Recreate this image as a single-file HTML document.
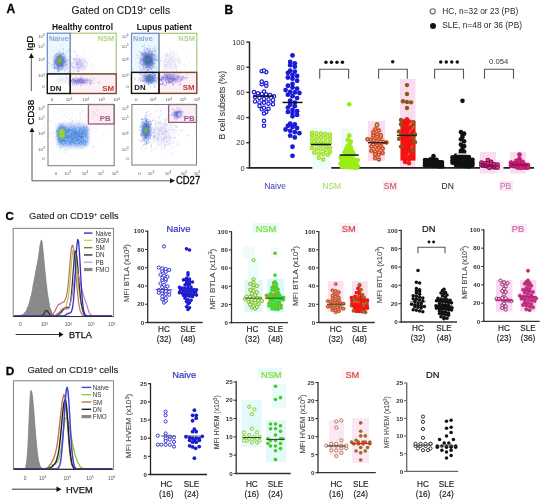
<!DOCTYPE html>
<html><head><meta charset="utf-8"><style>
html,body{margin:0;padding:0;background:#fff;width:550px;height:500px;overflow:hidden}
svg{display:block;font-family:"Liberation Sans",sans-serif;will-change:transform;filter:blur(0.35px)}
</style></head><body><svg width="550" height="500" viewBox="0 0 550 500" font-family='"Liberation Sans", sans-serif'><defs><radialGradient id="g0"><stop offset="0" stop-color="#a8a0e8" stop-opacity="1"/><stop offset="0.5" stop-color="#a8a0e8" stop-opacity="0.55"/><stop offset="1" stop-color="#a8a0e8" stop-opacity="0"/></radialGradient><radialGradient id="g1"><stop offset="0" stop-color="#a8b8ec" stop-opacity="1"/><stop offset="0.5" stop-color="#a8b8ec" stop-opacity="0.55"/><stop offset="1" stop-color="#a8b8ec" stop-opacity="0"/></radialGradient><radialGradient id="g2"><stop offset="0" stop-color="#8880dc" stop-opacity="1"/><stop offset="0.5" stop-color="#8880dc" stop-opacity="0.55"/><stop offset="1" stop-color="#8880dc" stop-opacity="0"/></radialGradient><radialGradient id="g3"><stop offset="0" stop-color="#6a78d8" stop-opacity="1"/><stop offset="0.5" stop-color="#6a78d8" stop-opacity="0.55"/><stop offset="1" stop-color="#6a78d8" stop-opacity="0"/></radialGradient><radialGradient id="g4"><stop offset="0" stop-color="#3a58b8" stop-opacity="1"/><stop offset="0.5" stop-color="#3a58b8" stop-opacity="0.55"/><stop offset="1" stop-color="#3a58b8" stop-opacity="0"/></radialGradient><radialGradient id="g5"><stop offset="0" stop-color="#b8b0f0" stop-opacity="1"/><stop offset="0.5" stop-color="#b8b0f0" stop-opacity="0.55"/><stop offset="1" stop-color="#b8b0f0" stop-opacity="0"/></radialGradient><radialGradient id="g6"><stop offset="0" stop-color="#8a80e0" stop-opacity="1"/><stop offset="0.5" stop-color="#8a80e0" stop-opacity="0.55"/><stop offset="1" stop-color="#8a80e0" stop-opacity="0"/></radialGradient><radialGradient id="g7"><stop offset="0" stop-color="#6878d8" stop-opacity="1"/><stop offset="0.5" stop-color="#6878d8" stop-opacity="0.55"/><stop offset="1" stop-color="#6878d8" stop-opacity="0"/></radialGradient><radialGradient id="g8"><stop offset="0" stop-color="#2a48b0" stop-opacity="1"/><stop offset="0.5" stop-color="#2a48b0" stop-opacity="0.55"/><stop offset="1" stop-color="#2a48b0" stop-opacity="0"/></radialGradient><radialGradient id="g9"><stop offset="0" stop-color="#2a50b0" stop-opacity="1"/><stop offset="0.5" stop-color="#2a50b0" stop-opacity="0.55"/><stop offset="1" stop-color="#2a50b0" stop-opacity="0"/></radialGradient><radialGradient id="g10"><stop offset="0" stop-color="#2a5ac8" stop-opacity="1"/><stop offset="0.5" stop-color="#2a5ac8" stop-opacity="0.55"/><stop offset="1" stop-color="#2a5ac8" stop-opacity="0"/></radialGradient><radialGradient id="g11"><stop offset="0" stop-color="#4a70d0" stop-opacity="1"/><stop offset="0.5" stop-color="#4a70d0" stop-opacity="0.55"/><stop offset="1" stop-color="#4a70d0" stop-opacity="0"/></radialGradient><radialGradient id="g12"><stop offset="0" stop-color="#2a50b8" stop-opacity="1"/><stop offset="0.5" stop-color="#2a50b8" stop-opacity="0.55"/><stop offset="1" stop-color="#2a50b8" stop-opacity="0"/></radialGradient><radialGradient id="g13"><stop offset="0" stop-color="#7080e0" stop-opacity="1"/><stop offset="0.5" stop-color="#7080e0" stop-opacity="0.55"/><stop offset="1" stop-color="#7080e0" stop-opacity="0"/></radialGradient><radialGradient id="g14"><stop offset="0" stop-color="#5068d0" stop-opacity="1"/><stop offset="0.5" stop-color="#5068d0" stop-opacity="0.55"/><stop offset="1" stop-color="#5068d0" stop-opacity="0"/></radialGradient><filter id="soft" x="-20%" y="-20%" width="140%" height="140%"><feGaussianBlur stdDeviation="0.45"/></filter><filter id="soft2" x="-50%" y="-50%" width="200%" height="200%"><feGaussianBlur stdDeviation="0.9"/></filter><filter id="soft3" x="-30%" y="-30%" width="160%" height="160%"><feGaussianBlur stdDeviation="1.8"/></filter></defs><text x="6.40" y="12.80" font-size="12" fill="#000" font-weight="bold" text-anchor="start" stroke="#000" stroke-width="0.3">A</text>
<text x="71.50" y="14.00" font-size="10.3" fill="#1a1a1a" font-weight="normal" text-anchor="start" stroke="#1a1a1a" stroke-width="0.1">Gated on CD19<tspan font-size="6" dy="-4">+</tspan><tspan dy="4"> cells</tspan></text>
<text x="82.50" y="29.80" font-size="8.4" fill="#111" font-weight="bold" text-anchor="middle" >Healthy control</text>
<text x="164.30" y="29.80" font-size="8.4" fill="#111" font-weight="bold" text-anchor="middle" >Lupus patient</text>
<rect x="47.30" y="33.20" width="22.90" height="40.70" fill="#ecf6fd" stroke="none" stroke-width="1" />
<rect x="70.20" y="73.90" width="46.00" height="19.60" fill="#fcf0f6" stroke="none" stroke-width="1" />
<ellipse cx="79.0" cy="64.0" rx="10.0" ry="9.0" fill="url(#g0)" opacity="0.45"/>
<g filter="url(#soft)"><path d="M67.2 66.4h1.0v1.0h-1.0zM80.0 64.0h1.0v1.0h-1.0zM79.0 67.7h1.0v1.0h-1.0zM72.2 67.0h1.0v1.0h-1.0zM77.1 59.3h1.0v1.0h-1.0zM82.6 63.5h1.0v1.0h-1.0zM71.7 66.6h1.0v1.0h-1.0zM79.3 59.6h1.0v1.0h-1.0zM78.7 61.0h1.0v1.0h-1.0zM83.2 67.0h1.0v1.0h-1.0zM74.3 73.3h1.0v1.0h-1.0zM76.8 61.7h1.0v1.0h-1.0zM76.1 67.2h1.0v1.0h-1.0zM79.9 66.1h1.0v1.0h-1.0zM80.4 60.1h1.0v1.0h-1.0zM73.5 60.3h1.0v1.0h-1.0zM82.2 65.1h1.0v1.0h-1.0zM76.5 64.1h1.0v1.0h-1.0zM77.0 69.5h1.0v1.0h-1.0zM73.8 51.3h1.0v1.0h-1.0zM76.6 62.4h1.0v1.0h-1.0zM77.9 59.2h1.0v1.0h-1.0zM73.1 69.6h1.0v1.0h-1.0zM82.8 59.7h1.0v1.0h-1.0zM75.4 59.3h1.0v1.0h-1.0z" fill="#8080e0" opacity="0.3"/><path d="M93.4 65.3h1.0v1.0h-1.0zM84.9 61.0h1.0v1.0h-1.0zM74.4 70.1h1.0v1.0h-1.0zM71.3 56.8h1.0v1.0h-1.0zM82.1 61.9h1.0v1.0h-1.0zM67.1 63.7h1.0v1.0h-1.0zM76.2 64.1h1.0v1.0h-1.0zM82.8 67.7h1.0v1.0h-1.0zM79.1 59.6h1.0v1.0h-1.0zM83.5 49.7h1.0v1.0h-1.0zM74.8 59.8h1.0v1.0h-1.0zM76.9 63.2h1.0v1.0h-1.0zM85.2 61.6h1.0v1.0h-1.0zM70.2 69.0h1.0v1.0h-1.0zM73.5 67.0h1.0v1.0h-1.0zM70.6 76.1h1.0v1.0h-1.0zM81.2 62.3h1.0v1.0h-1.0zM77.8 71.4h1.0v1.0h-1.0zM77.1 63.6h1.0v1.0h-1.0zM73.1 71.1h1.0v1.0h-1.0zM70.8 62.5h1.0v1.0h-1.0zM76.0 64.8h1.0v1.0h-1.0zM77.4 62.8h1.0v1.0h-1.0zM80.4 65.0h1.0v1.0h-1.0zM77.7 69.1h1.0v1.0h-1.0z" fill="#8080e0" opacity="0.3"/><path d="M68.4 55.8h1.0v1.0h-1.0zM73.6 50.4h1.0v1.0h-1.0zM76.5 71.3h1.0v1.0h-1.0zM72.2 66.7h1.0v1.0h-1.0z" fill="#8080e0" opacity="0.3"/><path d="M71.2 65.4h1.0v1.0h-1.0zM75.6 61.4h1.0v1.0h-1.0zM73.1 58.5h1.0v1.0h-1.0zM70.1 58.4h1.0v1.0h-1.0zM75.0 58.8h1.0v1.0h-1.0zM79.1 58.5h1.0v1.0h-1.0zM62.0 66.1h1.0v1.0h-1.0zM78.1 64.3h1.0v1.0h-1.0zM78.3 62.8h1.0v1.0h-1.0zM79.3 58.3h1.0v1.0h-1.0zM78.9 70.3h1.0v1.0h-1.0zM70.7 64.2h1.0v1.0h-1.0zM83.3 75.1h1.0v1.0h-1.0zM84.1 67.3h1.0v1.0h-1.0zM79.2 71.3h1.0v1.0h-1.0zM67.1 68.7h1.0v1.0h-1.0zM81.6 63.1h1.0v1.0h-1.0zM78.5 61.6h1.0v1.0h-1.0zM81.2 65.0h1.0v1.0h-1.0zM79.6 63.7h1.0v1.0h-1.0zM75.4 55.0h1.0v1.0h-1.0zM82.0 66.1h1.0v1.0h-1.0zM76.2 58.3h1.0v1.0h-1.0zM86.5 64.8h1.0v1.0h-1.0zM70.2 63.6h1.0v1.0h-1.0z" fill="#9a80e0" opacity="0.3"/><path d="M78.5 64.3h1.0v1.0h-1.0zM75.0 51.6h1.0v1.0h-1.0zM79.8 61.3h1.0v1.0h-1.0zM77.8 66.9h1.0v1.0h-1.0zM76.5 57.2h1.0v1.0h-1.0zM76.9 60.4h1.0v1.0h-1.0zM78.1 71.4h1.0v1.0h-1.0zM69.2 55.7h1.0v1.0h-1.0zM82.7 52.0h1.0v1.0h-1.0zM92.1 55.3h1.0v1.0h-1.0zM68.2 61.5h1.0v1.0h-1.0zM77.1 65.2h1.0v1.0h-1.0zM75.1 67.9h1.0v1.0h-1.0zM69.5 62.6h1.0v1.0h-1.0zM85.3 66.0h1.0v1.0h-1.0zM88.0 59.2h1.0v1.0h-1.0zM71.6 72.6h1.0v1.0h-1.0zM75.7 63.1h1.0v1.0h-1.0z" fill="#9a80e0" opacity="0.3"/><path d="M81.4 69.0h1.0v1.0h-1.0zM77.6 65.6h1.0v1.0h-1.0zM87.0 61.9h1.0v1.0h-1.0zM73.6 57.8h1.0v1.0h-1.0zM67.8 67.0h1.0v1.0h-1.0zM77.0 63.4h1.0v1.0h-1.0zM67.1 71.7h1.0v1.0h-1.0zM79.6 60.5h1.0v1.0h-1.0zM81.2 69.0h1.0v1.0h-1.0zM90.5 63.5h1.0v1.0h-1.0zM86.1 78.8h1.0v1.0h-1.0zM79.6 67.3h1.0v1.0h-1.0zM82.2 65.0h1.0v1.0h-1.0zM76.2 61.7h1.0v1.0h-1.0zM83.1 69.4h1.0v1.0h-1.0zM77.5 66.5h1.0v1.0h-1.0zM67.6 59.9h1.0v1.0h-1.0zM87.2 62.6h1.0v1.0h-1.0zM64.1 61.8h1.0v1.0h-1.0zM85.2 66.4h1.0v1.0h-1.0zM92.0 66.7h1.0v1.0h-1.0zM83.6 58.6h1.0v1.0h-1.0zM76.6 62.2h1.0v1.0h-1.0zM77.7 58.6h1.0v1.0h-1.0zM79.8 61.7h1.0v1.0h-1.0z" fill="#7070d8" opacity="0.3"/><path d="M83.6 68.9h1.0v1.0h-1.0zM84.8 73.0h1.0v1.0h-1.0zM82.8 60.1h1.0v1.0h-1.0zM73.1 67.6h1.0v1.0h-1.0zM73.9 72.3h1.0v1.0h-1.0zM77.1 70.2h1.0v1.0h-1.0zM73.9 58.3h1.0v1.0h-1.0zM70.5 65.8h1.0v1.0h-1.0zM77.7 68.1h1.0v1.0h-1.0zM90.4 69.5h1.0v1.0h-1.0zM70.2 61.3h1.0v1.0h-1.0zM76.6 54.4h1.0v1.0h-1.0zM77.1 64.1h1.0v1.0h-1.0zM54.0 67.3h1.0v1.0h-1.0zM85.1 61.6h1.0v1.0h-1.0zM82.1 65.3h1.0v1.0h-1.0zM67.9 60.1h1.0v1.0h-1.0zM73.8 58.8h1.0v1.0h-1.0zM78.1 71.0h1.0v1.0h-1.0zM81.5 72.9h1.0v1.0h-1.0zM72.5 63.0h1.0v1.0h-1.0zM80.0 66.9h1.0v1.0h-1.0zM76.4 61.9h1.0v1.0h-1.0zM68.3 58.7h1.0v1.0h-1.0zM78.5 66.8h1.0v1.0h-1.0z" fill="#7070d8" opacity="0.3"/><path d="M79.4 62.8h1.0v1.0h-1.0zM66.9 61.1h1.0v1.0h-1.0zM73.7 58.8h1.0v1.0h-1.0z" fill="#7070d8" opacity="0.3"/></g>
<ellipse cx="62.0" cy="80.0" rx="8.0" ry="5.0" fill="url(#g1)" opacity="0.3"/>
<ellipse cx="80.0" cy="81.2" rx="11.0" ry="4.2" fill="url(#g2)" opacity="0.6"/>
<g filter="url(#soft)"><path d="M71.4 82.2h1.1v1.1h-1.1zM94.0 78.1h1.1v1.1h-1.1zM81.9 78.7h1.1v1.1h-1.1zM82.1 80.3h1.1v1.1h-1.1zM86.0 82.7h1.1v1.1h-1.1zM78.6 80.5h1.1v1.1h-1.1zM77.2 80.2h1.1v1.1h-1.1zM81.1 79.3h1.1v1.1h-1.1zM93.5 80.4h1.1v1.1h-1.1zM80.8 80.6h1.1v1.1h-1.1zM87.7 80.2h1.1v1.1h-1.1zM71.8 78.2h1.1v1.1h-1.1zM70.3 79.8h1.1v1.1h-1.1zM73.9 78.1h1.1v1.1h-1.1zM84.3 80.8h1.1v1.1h-1.1zM75.2 81.0h1.1v1.1h-1.1zM80.8 80.3h1.1v1.1h-1.1zM84.5 80.7h1.1v1.1h-1.1zM73.5 83.1h1.1v1.1h-1.1zM73.8 81.4h1.1v1.1h-1.1zM73.9 81.0h1.1v1.1h-1.1zM76.1 83.6h1.1v1.1h-1.1zM74.2 84.3h1.1v1.1h-1.1zM76.3 79.3h1.1v1.1h-1.1zM90.0 82.4h1.1v1.1h-1.1z" fill="#8080e0" opacity="0.4"/><path d="M81.2 79.5h1.1v1.1h-1.1zM71.4 80.0h1.1v1.1h-1.1zM72.6 78.0h1.1v1.1h-1.1zM74.6 79.9h1.1v1.1h-1.1zM76.8 81.9h1.1v1.1h-1.1zM71.4 80.7h1.1v1.1h-1.1zM86.6 78.1h1.1v1.1h-1.1zM92.0 77.7h1.1v1.1h-1.1zM69.3 80.2h1.1v1.1h-1.1zM74.6 81.3h1.1v1.1h-1.1zM88.7 79.1h1.1v1.1h-1.1zM67.1 78.7h1.1v1.1h-1.1zM84.6 79.8h1.1v1.1h-1.1zM74.9 80.8h1.1v1.1h-1.1zM89.1 80.6h1.1v1.1h-1.1zM73.1 82.8h1.1v1.1h-1.1zM74.6 78.3h1.1v1.1h-1.1zM72.8 79.9h1.1v1.1h-1.1zM79.7 78.4h1.1v1.1h-1.1zM79.3 81.9h1.1v1.1h-1.1zM82.4 81.2h1.1v1.1h-1.1zM64.9 81.1h1.1v1.1h-1.1zM90.9 80.3h1.1v1.1h-1.1zM80.1 83.0h1.1v1.1h-1.1zM76.8 80.1h1.1v1.1h-1.1z" fill="#8080e0" opacity="0.4"/><path d="M82.7 82.7h1.1v1.1h-1.1zM72.5 78.9h1.1v1.1h-1.1zM83.1 82.2h1.1v1.1h-1.1zM80.0 84.8h1.1v1.1h-1.1z" fill="#8080e0" opacity="0.4"/><path d="M69.7 78.4h1.1v1.1h-1.1zM82.8 79.9h1.1v1.1h-1.1zM82.1 80.0h1.1v1.1h-1.1zM69.7 79.9h1.1v1.1h-1.1zM69.6 80.6h1.1v1.1h-1.1zM82.0 81.6h1.1v1.1h-1.1zM74.0 81.4h1.1v1.1h-1.1zM75.5 82.0h1.1v1.1h-1.1zM74.4 82.9h1.1v1.1h-1.1zM78.5 79.3h1.1v1.1h-1.1zM89.6 84.2h1.1v1.1h-1.1zM72.4 82.9h1.1v1.1h-1.1zM89.6 79.8h1.1v1.1h-1.1zM78.1 83.1h1.1v1.1h-1.1zM72.2 78.4h1.1v1.1h-1.1zM86.8 80.0h1.1v1.1h-1.1zM81.9 81.0h1.1v1.1h-1.1zM81.7 78.8h1.1v1.1h-1.1zM76.7 83.6h1.1v1.1h-1.1zM75.0 81.0h1.1v1.1h-1.1zM81.8 78.5h1.1v1.1h-1.1zM81.7 80.2h1.1v1.1h-1.1zM81.5 79.1h1.1v1.1h-1.1zM73.5 81.5h1.1v1.1h-1.1zM72.7 78.2h1.1v1.1h-1.1z" fill="#9a80e0" opacity="0.4"/><path d="M75.6 79.9h1.1v1.1h-1.1zM80.0 80.0h1.1v1.1h-1.1zM76.5 80.0h1.1v1.1h-1.1zM79.9 79.7h1.1v1.1h-1.1zM77.3 80.6h1.1v1.1h-1.1zM91.5 80.7h1.1v1.1h-1.1zM83.6 80.8h1.1v1.1h-1.1zM87.2 77.9h1.1v1.1h-1.1zM85.7 82.5h1.1v1.1h-1.1zM77.1 80.2h1.1v1.1h-1.1zM82.6 80.2h1.1v1.1h-1.1zM83.5 78.4h1.1v1.1h-1.1zM73.7 80.1h1.1v1.1h-1.1zM75.6 80.1h1.1v1.1h-1.1zM78.1 80.5h1.1v1.1h-1.1zM76.2 80.9h1.1v1.1h-1.1zM76.1 84.4h1.1v1.1h-1.1zM79.8 78.9h1.1v1.1h-1.1zM73.1 81.2h1.1v1.1h-1.1zM78.3 80.3h1.1v1.1h-1.1z" fill="#9a80e0" opacity="0.4"/><path d="M87.3 79.4h1.1v1.1h-1.1zM84.1 79.7h1.1v1.1h-1.1zM86.4 82.0h1.1v1.1h-1.1zM76.9 78.2h1.1v1.1h-1.1zM81.2 81.6h1.1v1.1h-1.1zM75.6 80.2h1.1v1.1h-1.1zM83.3 81.8h1.1v1.1h-1.1zM80.6 81.8h1.1v1.1h-1.1zM78.5 81.4h1.1v1.1h-1.1zM81.2 85.0h1.1v1.1h-1.1zM84.5 80.7h1.1v1.1h-1.1zM74.4 79.7h1.1v1.1h-1.1zM74.3 80.8h1.1v1.1h-1.1zM98.0 82.3h1.1v1.1h-1.1zM77.1 81.5h1.1v1.1h-1.1zM71.8 80.9h1.1v1.1h-1.1zM81.4 78.2h1.1v1.1h-1.1zM77.3 80.1h1.1v1.1h-1.1zM70.7 79.9h1.1v1.1h-1.1zM73.4 80.8h1.1v1.1h-1.1zM81.7 79.0h1.1v1.1h-1.1zM76.9 78.7h1.1v1.1h-1.1zM78.7 81.6h1.1v1.1h-1.1zM76.4 82.4h1.1v1.1h-1.1zM68.6 81.9h1.1v1.1h-1.1z" fill="#7070d8" opacity="0.4"/><path d="M82.5 77.8h1.1v1.1h-1.1zM84.3 83.4h1.1v1.1h-1.1zM79.6 81.9h1.1v1.1h-1.1zM80.1 78.9h1.1v1.1h-1.1zM80.3 75.4h1.1v1.1h-1.1zM69.1 81.2h1.1v1.1h-1.1zM77.8 81.8h1.1v1.1h-1.1zM84.7 79.5h1.1v1.1h-1.1zM90.9 80.2h1.1v1.1h-1.1zM89.8 78.4h1.1v1.1h-1.1zM66.1 76.3h1.1v1.1h-1.1zM80.6 80.0h1.1v1.1h-1.1zM78.5 79.9h1.1v1.1h-1.1zM86.2 83.5h1.1v1.1h-1.1zM76.8 82.3h1.1v1.1h-1.1zM77.7 78.7h1.1v1.1h-1.1zM89.4 79.5h1.1v1.1h-1.1zM78.2 78.2h1.1v1.1h-1.1zM79.2 81.8h1.1v1.1h-1.1zM81.1 82.2h1.1v1.1h-1.1zM79.3 82.9h1.1v1.1h-1.1zM70.5 79.4h1.1v1.1h-1.1zM90.5 82.6h1.1v1.1h-1.1zM74.7 80.1h1.1v1.1h-1.1zM83.1 82.6h1.1v1.1h-1.1z" fill="#7070d8" opacity="0.4"/><path d="M81.3 81.2h1.1v1.1h-1.1zM89.5 82.6h1.1v1.1h-1.1zM87.5 81.2h1.1v1.1h-1.1zM80.0 79.1h1.1v1.1h-1.1zM81.7 79.7h1.1v1.1h-1.1zM78.2 81.3h1.1v1.1h-1.1zM79.1 77.5h1.1v1.1h-1.1zM80.6 77.6h1.1v1.1h-1.1zM73.1 80.3h1.1v1.1h-1.1zM73.1 78.5h1.1v1.1h-1.1zM79.1 79.3h1.1v1.1h-1.1zM68.5 80.6h1.1v1.1h-1.1zM86.3 79.4h1.1v1.1h-1.1zM67.8 83.4h1.1v1.1h-1.1zM75.6 80.8h1.1v1.1h-1.1zM71.0 80.0h1.1v1.1h-1.1zM85.8 80.0h1.1v1.1h-1.1zM75.0 79.3h1.1v1.1h-1.1zM84.8 81.2h1.1v1.1h-1.1zM92.1 82.4h1.1v1.1h-1.1zM82.3 80.9h1.1v1.1h-1.1zM76.9 80.1h1.1v1.1h-1.1zM70.4 81.6h1.1v1.1h-1.1zM72.0 79.1h1.1v1.1h-1.1zM69.3 81.7h1.1v1.1h-1.1z" fill="#5858c0" opacity="0.4"/><path d="M71.8 81.6h1.1v1.1h-1.1zM75.2 82.0h1.1v1.1h-1.1zM89.2 82.6h1.1v1.1h-1.1zM75.7 76.8h1.1v1.1h-1.1zM79.6 81.7h1.1v1.1h-1.1zM77.1 79.2h1.1v1.1h-1.1zM80.4 81.9h1.1v1.1h-1.1zM68.6 77.6h1.1v1.1h-1.1zM84.0 79.0h1.1v1.1h-1.1zM80.2 81.6h1.1v1.1h-1.1zM74.8 81.1h1.1v1.1h-1.1zM73.5 79.2h1.1v1.1h-1.1zM81.9 80.3h1.1v1.1h-1.1zM81.6 82.8h1.1v1.1h-1.1zM78.9 80.4h1.1v1.1h-1.1zM82.5 80.1h1.1v1.1h-1.1zM72.0 84.5h1.1v1.1h-1.1zM78.5 79.1h1.1v1.1h-1.1zM82.3 82.3h1.1v1.1h-1.1zM98.3 81.7h1.1v1.1h-1.1zM77.3 81.0h1.1v1.1h-1.1zM80.7 77.3h1.1v1.1h-1.1zM77.7 80.0h1.1v1.1h-1.1zM80.0 79.7h1.1v1.1h-1.1zM76.0 83.2h1.1v1.1h-1.1z" fill="#5858c0" opacity="0.4"/><path d="M83.5 82.0h1.1v1.1h-1.1z" fill="#5858c0" opacity="0.4"/></g>
<ellipse cx="60.0" cy="61.5" rx="8.0" ry="10.5" fill="url(#g3)" opacity="0.9"/>
<ellipse cx="60.0" cy="61.2" rx="5.0" ry="7.5" fill="url(#g4)" opacity="0.9"/>
<g filter="url(#soft)"><path d="M56.2 64.2h1.1v1.1h-1.1zM60.2 58.8h1.1v1.1h-1.1zM55.9 60.3h1.1v1.1h-1.1zM57.3 56.9h1.1v1.1h-1.1zM57.0 60.2h1.1v1.1h-1.1zM57.6 56.3h1.1v1.1h-1.1zM63.4 57.8h1.1v1.1h-1.1zM57.8 65.9h1.1v1.1h-1.1zM54.0 60.8h1.1v1.1h-1.1zM55.8 59.1h1.1v1.1h-1.1zM57.7 63.9h1.1v1.1h-1.1zM59.8 63.1h1.1v1.1h-1.1zM61.1 63.7h1.1v1.1h-1.1zM59.7 62.3h1.1v1.1h-1.1zM59.4 55.4h1.1v1.1h-1.1zM56.5 59.3h1.1v1.1h-1.1zM58.2 57.9h1.1v1.1h-1.1zM54.9 59.2h1.1v1.1h-1.1zM54.0 68.1h1.1v1.1h-1.1zM58.3 65.2h1.1v1.1h-1.1zM59.3 63.2h1.1v1.1h-1.1zM64.3 57.1h1.1v1.1h-1.1zM58.2 67.7h1.1v1.1h-1.1zM58.2 68.5h1.1v1.1h-1.1zM60.7 58.6h1.1v1.1h-1.1z" fill="#3060d0" opacity="0.4"/><path d="M62.9 60.7h1.1v1.1h-1.1zM62.2 53.7h1.1v1.1h-1.1zM57.9 63.1h1.1v1.1h-1.1zM61.5 61.3h1.1v1.1h-1.1zM60.2 55.2h1.1v1.1h-1.1zM55.2 62.1h1.1v1.1h-1.1zM59.9 58.4h1.1v1.1h-1.1zM63.0 63.4h1.1v1.1h-1.1zM60.0 54.9h1.1v1.1h-1.1zM57.4 58.1h1.1v1.1h-1.1zM59.1 63.5h1.1v1.1h-1.1zM56.0 63.7h1.1v1.1h-1.1zM64.1 61.5h1.1v1.1h-1.1zM57.4 63.5h1.1v1.1h-1.1zM57.9 57.1h1.1v1.1h-1.1zM58.5 58.5h1.1v1.1h-1.1zM54.6 61.8h1.1v1.1h-1.1z" fill="#3060d0" opacity="0.4"/><path d="M64.6 54.3h1.1v1.1h-1.1zM58.0 55.4h1.1v1.1h-1.1zM54.7 59.0h1.1v1.1h-1.1zM54.0 65.1h1.1v1.1h-1.1zM60.7 59.7h1.1v1.1h-1.1zM62.7 66.7h1.1v1.1h-1.1zM67.6 50.1h1.1v1.1h-1.1zM59.8 65.0h1.1v1.1h-1.1zM61.8 63.0h1.1v1.1h-1.1zM65.4 62.5h1.1v1.1h-1.1zM63.1 58.5h1.1v1.1h-1.1zM62.2 68.4h1.1v1.1h-1.1zM60.9 58.8h1.1v1.1h-1.1zM60.7 64.2h1.1v1.1h-1.1zM59.6 54.4h1.1v1.1h-1.1zM59.9 53.2h1.1v1.1h-1.1zM59.0 63.3h1.1v1.1h-1.1zM58.2 61.9h1.1v1.1h-1.1zM59.6 69.5h1.1v1.1h-1.1zM54.7 61.4h1.1v1.1h-1.1zM59.5 62.3h1.1v1.1h-1.1zM57.7 60.7h1.1v1.1h-1.1zM55.8 59.8h1.1v1.1h-1.1zM54.3 67.2h1.1v1.1h-1.1zM58.8 59.4h1.1v1.1h-1.1z" fill="#4a88e8" opacity="0.4"/><path d="M66.0 58.3h1.1v1.1h-1.1zM59.1 50.5h1.1v1.1h-1.1zM64.7 62.4h1.1v1.1h-1.1zM60.8 63.5h1.1v1.1h-1.1zM57.9 62.6h1.1v1.1h-1.1zM59.5 65.2h1.1v1.1h-1.1zM60.0 55.5h1.1v1.1h-1.1zM58.6 58.2h1.1v1.1h-1.1zM64.3 60.2h1.1v1.1h-1.1zM54.9 54.6h1.1v1.1h-1.1zM54.3 62.3h1.1v1.1h-1.1zM66.3 60.8h1.1v1.1h-1.1zM62.1 57.5h1.1v1.1h-1.1zM47.9 62.7h1.1v1.1h-1.1zM60.5 64.6h1.1v1.1h-1.1zM65.9 63.7h1.1v1.1h-1.1zM63.0 63.0h1.1v1.1h-1.1zM63.9 61.9h1.1v1.1h-1.1zM57.2 58.9h1.1v1.1h-1.1zM61.4 63.9h1.1v1.1h-1.1zM60.2 63.0h1.1v1.1h-1.1zM66.4 67.6h1.1v1.1h-1.1zM51.6 66.2h1.1v1.1h-1.1zM53.5 61.0h1.1v1.1h-1.1zM62.3 59.6h1.1v1.1h-1.1z" fill="#4a88e8" opacity="0.4"/><path d="M60.4 55.5h1.1v1.1h-1.1zM58.2 58.2h1.1v1.1h-1.1zM60.6 65.7h1.1v1.1h-1.1z" fill="#4a88e8" opacity="0.4"/><path d="M54.8 56.3h1.1v1.1h-1.1zM62.0 61.0h1.1v1.1h-1.1zM60.3 61.3h1.1v1.1h-1.1zM61.2 59.0h1.1v1.1h-1.1zM57.7 57.6h1.1v1.1h-1.1zM61.6 62.6h1.1v1.1h-1.1zM63.2 66.0h1.1v1.1h-1.1zM64.9 64.2h1.1v1.1h-1.1zM59.6 63.6h1.1v1.1h-1.1zM58.8 59.6h1.1v1.1h-1.1zM59.9 57.7h1.1v1.1h-1.1zM58.5 61.7h1.1v1.1h-1.1zM64.0 70.2h1.1v1.1h-1.1zM54.4 67.9h1.1v1.1h-1.1zM62.8 48.8h1.1v1.1h-1.1zM61.2 68.8h1.1v1.1h-1.1zM57.8 68.2h1.1v1.1h-1.1zM60.3 61.5h1.1v1.1h-1.1zM62.9 57.1h1.1v1.1h-1.1zM54.8 62.2h1.1v1.1h-1.1zM61.2 54.1h1.1v1.1h-1.1zM63.3 56.1h1.1v1.1h-1.1zM57.2 52.9h1.1v1.1h-1.1zM59.1 53.6h1.1v1.1h-1.1zM59.1 64.7h1.1v1.1h-1.1z" fill="#2a50c0" opacity="0.4"/><path d="M60.2 63.0h1.1v1.1h-1.1zM60.6 61.5h1.1v1.1h-1.1zM59.3 60.6h1.1v1.1h-1.1zM56.8 55.4h1.1v1.1h-1.1zM54.5 59.2h1.1v1.1h-1.1zM55.9 67.2h1.1v1.1h-1.1zM56.0 53.6h1.1v1.1h-1.1zM56.9 57.2h1.1v1.1h-1.1zM58.1 71.2h1.1v1.1h-1.1zM59.5 58.7h1.1v1.1h-1.1zM60.5 61.4h1.1v1.1h-1.1zM61.7 65.4h1.1v1.1h-1.1zM60.7 55.5h1.1v1.1h-1.1zM57.2 65.8h1.1v1.1h-1.1zM60.0 58.3h1.1v1.1h-1.1zM60.8 64.8h1.1v1.1h-1.1zM61.8 60.0h1.1v1.1h-1.1zM57.5 67.2h1.1v1.1h-1.1zM58.6 60.3h1.1v1.1h-1.1zM59.9 62.7h1.1v1.1h-1.1zM57.9 70.5h1.1v1.1h-1.1zM57.9 62.3h1.1v1.1h-1.1zM60.6 59.7h1.1v1.1h-1.1zM57.0 65.0h1.1v1.1h-1.1z" fill="#2a50c0" opacity="0.4"/><path d="M63.2 57.7h1.1v1.1h-1.1zM59.5 55.4h1.1v1.1h-1.1zM63.0 52.9h1.1v1.1h-1.1zM56.8 57.5h1.1v1.1h-1.1zM65.8 51.7h1.1v1.1h-1.1zM62.5 65.1h1.1v1.1h-1.1zM61.5 61.4h1.1v1.1h-1.1zM64.4 55.5h1.1v1.1h-1.1zM58.0 66.2h1.1v1.1h-1.1zM62.1 60.0h1.1v1.1h-1.1zM65.1 58.7h1.1v1.1h-1.1zM60.3 60.9h1.1v1.1h-1.1zM60.1 57.5h1.1v1.1h-1.1zM60.5 60.7h1.1v1.1h-1.1zM55.8 56.8h1.1v1.1h-1.1zM59.7 59.3h1.1v1.1h-1.1zM60.4 60.7h1.1v1.1h-1.1zM59.7 60.9h1.1v1.1h-1.1zM60.9 59.3h1.1v1.1h-1.1zM61.3 59.6h1.1v1.1h-1.1zM61.6 59.6h1.1v1.1h-1.1zM56.6 61.8h1.1v1.1h-1.1zM60.9 58.5h1.1v1.1h-1.1zM62.4 61.5h1.1v1.1h-1.1zM53.1 63.9h1.1v1.1h-1.1z" fill="#8080e0" opacity="0.4"/><path d="M60.0 57.3h1.1v1.1h-1.1zM62.3 64.8h1.1v1.1h-1.1zM57.2 63.8h1.1v1.1h-1.1zM58.8 57.7h1.1v1.1h-1.1zM56.7 70.9h1.1v1.1h-1.1zM64.9 68.2h1.1v1.1h-1.1zM58.4 69.9h1.1v1.1h-1.1zM63.7 61.0h1.1v1.1h-1.1zM56.9 57.5h1.1v1.1h-1.1zM58.1 70.4h1.1v1.1h-1.1zM57.0 59.3h1.1v1.1h-1.1zM59.1 64.4h1.1v1.1h-1.1zM54.2 65.4h1.1v1.1h-1.1zM63.5 61.3h1.1v1.1h-1.1zM59.9 59.3h1.1v1.1h-1.1zM62.3 66.4h1.1v1.1h-1.1zM60.6 59.1h1.1v1.1h-1.1zM55.4 62.6h1.1v1.1h-1.1zM59.6 63.2h1.1v1.1h-1.1zM61.0 63.0h1.1v1.1h-1.1zM64.5 62.4h1.1v1.1h-1.1zM63.7 59.8h1.1v1.1h-1.1zM58.1 51.4h1.1v1.1h-1.1zM53.8 65.0h1.1v1.1h-1.1zM51.8 64.1h1.1v1.1h-1.1z" fill="#8080e0" opacity="0.4"/><path d="M58.3 61.5h1.1v1.1h-1.1zM63.4 65.2h1.1v1.1h-1.1z" fill="#8080e0" opacity="0.4"/><path d="M56.0 61.9h1.1v1.1h-1.1zM62.9 57.7h1.1v1.1h-1.1zM62.1 64.6h1.1v1.1h-1.1zM64.4 59.5h1.1v1.1h-1.1zM57.8 60.6h1.1v1.1h-1.1zM55.6 63.1h1.1v1.1h-1.1zM59.8 60.6h1.1v1.1h-1.1zM58.9 64.5h1.1v1.1h-1.1zM59.5 64.8h1.1v1.1h-1.1zM57.8 55.6h1.1v1.1h-1.1zM53.1 58.4h1.1v1.1h-1.1zM58.5 61.0h1.1v1.1h-1.1zM66.1 65.6h1.1v1.1h-1.1zM54.8 64.3h1.1v1.1h-1.1zM59.0 52.6h1.1v1.1h-1.1zM54.5 61.0h1.1v1.1h-1.1zM54.5 61.1h1.1v1.1h-1.1zM57.4 64.2h1.1v1.1h-1.1zM59.8 63.7h1.1v1.1h-1.1zM52.6 56.6h1.1v1.1h-1.1zM56.0 61.6h1.1v1.1h-1.1zM53.9 60.0h1.1v1.1h-1.1zM56.8 68.3h1.1v1.1h-1.1zM58.0 57.4h1.1v1.1h-1.1zM58.1 65.6h1.1v1.1h-1.1z" fill="#9a80e0" opacity="0.4"/><path d="M58.0 55.5h1.1v1.1h-1.1zM62.1 63.7h1.1v1.1h-1.1zM56.9 61.5h1.1v1.1h-1.1zM59.0 65.6h1.1v1.1h-1.1zM60.1 54.3h1.1v1.1h-1.1zM59.3 64.3h1.1v1.1h-1.1zM59.6 59.0h1.1v1.1h-1.1zM60.4 58.4h1.1v1.1h-1.1zM57.0 69.6h1.1v1.1h-1.1zM61.9 62.2h1.1v1.1h-1.1zM63.0 53.4h1.1v1.1h-1.1zM53.4 66.8h1.1v1.1h-1.1zM58.7 65.6h1.1v1.1h-1.1zM57.9 62.4h1.1v1.1h-1.1zM55.4 65.7h1.1v1.1h-1.1zM59.2 61.8h1.1v1.1h-1.1zM60.8 66.7h1.1v1.1h-1.1zM57.2 59.8h1.1v1.1h-1.1zM62.4 62.7h1.1v1.1h-1.1zM56.5 61.1h1.1v1.1h-1.1zM53.3 66.5h1.1v1.1h-1.1zM57.0 67.8h1.1v1.1h-1.1zM60.4 60.1h1.1v1.1h-1.1zM56.7 56.8h1.1v1.1h-1.1zM53.1 62.8h1.1v1.1h-1.1z" fill="#9a80e0" opacity="0.4"/><path d="M60.0 67.4h1.1v1.1h-1.1zM66.8 63.8h1.1v1.1h-1.1zM56.9 57.2h1.1v1.1h-1.1zM65.5 68.6h1.1v1.1h-1.1zM62.3 52.5h1.1v1.1h-1.1zM60.3 61.1h1.1v1.1h-1.1z" fill="#9a80e0" opacity="0.4"/><path d="M59.0 62.4h1.1v1.1h-1.1zM68.9 48.4h1.1v1.1h-1.1zM61.1 58.7h1.1v1.1h-1.1zM59.9 60.4h1.1v1.1h-1.1zM59.0 58.4h1.1v1.1h-1.1zM60.5 64.1h1.1v1.1h-1.1zM58.7 64.6h1.1v1.1h-1.1zM58.1 57.6h1.1v1.1h-1.1zM55.4 60.4h1.1v1.1h-1.1zM62.2 64.3h1.1v1.1h-1.1zM54.0 64.0h1.1v1.1h-1.1zM56.6 56.1h1.1v1.1h-1.1zM54.3 62.5h1.1v1.1h-1.1zM61.8 65.1h1.1v1.1h-1.1zM64.5 59.7h1.1v1.1h-1.1zM53.4 67.7h1.1v1.1h-1.1zM59.1 68.7h1.1v1.1h-1.1zM62.3 51.8h1.1v1.1h-1.1zM63.7 61.1h1.1v1.1h-1.1zM57.4 68.0h1.1v1.1h-1.1zM57.5 63.8h1.1v1.1h-1.1zM57.5 56.0h1.1v1.1h-1.1zM65.7 60.3h1.1v1.1h-1.1zM58.9 57.4h1.1v1.1h-1.1zM61.8 64.3h1.1v1.1h-1.1z" fill="#7070d8" opacity="0.4"/><path d="M57.1 57.4h1.1v1.1h-1.1zM60.5 60.8h1.1v1.1h-1.1zM57.2 69.0h1.1v1.1h-1.1zM63.1 60.8h1.1v1.1h-1.1zM59.2 64.5h1.1v1.1h-1.1zM63.0 58.8h1.1v1.1h-1.1zM59.3 57.6h1.1v1.1h-1.1zM54.2 54.3h1.1v1.1h-1.1zM61.0 59.8h1.1v1.1h-1.1zM58.1 56.0h1.1v1.1h-1.1zM59.2 56.8h1.1v1.1h-1.1zM61.1 62.9h1.1v1.1h-1.1zM65.8 64.8h1.1v1.1h-1.1zM60.4 64.6h1.1v1.1h-1.1zM60.5 59.9h1.1v1.1h-1.1zM60.7 67.5h1.1v1.1h-1.1zM54.9 67.1h1.1v1.1h-1.1zM60.2 63.2h1.1v1.1h-1.1zM64.7 60.7h1.1v1.1h-1.1zM62.4 59.4h1.1v1.1h-1.1zM60.8 60.4h1.1v1.1h-1.1zM57.2 66.5h1.1v1.1h-1.1zM62.2 59.8h1.1v1.1h-1.1z" fill="#7070d8" opacity="0.4"/></g>
<g filter="url(#soft2)"><ellipse cx="59.60" cy="60.60" rx="2.60" ry="4.40" fill="#4a8a90" opacity="0.8"/><ellipse cx="59.60" cy="60.60" rx="2.08" ry="3.52" fill="#68b030" opacity="0.95"/><ellipse cx="59.60" cy="60.60" rx="1.30" ry="2.20" fill="#90c828" opacity="0.9"/></g>
<rect x="131.50" y="33.30" width="27.50" height="39.10" fill="#ecf6fd" stroke="none" stroke-width="1" />
<rect x="159.00" y="72.40" width="37.80" height="21.00" fill="#fcf0f6" stroke="none" stroke-width="1" />
<ellipse cx="170.0" cy="62.0" rx="12.0" ry="11.0" fill="url(#g5)" opacity="0.3"/>
<g filter="url(#soft)"><path d="M161.1 35.0h1.0v1.0h-1.0zM171.4 68.9h1.0v1.0h-1.0zM165.9 61.1h1.0v1.0h-1.0zM185.5 55.7h1.0v1.0h-1.0zM165.7 60.7h1.0v1.0h-1.0zM166.5 70.5h1.0v1.0h-1.0zM167.2 62.9h1.0v1.0h-1.0zM165.4 58.9h1.0v1.0h-1.0zM154.4 65.4h1.0v1.0h-1.0zM173.0 52.7h1.0v1.0h-1.0zM177.5 59.6h1.0v1.0h-1.0zM171.4 75.7h1.0v1.0h-1.0zM168.3 48.9h1.0v1.0h-1.0zM159.8 49.4h1.0v1.0h-1.0zM164.3 65.8h1.0v1.0h-1.0zM179.7 61.1h1.0v1.0h-1.0zM160.9 57.6h1.0v1.0h-1.0zM164.9 58.2h1.0v1.0h-1.0zM165.2 55.7h1.0v1.0h-1.0zM184.0 66.2h1.0v1.0h-1.0zM164.9 64.8h1.0v1.0h-1.0zM152.2 73.0h1.0v1.0h-1.0zM166.6 54.5h1.0v1.0h-1.0zM174.3 63.3h1.0v1.0h-1.0zM156.2 60.1h1.0v1.0h-1.0z" fill="#8080e0" opacity="0.22"/><path d="M164.8 55.3h1.0v1.0h-1.0zM166.8 73.3h1.0v1.0h-1.0zM166.2 67.7h1.0v1.0h-1.0zM172.2 50.4h1.0v1.0h-1.0zM169.7 51.0h1.0v1.0h-1.0zM159.7 40.8h1.0v1.0h-1.0zM164.0 73.3h1.0v1.0h-1.0zM164.4 52.8h1.0v1.0h-1.0zM179.3 58.6h1.0v1.0h-1.0zM175.3 65.6h1.0v1.0h-1.0zM179.9 69.6h1.0v1.0h-1.0zM170.5 54.5h1.0v1.0h-1.0zM167.2 53.8h1.0v1.0h-1.0zM164.6 68.1h1.0v1.0h-1.0zM172.0 59.9h1.0v1.0h-1.0zM166.5 64.1h1.0v1.0h-1.0zM170.7 58.1h1.0v1.0h-1.0zM168.9 54.2h1.0v1.0h-1.0z" fill="#8080e0" opacity="0.22"/><path d="M191.0 57.5h1.0v1.0h-1.0zM160.1 52.3h1.0v1.0h-1.0zM158.5 43.4h1.0v1.0h-1.0zM170.2 57.5h1.0v1.0h-1.0zM173.8 67.9h1.0v1.0h-1.0zM177.6 66.6h1.0v1.0h-1.0zM179.1 59.7h1.0v1.0h-1.0zM166.5 72.2h1.0v1.0h-1.0zM169.2 65.4h1.0v1.0h-1.0zM161.3 65.4h1.0v1.0h-1.0zM173.6 68.2h1.0v1.0h-1.0zM169.0 59.5h1.0v1.0h-1.0zM156.7 59.3h1.0v1.0h-1.0zM162.3 69.6h1.0v1.0h-1.0zM167.7 75.6h1.0v1.0h-1.0zM164.9 65.0h1.0v1.0h-1.0zM178.8 61.5h1.0v1.0h-1.0zM162.3 54.3h1.0v1.0h-1.0zM173.6 53.3h1.0v1.0h-1.0zM169.6 53.7h1.0v1.0h-1.0zM163.1 48.6h1.0v1.0h-1.0zM179.7 44.3h1.0v1.0h-1.0zM171.7 58.0h1.0v1.0h-1.0zM167.5 61.8h1.0v1.0h-1.0zM172.4 52.4h1.0v1.0h-1.0z" fill="#9a80e0" opacity="0.22"/><path d="M166.8 65.4h1.0v1.0h-1.0zM161.5 68.2h1.0v1.0h-1.0zM162.8 69.7h1.0v1.0h-1.0zM167.6 56.0h1.0v1.0h-1.0zM169.4 64.4h1.0v1.0h-1.0zM160.4 70.3h1.0v1.0h-1.0zM186.8 58.8h1.0v1.0h-1.0zM169.6 57.8h1.0v1.0h-1.0zM166.7 65.3h1.0v1.0h-1.0zM167.2 65.5h1.0v1.0h-1.0zM170.5 51.0h1.0v1.0h-1.0zM173.3 61.1h1.0v1.0h-1.0zM179.3 62.8h1.0v1.0h-1.0zM175.7 68.3h1.0v1.0h-1.0z" fill="#9a80e0" opacity="0.22"/><path d="M164.2 63.9h1.0v1.0h-1.0zM181.2 61.5h1.0v1.0h-1.0zM178.3 57.5h1.0v1.0h-1.0zM189.7 62.0h1.0v1.0h-1.0zM175.9 66.7h1.0v1.0h-1.0zM174.9 63.9h1.0v1.0h-1.0zM165.9 66.3h1.0v1.0h-1.0zM154.3 47.6h1.0v1.0h-1.0zM174.7 65.8h1.0v1.0h-1.0zM165.1 69.7h1.0v1.0h-1.0zM164.2 65.7h1.0v1.0h-1.0zM163.7 62.1h1.0v1.0h-1.0zM172.4 56.9h1.0v1.0h-1.0zM172.9 57.1h1.0v1.0h-1.0zM168.4 60.2h1.0v1.0h-1.0zM171.1 64.5h1.0v1.0h-1.0zM167.2 53.8h1.0v1.0h-1.0zM174.3 59.2h1.0v1.0h-1.0zM177.9 57.4h1.0v1.0h-1.0zM159.2 71.6h1.0v1.0h-1.0zM164.9 61.5h1.0v1.0h-1.0zM170.5 66.7h1.0v1.0h-1.0zM166.7 54.4h1.0v1.0h-1.0zM173.3 51.2h1.0v1.0h-1.0zM166.3 55.8h1.0v1.0h-1.0z" fill="#7070d8" opacity="0.22"/><path d="M183.5 64.1h1.0v1.0h-1.0zM174.1 68.0h1.0v1.0h-1.0zM176.2 52.8h1.0v1.0h-1.0z" fill="#7070d8" opacity="0.22"/></g>
<ellipse cx="172.0" cy="78.5" rx="13.0" ry="5.5" fill="url(#g6)" opacity="0.8"/>
<g filter="url(#soft)"><path d="M171.5 77.2h1.1v1.1h-1.1zM155.2 75.1h1.1v1.1h-1.1zM169.3 78.1h1.1v1.1h-1.1zM171.2 77.2h1.1v1.1h-1.1zM180.0 77.5h1.1v1.1h-1.1zM159.7 79.6h1.1v1.1h-1.1zM182.3 75.3h1.1v1.1h-1.1zM162.4 79.6h1.1v1.1h-1.1zM168.9 77.3h1.1v1.1h-1.1zM179.8 72.9h1.1v1.1h-1.1zM171.2 77.8h1.1v1.1h-1.1zM167.7 80.2h1.1v1.1h-1.1zM166.3 74.8h1.1v1.1h-1.1zM161.9 75.9h1.1v1.1h-1.1zM163.8 73.6h1.1v1.1h-1.1zM164.9 79.9h1.1v1.1h-1.1zM176.9 76.0h1.1v1.1h-1.1zM156.7 78.7h1.1v1.1h-1.1zM171.2 78.2h1.1v1.1h-1.1zM165.8 78.7h1.1v1.1h-1.1zM176.4 81.4h1.1v1.1h-1.1zM167.8 73.8h1.1v1.1h-1.1zM167.9 79.6h1.1v1.1h-1.1zM170.1 74.5h1.1v1.1h-1.1zM173.8 78.9h1.1v1.1h-1.1z" fill="#8080e0" opacity="0.45"/><path d="M172.8 80.1h1.1v1.1h-1.1zM164.0 77.3h1.1v1.1h-1.1zM172.0 74.8h1.1v1.1h-1.1zM165.1 78.3h1.1v1.1h-1.1zM167.6 75.5h1.1v1.1h-1.1zM173.1 78.5h1.1v1.1h-1.1zM168.0 80.9h1.1v1.1h-1.1zM171.0 75.9h1.1v1.1h-1.1zM161.5 79.5h1.1v1.1h-1.1zM178.6 76.3h1.1v1.1h-1.1zM177.5 74.4h1.1v1.1h-1.1zM171.2 82.3h1.1v1.1h-1.1zM170.6 81.8h1.1v1.1h-1.1zM159.0 78.8h1.1v1.1h-1.1zM163.1 74.5h1.1v1.1h-1.1zM161.7 83.6h1.1v1.1h-1.1zM172.3 78.5h1.1v1.1h-1.1zM169.8 80.4h1.1v1.1h-1.1zM163.2 76.4h1.1v1.1h-1.1zM165.0 77.6h1.1v1.1h-1.1zM168.0 82.9h1.1v1.1h-1.1zM183.5 76.3h1.1v1.1h-1.1zM183.6 77.5h1.1v1.1h-1.1zM165.3 80.4h1.1v1.1h-1.1zM169.6 74.2h1.1v1.1h-1.1z" fill="#8080e0" opacity="0.45"/><path d="M168.0 76.8h1.1v1.1h-1.1zM167.4 78.3h1.1v1.1h-1.1zM175.0 80.9h1.1v1.1h-1.1zM169.9 78.6h1.1v1.1h-1.1zM168.7 81.2h1.1v1.1h-1.1zM175.6 74.4h1.1v1.1h-1.1zM169.0 77.1h1.1v1.1h-1.1zM170.6 73.7h1.1v1.1h-1.1zM172.4 78.4h1.1v1.1h-1.1zM172.2 77.9h1.1v1.1h-1.1zM162.1 76.0h1.1v1.1h-1.1zM185.2 77.5h1.1v1.1h-1.1zM160.6 84.0h1.1v1.1h-1.1z" fill="#8080e0" opacity="0.45"/><path d="M163.0 78.7h1.1v1.1h-1.1zM174.0 80.2h1.1v1.1h-1.1zM170.5 80.1h1.1v1.1h-1.1zM186.4 76.9h1.1v1.1h-1.1zM172.2 77.5h1.1v1.1h-1.1zM166.0 78.8h1.1v1.1h-1.1zM172.1 78.0h1.1v1.1h-1.1zM163.0 77.6h1.1v1.1h-1.1zM176.0 76.7h1.1v1.1h-1.1zM172.3 84.1h1.1v1.1h-1.1zM158.0 77.7h1.1v1.1h-1.1zM179.9 80.2h1.1v1.1h-1.1zM167.5 78.3h1.1v1.1h-1.1zM176.4 77.8h1.1v1.1h-1.1zM160.3 80.0h1.1v1.1h-1.1zM173.4 83.5h1.1v1.1h-1.1zM175.3 76.9h1.1v1.1h-1.1zM170.8 79.4h1.1v1.1h-1.1zM178.0 82.5h1.1v1.1h-1.1zM186.3 74.3h1.1v1.1h-1.1zM174.8 82.0h1.1v1.1h-1.1zM161.8 83.3h1.1v1.1h-1.1zM165.2 74.4h1.1v1.1h-1.1zM170.3 81.6h1.1v1.1h-1.1zM175.9 70.6h1.1v1.1h-1.1z" fill="#9a80e0" opacity="0.45"/><path d="M174.1 73.3h1.1v1.1h-1.1zM175.3 80.1h1.1v1.1h-1.1zM179.2 77.6h1.1v1.1h-1.1zM173.6 78.2h1.1v1.1h-1.1zM158.1 78.7h1.1v1.1h-1.1zM186.5 76.9h1.1v1.1h-1.1zM166.9 75.1h1.1v1.1h-1.1zM177.7 77.9h1.1v1.1h-1.1zM180.0 79.2h1.1v1.1h-1.1zM168.3 74.1h1.1v1.1h-1.1zM168.5 72.3h1.1v1.1h-1.1zM171.6 80.8h1.1v1.1h-1.1zM171.5 77.2h1.1v1.1h-1.1zM160.1 79.6h1.1v1.1h-1.1zM178.1 79.3h1.1v1.1h-1.1zM149.6 75.7h1.1v1.1h-1.1zM173.0 79.9h1.1v1.1h-1.1zM168.4 77.5h1.1v1.1h-1.1zM162.0 82.9h1.1v1.1h-1.1zM153.5 72.7h1.1v1.1h-1.1zM172.9 72.3h1.1v1.1h-1.1zM176.7 72.5h1.1v1.1h-1.1zM172.5 83.6h1.1v1.1h-1.1zM180.9 79.6h1.1v1.1h-1.1zM165.7 78.8h1.1v1.1h-1.1z" fill="#9a80e0" opacity="0.45"/><path d="M161.0 78.6h1.1v1.1h-1.1zM176.4 79.7h1.1v1.1h-1.1zM185.2 72.1h1.1v1.1h-1.1zM180.6 78.3h1.1v1.1h-1.1zM173.9 77.7h1.1v1.1h-1.1zM173.9 73.8h1.1v1.1h-1.1z" fill="#9a80e0" opacity="0.45"/><path d="M170.7 76.4h1.1v1.1h-1.1zM166.9 80.7h1.1v1.1h-1.1zM177.2 76.8h1.1v1.1h-1.1zM171.7 80.5h1.1v1.1h-1.1zM173.4 79.7h1.1v1.1h-1.1zM159.8 74.8h1.1v1.1h-1.1zM181.4 78.4h1.1v1.1h-1.1zM175.9 78.7h1.1v1.1h-1.1zM170.2 82.0h1.1v1.1h-1.1zM171.5 79.8h1.1v1.1h-1.1zM161.9 81.3h1.1v1.1h-1.1zM178.8 84.4h1.1v1.1h-1.1zM168.8 81.8h1.1v1.1h-1.1zM167.4 76.0h1.1v1.1h-1.1zM161.0 79.5h1.1v1.1h-1.1zM160.6 78.7h1.1v1.1h-1.1zM171.0 71.5h1.1v1.1h-1.1zM161.4 78.2h1.1v1.1h-1.1zM165.3 81.7h1.1v1.1h-1.1zM164.5 73.4h1.1v1.1h-1.1zM181.7 79.3h1.1v1.1h-1.1zM173.5 77.7h1.1v1.1h-1.1zM183.5 77.3h1.1v1.1h-1.1zM169.2 81.8h1.1v1.1h-1.1zM166.6 74.8h1.1v1.1h-1.1z" fill="#7070d8" opacity="0.45"/><path d="M165.1 84.6h1.1v1.1h-1.1zM181.2 76.8h1.1v1.1h-1.1zM165.6 84.3h1.1v1.1h-1.1zM160.0 83.9h1.1v1.1h-1.1zM159.7 79.7h1.1v1.1h-1.1zM166.1 76.8h1.1v1.1h-1.1zM171.6 74.3h1.1v1.1h-1.1zM168.9 82.9h1.1v1.1h-1.1zM164.3 75.9h1.1v1.1h-1.1zM167.1 77.3h1.1v1.1h-1.1zM173.1 75.6h1.1v1.1h-1.1zM169.3 74.3h1.1v1.1h-1.1zM153.7 75.0h1.1v1.1h-1.1zM166.1 82.0h1.1v1.1h-1.1zM172.7 75.5h1.1v1.1h-1.1zM166.5 75.9h1.1v1.1h-1.1zM172.1 82.2h1.1v1.1h-1.1zM157.5 79.8h1.1v1.1h-1.1zM160.4 76.8h1.1v1.1h-1.1zM180.0 83.8h1.1v1.1h-1.1zM160.0 78.6h1.1v1.1h-1.1zM171.2 78.4h1.1v1.1h-1.1zM177.6 75.9h1.1v1.1h-1.1zM173.3 78.4h1.1v1.1h-1.1zM163.4 77.0h1.1v1.1h-1.1z" fill="#7070d8" opacity="0.45"/><path d="M185.3 78.1h1.1v1.1h-1.1zM169.4 78.5h1.1v1.1h-1.1zM172.2 75.5h1.1v1.1h-1.1zM174.2 78.9h1.1v1.1h-1.1zM161.3 77.0h1.1v1.1h-1.1zM175.1 78.5h1.1v1.1h-1.1zM171.0 80.9h1.1v1.1h-1.1zM165.3 76.7h1.1v1.1h-1.1z" fill="#7070d8" opacity="0.45"/><path d="M164.4 75.1h1.1v1.1h-1.1zM163.0 77.5h1.1v1.1h-1.1zM182.5 77.1h1.1v1.1h-1.1zM166.5 79.5h1.1v1.1h-1.1zM172.6 79.7h1.1v1.1h-1.1zM162.9 82.2h1.1v1.1h-1.1zM177.8 74.9h1.1v1.1h-1.1zM168.2 81.3h1.1v1.1h-1.1zM166.0 82.7h1.1v1.1h-1.1zM155.2 85.7h1.1v1.1h-1.1zM165.0 78.3h1.1v1.1h-1.1zM171.0 77.9h1.1v1.1h-1.1zM171.0 77.8h1.1v1.1h-1.1zM171.4 79.3h1.1v1.1h-1.1zM169.1 77.8h1.1v1.1h-1.1zM161.8 76.8h1.1v1.1h-1.1zM165.4 74.2h1.1v1.1h-1.1zM168.4 81.6h1.1v1.1h-1.1zM175.2 78.8h1.1v1.1h-1.1zM169.0 78.8h1.1v1.1h-1.1zM178.5 76.1h1.1v1.1h-1.1zM159.6 78.7h1.1v1.1h-1.1zM169.4 73.8h1.1v1.1h-1.1zM154.2 75.1h1.1v1.1h-1.1zM173.2 79.2h1.1v1.1h-1.1z" fill="#6a58c8" opacity="0.45"/><path d="M152.6 76.8h1.1v1.1h-1.1zM172.8 84.1h1.1v1.1h-1.1zM171.9 77.4h1.1v1.1h-1.1zM167.3 75.0h1.1v1.1h-1.1zM169.0 77.9h1.1v1.1h-1.1zM161.1 80.3h1.1v1.1h-1.1zM169.7 81.6h1.1v1.1h-1.1zM172.2 78.1h1.1v1.1h-1.1zM182.6 76.4h1.1v1.1h-1.1zM168.7 78.5h1.1v1.1h-1.1zM163.1 78.8h1.1v1.1h-1.1zM167.3 77.1h1.1v1.1h-1.1zM163.2 75.4h1.1v1.1h-1.1zM165.8 75.0h1.1v1.1h-1.1zM166.2 82.3h1.1v1.1h-1.1zM163.0 76.9h1.1v1.1h-1.1zM165.7 76.7h1.1v1.1h-1.1zM164.1 84.6h1.1v1.1h-1.1zM169.0 82.2h1.1v1.1h-1.1zM168.1 81.5h1.1v1.1h-1.1zM162.1 83.6h1.1v1.1h-1.1zM166.5 76.0h1.1v1.1h-1.1zM161.1 78.8h1.1v1.1h-1.1zM162.6 77.3h1.1v1.1h-1.1zM167.0 78.1h1.1v1.1h-1.1z" fill="#6a58c8" opacity="0.45"/><path d="M170.0 74.7h1.1v1.1h-1.1zM179.7 81.5h1.1v1.1h-1.1zM167.4 76.3h1.1v1.1h-1.1zM166.5 74.9h1.1v1.1h-1.1zM168.2 80.2h1.1v1.1h-1.1zM181.7 78.9h1.1v1.1h-1.1zM168.4 79.7h1.1v1.1h-1.1zM165.3 73.6h1.1v1.1h-1.1zM173.4 78.1h1.1v1.1h-1.1zM166.9 73.4h1.1v1.1h-1.1zM154.1 75.4h1.1v1.1h-1.1zM165.7 77.1h1.1v1.1h-1.1zM169.3 75.9h1.1v1.1h-1.1z" fill="#6a58c8" opacity="0.45"/></g>
<ellipse cx="148.0" cy="60.0" rx="9.5" ry="12.5" fill="url(#g7)" opacity="0.9"/>
<ellipse cx="148.0" cy="60.0" rx="6.0" ry="8.5" fill="url(#g8)" opacity="0.85"/>
<g filter="url(#soft)"><path d="M149.2 62.4h1.1v1.1h-1.1zM147.2 57.7h1.1v1.1h-1.1zM148.9 62.1h1.1v1.1h-1.1zM146.1 61.1h1.1v1.1h-1.1zM149.9 63.4h1.1v1.1h-1.1zM152.0 62.5h1.1v1.1h-1.1zM143.1 75.0h1.1v1.1h-1.1zM148.8 64.2h1.1v1.1h-1.1zM154.5 50.8h1.1v1.1h-1.1zM146.5 63.5h1.1v1.1h-1.1zM147.7 56.7h1.1v1.1h-1.1zM139.6 63.0h1.1v1.1h-1.1zM142.5 60.7h1.1v1.1h-1.1zM148.9 59.1h1.1v1.1h-1.1zM139.8 62.4h1.1v1.1h-1.1zM145.4 56.3h1.1v1.1h-1.1zM148.5 57.6h1.1v1.1h-1.1zM151.5 61.1h1.1v1.1h-1.1zM146.1 62.5h1.1v1.1h-1.1zM152.0 67.1h1.1v1.1h-1.1zM149.0 67.2h1.1v1.1h-1.1zM139.0 65.9h1.1v1.1h-1.1zM145.4 60.1h1.1v1.1h-1.1zM153.7 54.3h1.1v1.1h-1.1zM148.2 62.1h1.1v1.1h-1.1z" fill="#3060d0" opacity="0.4"/><path d="M152.0 63.3h1.1v1.1h-1.1zM146.5 63.9h1.1v1.1h-1.1zM149.9 63.0h1.1v1.1h-1.1zM149.4 61.2h1.1v1.1h-1.1zM152.7 59.5h1.1v1.1h-1.1zM150.1 58.0h1.1v1.1h-1.1zM144.5 63.9h1.1v1.1h-1.1zM153.0 65.9h1.1v1.1h-1.1zM150.5 69.0h1.1v1.1h-1.1zM152.1 61.2h1.1v1.1h-1.1zM138.9 51.1h1.1v1.1h-1.1zM150.8 54.4h1.1v1.1h-1.1zM141.8 54.3h1.1v1.1h-1.1zM150.1 53.7h1.1v1.1h-1.1zM140.0 52.4h1.1v1.1h-1.1zM145.6 57.7h1.1v1.1h-1.1zM154.8 50.8h1.1v1.1h-1.1zM142.3 62.4h1.1v1.1h-1.1zM157.8 58.6h1.1v1.1h-1.1zM146.4 57.3h1.1v1.1h-1.1zM150.6 67.7h1.1v1.1h-1.1zM148.1 58.0h1.1v1.1h-1.1zM140.5 58.8h1.1v1.1h-1.1zM145.2 53.1h1.1v1.1h-1.1zM153.0 63.0h1.1v1.1h-1.1z" fill="#3060d0" opacity="0.4"/><path d="M150.6 53.7h1.1v1.1h-1.1zM144.6 52.8h1.1v1.1h-1.1zM143.5 59.1h1.1v1.1h-1.1zM147.3 69.9h1.1v1.1h-1.1zM154.9 59.5h1.1v1.1h-1.1zM142.9 59.6h1.1v1.1h-1.1zM150.1 71.5h1.1v1.1h-1.1zM142.7 59.9h1.1v1.1h-1.1zM148.1 60.0h1.1v1.1h-1.1zM150.7 61.4h1.1v1.1h-1.1zM156.8 59.6h1.1v1.1h-1.1zM151.7 63.4h1.1v1.1h-1.1z" fill="#3060d0" opacity="0.4"/><path d="M144.6 57.8h1.1v1.1h-1.1zM148.2 58.4h1.1v1.1h-1.1zM144.9 57.2h1.1v1.1h-1.1zM148.2 62.0h1.1v1.1h-1.1zM144.5 47.3h1.1v1.1h-1.1zM143.0 63.6h1.1v1.1h-1.1zM153.6 63.0h1.1v1.1h-1.1zM146.8 66.6h1.1v1.1h-1.1zM147.6 60.8h1.1v1.1h-1.1zM146.3 64.6h1.1v1.1h-1.1zM147.4 59.0h1.1v1.1h-1.1zM145.2 59.8h1.1v1.1h-1.1zM153.2 62.8h1.1v1.1h-1.1zM138.6 61.7h1.1v1.1h-1.1zM151.8 48.6h1.1v1.1h-1.1zM154.2 49.8h1.1v1.1h-1.1zM148.0 61.6h1.1v1.1h-1.1zM153.1 58.2h1.1v1.1h-1.1zM146.7 61.8h1.1v1.1h-1.1zM147.2 68.9h1.1v1.1h-1.1zM144.0 61.9h1.1v1.1h-1.1zM149.2 61.5h1.1v1.1h-1.1zM149.2 61.3h1.1v1.1h-1.1zM151.5 56.0h1.1v1.1h-1.1zM153.8 57.9h1.1v1.1h-1.1z" fill="#4a88e8" opacity="0.4"/><path d="M154.6 60.4h1.1v1.1h-1.1zM153.6 74.7h1.1v1.1h-1.1zM146.2 57.0h1.1v1.1h-1.1zM149.6 62.7h1.1v1.1h-1.1zM154.3 73.2h1.1v1.1h-1.1zM149.8 52.7h1.1v1.1h-1.1zM141.3 72.5h1.1v1.1h-1.1zM147.4 57.6h1.1v1.1h-1.1zM149.3 59.8h1.1v1.1h-1.1zM155.8 67.4h1.1v1.1h-1.1zM151.2 59.4h1.1v1.1h-1.1zM150.8 58.2h1.1v1.1h-1.1zM143.8 54.9h1.1v1.1h-1.1zM152.0 51.3h1.1v1.1h-1.1zM139.7 59.9h1.1v1.1h-1.1zM148.0 70.4h1.1v1.1h-1.1zM146.8 69.8h1.1v1.1h-1.1z" fill="#4a88e8" opacity="0.4"/><path d="M151.0 58.2h1.1v1.1h-1.1zM153.1 54.1h1.1v1.1h-1.1zM147.4 62.2h1.1v1.1h-1.1zM151.5 58.9h1.1v1.1h-1.1zM142.4 53.1h1.1v1.1h-1.1zM148.5 58.6h1.1v1.1h-1.1zM141.6 51.4h1.1v1.1h-1.1zM146.9 48.2h1.1v1.1h-1.1zM151.9 55.1h1.1v1.1h-1.1zM146.8 66.7h1.1v1.1h-1.1zM145.1 56.2h1.1v1.1h-1.1zM151.5 57.9h1.1v1.1h-1.1zM143.3 55.1h1.1v1.1h-1.1zM149.1 66.2h1.1v1.1h-1.1zM151.2 59.5h1.1v1.1h-1.1zM149.6 67.3h1.1v1.1h-1.1zM148.9 56.8h1.1v1.1h-1.1zM151.4 64.9h1.1v1.1h-1.1zM142.4 45.8h1.1v1.1h-1.1zM136.6 54.5h1.1v1.1h-1.1zM142.2 58.8h1.1v1.1h-1.1zM147.5 66.5h1.1v1.1h-1.1zM151.4 54.1h1.1v1.1h-1.1zM141.4 59.6h1.1v1.1h-1.1zM142.4 63.9h1.1v1.1h-1.1z" fill="#2a50c0" opacity="0.4"/><path d="M145.1 55.3h1.1v1.1h-1.1zM144.7 60.1h1.1v1.1h-1.1zM154.4 55.3h1.1v1.1h-1.1zM154.4 48.5h1.1v1.1h-1.1zM149.8 57.3h1.1v1.1h-1.1zM147.6 55.9h1.1v1.1h-1.1zM149.0 58.1h1.1v1.1h-1.1zM143.5 52.3h1.1v1.1h-1.1zM144.8 51.3h1.1v1.1h-1.1zM151.4 61.0h1.1v1.1h-1.1zM146.0 56.0h1.1v1.1h-1.1zM151.0 60.4h1.1v1.1h-1.1zM146.1 62.5h1.1v1.1h-1.1zM148.3 50.4h1.1v1.1h-1.1zM140.1 61.2h1.1v1.1h-1.1zM148.8 58.6h1.1v1.1h-1.1zM150.8 61.0h1.1v1.1h-1.1zM150.9 62.6h1.1v1.1h-1.1zM142.8 65.4h1.1v1.1h-1.1zM146.5 57.1h1.1v1.1h-1.1zM139.8 73.5h1.1v1.1h-1.1zM149.5 47.8h1.1v1.1h-1.1zM143.1 57.6h1.1v1.1h-1.1zM149.2 56.5h1.1v1.1h-1.1zM146.9 60.0h1.1v1.1h-1.1z" fill="#2a50c0" opacity="0.4"/><path d="M144.3 57.3h1.1v1.1h-1.1zM142.5 53.9h1.1v1.1h-1.1zM151.0 61.5h1.1v1.1h-1.1zM149.7 59.4h1.1v1.1h-1.1zM145.6 66.7h1.1v1.1h-1.1zM151.0 64.2h1.1v1.1h-1.1zM151.6 53.0h1.1v1.1h-1.1zM143.2 67.2h1.1v1.1h-1.1zM140.5 69.6h1.1v1.1h-1.1z" fill="#2a50c0" opacity="0.4"/><path d="M152.7 61.4h1.1v1.1h-1.1zM151.9 53.8h1.1v1.1h-1.1zM146.9 56.0h1.1v1.1h-1.1zM147.2 60.1h1.1v1.1h-1.1zM145.2 62.1h1.1v1.1h-1.1zM150.0 65.5h1.1v1.1h-1.1zM143.3 59.2h1.1v1.1h-1.1zM140.9 64.1h1.1v1.1h-1.1zM148.5 51.4h1.1v1.1h-1.1zM148.3 56.1h1.1v1.1h-1.1zM153.6 49.2h1.1v1.1h-1.1zM144.8 68.0h1.1v1.1h-1.1zM142.3 54.5h1.1v1.1h-1.1zM153.1 62.3h1.1v1.1h-1.1zM144.2 61.0h1.1v1.1h-1.1zM146.8 59.6h1.1v1.1h-1.1zM143.2 60.0h1.1v1.1h-1.1zM157.5 56.2h1.1v1.1h-1.1zM144.0 60.3h1.1v1.1h-1.1zM145.3 61.0h1.1v1.1h-1.1zM147.7 54.4h1.1v1.1h-1.1zM147.8 63.6h1.1v1.1h-1.1zM149.4 50.0h1.1v1.1h-1.1zM143.8 49.8h1.1v1.1h-1.1zM146.9 57.9h1.1v1.1h-1.1z" fill="#8080e0" opacity="0.4"/><path d="M150.6 57.2h1.1v1.1h-1.1zM140.8 55.3h1.1v1.1h-1.1zM147.8 51.4h1.1v1.1h-1.1zM150.3 65.2h1.1v1.1h-1.1zM141.4 52.9h1.1v1.1h-1.1zM143.5 68.9h1.1v1.1h-1.1zM144.6 59.0h1.1v1.1h-1.1zM148.9 60.0h1.1v1.1h-1.1zM142.7 56.6h1.1v1.1h-1.1zM150.1 58.9h1.1v1.1h-1.1zM143.2 61.8h1.1v1.1h-1.1zM152.2 56.4h1.1v1.1h-1.1zM140.7 53.7h1.1v1.1h-1.1zM148.7 64.6h1.1v1.1h-1.1zM150.2 57.8h1.1v1.1h-1.1zM146.3 56.0h1.1v1.1h-1.1zM144.8 71.3h1.1v1.1h-1.1zM146.1 60.8h1.1v1.1h-1.1zM143.8 56.0h1.1v1.1h-1.1zM148.7 60.1h1.1v1.1h-1.1zM143.5 58.2h1.1v1.1h-1.1zM145.7 54.9h1.1v1.1h-1.1zM149.2 62.9h1.1v1.1h-1.1zM149.7 64.4h1.1v1.1h-1.1zM148.6 52.5h1.1v1.1h-1.1z" fill="#8080e0" opacity="0.4"/><path d="M146.3 71.3h1.1v1.1h-1.1zM152.0 64.6h1.1v1.1h-1.1zM151.6 58.0h1.1v1.1h-1.1zM146.4 59.2h1.1v1.1h-1.1zM147.9 63.6h1.1v1.1h-1.1zM154.0 57.9h1.1v1.1h-1.1zM156.5 55.5h1.1v1.1h-1.1zM157.5 48.8h1.1v1.1h-1.1zM154.5 58.6h1.1v1.1h-1.1zM146.2 49.5h1.1v1.1h-1.1zM149.7 58.3h1.1v1.1h-1.1zM148.6 56.8h1.1v1.1h-1.1zM154.9 56.9h1.1v1.1h-1.1zM150.3 52.6h1.1v1.1h-1.1zM151.0 63.2h1.1v1.1h-1.1zM148.9 59.0h1.1v1.1h-1.1zM141.3 53.4h1.1v1.1h-1.1zM146.4 54.6h1.1v1.1h-1.1zM150.4 65.7h1.1v1.1h-1.1zM146.5 62.8h1.1v1.1h-1.1zM147.5 62.7h1.1v1.1h-1.1zM148.3 58.2h1.1v1.1h-1.1z" fill="#8080e0" opacity="0.4"/><path d="M146.8 58.2h1.1v1.1h-1.1zM143.3 59.7h1.1v1.1h-1.1zM149.7 57.6h1.1v1.1h-1.1zM146.2 59.6h1.1v1.1h-1.1zM142.1 54.9h1.1v1.1h-1.1zM150.2 58.7h1.1v1.1h-1.1zM150.3 51.9h1.1v1.1h-1.1zM146.3 47.9h1.1v1.1h-1.1zM150.3 54.3h1.1v1.1h-1.1zM149.3 63.1h1.1v1.1h-1.1zM146.3 65.4h1.1v1.1h-1.1zM150.1 64.2h1.1v1.1h-1.1zM148.7 55.7h1.1v1.1h-1.1zM151.7 63.0h1.1v1.1h-1.1zM142.0 53.2h1.1v1.1h-1.1zM141.6 57.9h1.1v1.1h-1.1zM153.5 64.1h1.1v1.1h-1.1zM152.0 60.0h1.1v1.1h-1.1zM143.8 59.8h1.1v1.1h-1.1zM144.8 59.4h1.1v1.1h-1.1zM154.7 73.9h1.1v1.1h-1.1zM144.3 57.7h1.1v1.1h-1.1zM146.7 69.0h1.1v1.1h-1.1zM148.7 49.6h1.1v1.1h-1.1zM146.0 65.2h1.1v1.1h-1.1z" fill="#9a80e0" opacity="0.4"/><path d="M147.0 64.1h1.1v1.1h-1.1zM148.0 57.1h1.1v1.1h-1.1zM144.5 64.1h1.1v1.1h-1.1zM144.1 72.8h1.1v1.1h-1.1zM151.4 50.4h1.1v1.1h-1.1zM149.8 58.4h1.1v1.1h-1.1zM147.5 62.9h1.1v1.1h-1.1zM148.2 56.7h1.1v1.1h-1.1zM143.7 63.9h1.1v1.1h-1.1zM155.8 54.4h1.1v1.1h-1.1zM150.2 63.2h1.1v1.1h-1.1zM148.3 45.5h1.1v1.1h-1.1zM152.0 51.0h1.1v1.1h-1.1zM142.2 53.7h1.1v1.1h-1.1zM146.8 59.7h1.1v1.1h-1.1zM145.4 57.4h1.1v1.1h-1.1zM140.6 53.4h1.1v1.1h-1.1zM148.7 58.5h1.1v1.1h-1.1zM145.7 61.2h1.1v1.1h-1.1zM146.2 65.7h1.1v1.1h-1.1zM147.5 62.0h1.1v1.1h-1.1zM147.8 56.2h1.1v1.1h-1.1zM154.8 70.5h1.1v1.1h-1.1zM154.0 46.9h1.1v1.1h-1.1zM148.6 68.3h1.1v1.1h-1.1z" fill="#9a80e0" opacity="0.4"/><path d="M146.3 54.7h1.1v1.1h-1.1zM154.3 57.3h1.1v1.1h-1.1zM148.3 60.3h1.1v1.1h-1.1zM155.7 53.0h1.1v1.1h-1.1z" fill="#9a80e0" opacity="0.4"/><path d="M148.5 60.0h1.1v1.1h-1.1zM146.9 47.8h1.1v1.1h-1.1zM143.6 53.6h1.1v1.1h-1.1zM145.8 71.8h1.1v1.1h-1.1zM150.2 61.6h1.1v1.1h-1.1zM147.7 64.1h1.1v1.1h-1.1zM143.9 44.6h1.1v1.1h-1.1zM143.7 52.5h1.1v1.1h-1.1zM139.7 68.0h1.1v1.1h-1.1zM153.6 60.0h1.1v1.1h-1.1zM149.9 56.9h1.1v1.1h-1.1zM144.0 62.4h1.1v1.1h-1.1zM146.6 63.9h1.1v1.1h-1.1zM150.2 63.5h1.1v1.1h-1.1zM155.5 59.4h1.1v1.1h-1.1zM147.1 64.8h1.1v1.1h-1.1zM147.2 56.7h1.1v1.1h-1.1zM141.8 57.6h1.1v1.1h-1.1zM145.2 61.3h1.1v1.1h-1.1zM149.5 58.2h1.1v1.1h-1.1zM151.0 56.8h1.1v1.1h-1.1zM151.3 65.1h1.1v1.1h-1.1zM156.2 67.5h1.1v1.1h-1.1zM144.5 61.6h1.1v1.1h-1.1zM147.7 62.6h1.1v1.1h-1.1z" fill="#7070d8" opacity="0.4"/><path d="M154.0 66.9h1.1v1.1h-1.1zM147.2 61.2h1.1v1.1h-1.1zM144.7 56.1h1.1v1.1h-1.1zM144.4 57.8h1.1v1.1h-1.1zM143.2 52.9h1.1v1.1h-1.1zM148.8 60.6h1.1v1.1h-1.1zM147.3 58.1h1.1v1.1h-1.1zM141.4 69.2h1.1v1.1h-1.1zM145.5 58.1h1.1v1.1h-1.1zM149.8 50.8h1.1v1.1h-1.1zM159.8 59.8h1.1v1.1h-1.1zM145.7 61.7h1.1v1.1h-1.1zM150.3 61.3h1.1v1.1h-1.1zM140.0 59.3h1.1v1.1h-1.1zM152.8 53.9h1.1v1.1h-1.1zM150.4 59.6h1.1v1.1h-1.1zM147.3 57.5h1.1v1.1h-1.1zM151.6 56.1h1.1v1.1h-1.1zM145.5 55.2h1.1v1.1h-1.1zM143.8 48.9h1.1v1.1h-1.1zM146.1 54.4h1.1v1.1h-1.1zM147.1 58.4h1.1v1.1h-1.1zM148.2 61.5h1.1v1.1h-1.1zM146.4 60.9h1.1v1.1h-1.1zM152.1 59.1h1.1v1.1h-1.1z" fill="#7070d8" opacity="0.4"/><path d="M144.8 62.2h1.1v1.1h-1.1zM151.4 54.3h1.1v1.1h-1.1zM151.0 59.9h1.1v1.1h-1.1zM154.4 56.6h1.1v1.1h-1.1zM146.3 60.9h1.1v1.1h-1.1zM156.2 58.8h1.1v1.1h-1.1zM151.5 51.5h1.1v1.1h-1.1zM144.3 60.9h1.1v1.1h-1.1zM138.0 57.4h1.1v1.1h-1.1zM146.5 55.6h1.1v1.1h-1.1zM148.8 61.3h1.1v1.1h-1.1z" fill="#7070d8" opacity="0.4"/></g>
<g filter="url(#soft2)"><ellipse cx="147.80" cy="59.50" rx="3.00" ry="4.60" fill="#2a60a0" opacity="0.7"/><ellipse cx="147.80" cy="59.50" rx="2.10" ry="3.22" fill="#3a7870" opacity="0.8"/><ellipse cx="147.80" cy="59.50" rx="1.35" ry="2.07" fill="#60a048" opacity="0.8"/></g>
<ellipse cx="149.5" cy="78.5" rx="9.0" ry="7.0" fill="url(#g7)" opacity="0.85"/>
<ellipse cx="149.5" cy="78.5" rx="5.5" ry="4.5" fill="url(#g9)" opacity="0.8"/>
<g filter="url(#soft)"><path d="M152.6 78.2h1.1v1.1h-1.1zM152.5 81.2h1.1v1.1h-1.1zM145.9 78.2h1.1v1.1h-1.1zM152.0 70.5h1.1v1.1h-1.1zM150.6 78.9h1.1v1.1h-1.1zM146.0 76.6h1.1v1.1h-1.1zM149.8 80.0h1.1v1.1h-1.1zM148.3 81.0h1.1v1.1h-1.1zM149.7 82.4h1.1v1.1h-1.1zM148.4 75.7h1.1v1.1h-1.1zM155.4 74.2h1.1v1.1h-1.1zM145.4 77.5h1.1v1.1h-1.1zM151.6 80.8h1.1v1.1h-1.1zM146.2 76.1h1.1v1.1h-1.1zM157.2 77.3h1.1v1.1h-1.1zM160.1 83.2h1.1v1.1h-1.1zM152.1 76.9h1.1v1.1h-1.1zM154.5 80.3h1.1v1.1h-1.1zM150.3 76.7h1.1v1.1h-1.1zM149.7 75.6h1.1v1.1h-1.1zM153.6 76.8h1.1v1.1h-1.1zM144.4 78.1h1.1v1.1h-1.1zM149.4 79.6h1.1v1.1h-1.1zM146.9 79.5h1.1v1.1h-1.1zM153.5 84.0h1.1v1.1h-1.1z" fill="#3060d0" opacity="0.4"/><path d="M162.5 82.9h1.1v1.1h-1.1zM149.9 75.4h1.1v1.1h-1.1zM141.5 77.2h1.1v1.1h-1.1z" fill="#3060d0" opacity="0.4"/><path d="M149.2 81.4h1.1v1.1h-1.1zM147.9 75.8h1.1v1.1h-1.1zM155.2 82.4h1.1v1.1h-1.1zM152.2 75.8h1.1v1.1h-1.1zM149.1 78.2h1.1v1.1h-1.1zM151.4 80.0h1.1v1.1h-1.1zM152.8 72.9h1.1v1.1h-1.1zM149.4 74.3h1.1v1.1h-1.1zM144.8 76.6h1.1v1.1h-1.1zM145.9 73.3h1.1v1.1h-1.1zM141.1 80.5h1.1v1.1h-1.1zM147.3 79.7h1.1v1.1h-1.1zM150.3 81.9h1.1v1.1h-1.1zM149.0 79.1h1.1v1.1h-1.1zM153.0 72.6h1.1v1.1h-1.1zM144.7 80.8h1.1v1.1h-1.1zM153.4 77.7h1.1v1.1h-1.1zM149.1 79.5h1.1v1.1h-1.1zM153.8 79.8h1.1v1.1h-1.1zM150.0 74.4h1.1v1.1h-1.1zM148.0 83.3h1.1v1.1h-1.1zM151.4 81.7h1.1v1.1h-1.1zM155.9 80.6h1.1v1.1h-1.1zM145.2 75.5h1.1v1.1h-1.1zM145.2 80.0h1.1v1.1h-1.1z" fill="#4a88e8" opacity="0.4"/><path d="M149.2 79.8h1.1v1.1h-1.1zM152.9 80.1h1.1v1.1h-1.1zM149.0 74.3h1.1v1.1h-1.1zM147.3 77.2h1.1v1.1h-1.1zM150.1 76.9h1.1v1.1h-1.1zM153.5 72.7h1.1v1.1h-1.1zM141.6 78.6h1.1v1.1h-1.1zM149.1 76.8h1.1v1.1h-1.1zM154.2 78.4h1.1v1.1h-1.1zM144.6 75.6h1.1v1.1h-1.1zM154.2 80.8h1.1v1.1h-1.1zM145.2 75.8h1.1v1.1h-1.1zM145.7 74.7h1.1v1.1h-1.1zM152.8 72.5h1.1v1.1h-1.1zM147.3 82.5h1.1v1.1h-1.1zM154.3 79.7h1.1v1.1h-1.1zM148.3 82.1h1.1v1.1h-1.1zM142.4 80.6h1.1v1.1h-1.1zM142.2 79.4h1.1v1.1h-1.1zM148.7 79.9h1.1v1.1h-1.1z" fill="#4a88e8" opacity="0.4"/><path d="M141.5 75.2h1.1v1.1h-1.1zM147.8 81.2h1.1v1.1h-1.1zM149.4 71.3h1.1v1.1h-1.1zM148.0 77.8h1.1v1.1h-1.1zM155.3 75.2h1.1v1.1h-1.1zM148.2 73.9h1.1v1.1h-1.1zM154.7 76.7h1.1v1.1h-1.1zM140.2 80.4h1.1v1.1h-1.1zM151.7 79.1h1.1v1.1h-1.1zM151.6 75.5h1.1v1.1h-1.1zM150.5 73.8h1.1v1.1h-1.1zM139.9 76.9h1.1v1.1h-1.1zM151.0 82.2h1.1v1.1h-1.1zM146.1 77.4h1.1v1.1h-1.1zM150.6 73.9h1.1v1.1h-1.1zM151.3 81.7h1.1v1.1h-1.1zM142.5 81.0h1.1v1.1h-1.1zM153.1 80.2h1.1v1.1h-1.1zM152.7 81.0h1.1v1.1h-1.1zM150.2 83.4h1.1v1.1h-1.1zM151.9 76.1h1.1v1.1h-1.1zM148.3 80.1h1.1v1.1h-1.1zM145.7 79.1h1.1v1.1h-1.1zM147.5 76.4h1.1v1.1h-1.1zM134.4 78.3h1.1v1.1h-1.1z" fill="#2a50c0" opacity="0.4"/><path d="M143.8 75.0h1.1v1.1h-1.1zM151.9 79.7h1.1v1.1h-1.1zM146.0 79.9h1.1v1.1h-1.1zM155.6 81.1h1.1v1.1h-1.1zM154.1 74.5h1.1v1.1h-1.1z" fill="#2a50c0" opacity="0.4"/><path d="M156.6 83.1h1.1v1.1h-1.1zM139.1 78.5h1.1v1.1h-1.1zM147.7 79.9h1.1v1.1h-1.1zM139.5 85.4h1.1v1.1h-1.1zM152.0 75.1h1.1v1.1h-1.1zM150.3 78.8h1.1v1.1h-1.1zM147.3 78.7h1.1v1.1h-1.1zM149.4 76.2h1.1v1.1h-1.1zM153.4 78.4h1.1v1.1h-1.1zM147.9 80.9h1.1v1.1h-1.1zM150.9 76.1h1.1v1.1h-1.1zM150.9 77.9h1.1v1.1h-1.1zM161.3 78.3h1.1v1.1h-1.1zM155.2 79.3h1.1v1.1h-1.1zM146.0 81.0h1.1v1.1h-1.1zM149.5 81.4h1.1v1.1h-1.1zM143.4 83.4h1.1v1.1h-1.1zM147.8 75.0h1.1v1.1h-1.1zM148.1 84.4h1.1v1.1h-1.1zM156.7 76.9h1.1v1.1h-1.1zM145.8 82.3h1.1v1.1h-1.1zM149.2 81.0h1.1v1.1h-1.1zM148.1 74.7h1.1v1.1h-1.1zM146.0 78.2h1.1v1.1h-1.1zM152.7 78.9h1.1v1.1h-1.1z" fill="#8080e0" opacity="0.4"/><path d="M141.4 87.2h1.1v1.1h-1.1zM151.3 83.0h1.1v1.1h-1.1zM149.0 77.6h1.1v1.1h-1.1zM146.3 83.7h1.1v1.1h-1.1zM148.6 75.5h1.1v1.1h-1.1zM142.8 80.0h1.1v1.1h-1.1zM140.2 74.9h1.1v1.1h-1.1zM143.0 77.3h1.1v1.1h-1.1zM147.3 76.6h1.1v1.1h-1.1zM151.6 73.2h1.1v1.1h-1.1zM156.9 73.9h1.1v1.1h-1.1zM150.8 76.0h1.1v1.1h-1.1z" fill="#8080e0" opacity="0.4"/><path d="M154.7 78.0h1.1v1.1h-1.1zM144.0 83.2h1.1v1.1h-1.1zM152.4 82.5h1.1v1.1h-1.1zM144.9 78.5h1.1v1.1h-1.1zM143.6 75.4h1.1v1.1h-1.1zM153.4 75.3h1.1v1.1h-1.1zM142.0 73.9h1.1v1.1h-1.1zM145.4 72.6h1.1v1.1h-1.1zM149.8 80.8h1.1v1.1h-1.1zM149.4 78.4h1.1v1.1h-1.1zM149.9 78.5h1.1v1.1h-1.1zM140.6 73.4h1.1v1.1h-1.1zM152.2 74.6h1.1v1.1h-1.1zM146.4 74.3h1.1v1.1h-1.1zM145.9 76.4h1.1v1.1h-1.1zM137.9 79.4h1.1v1.1h-1.1zM143.1 75.5h1.1v1.1h-1.1zM138.5 73.5h1.1v1.1h-1.1zM139.5 78.3h1.1v1.1h-1.1zM153.4 85.2h1.1v1.1h-1.1zM134.2 78.2h1.1v1.1h-1.1zM146.9 75.3h1.1v1.1h-1.1zM147.9 84.3h1.1v1.1h-1.1zM146.3 78.2h1.1v1.1h-1.1zM150.5 76.8h1.1v1.1h-1.1z" fill="#9a80e0" opacity="0.4"/><path d="M148.2 81.9h1.1v1.1h-1.1zM149.9 86.7h1.1v1.1h-1.1zM155.1 77.8h1.1v1.1h-1.1zM143.3 77.4h1.1v1.1h-1.1zM146.9 81.4h1.1v1.1h-1.1zM143.7 72.9h1.1v1.1h-1.1zM149.9 78.5h1.1v1.1h-1.1zM153.0 81.8h1.1v1.1h-1.1zM145.4 75.5h1.1v1.1h-1.1zM147.5 75.4h1.1v1.1h-1.1zM152.9 78.3h1.1v1.1h-1.1zM149.1 74.6h1.1v1.1h-1.1zM146.2 78.0h1.1v1.1h-1.1zM148.1 78.1h1.1v1.1h-1.1zM143.4 80.2h1.1v1.1h-1.1zM146.1 75.3h1.1v1.1h-1.1zM153.5 75.8h1.1v1.1h-1.1zM147.3 77.9h1.1v1.1h-1.1zM143.9 74.0h1.1v1.1h-1.1zM144.0 80.0h1.1v1.1h-1.1zM145.2 81.7h1.1v1.1h-1.1zM141.6 79.6h1.1v1.1h-1.1zM143.7 75.2h1.1v1.1h-1.1zM146.0 78.4h1.1v1.1h-1.1zM142.8 73.4h1.1v1.1h-1.1z" fill="#9a80e0" opacity="0.4"/><path d="M144.9 78.6h1.1v1.1h-1.1zM149.7 78.5h1.1v1.1h-1.1z" fill="#9a80e0" opacity="0.4"/><path d="M147.1 77.5h1.1v1.1h-1.1zM151.2 75.1h1.1v1.1h-1.1zM144.5 80.2h1.1v1.1h-1.1zM153.5 74.4h1.1v1.1h-1.1zM147.1 81.8h1.1v1.1h-1.1zM143.4 75.6h1.1v1.1h-1.1zM149.2 75.5h1.1v1.1h-1.1zM149.3 77.1h1.1v1.1h-1.1zM149.2 77.6h1.1v1.1h-1.1zM147.5 81.4h1.1v1.1h-1.1zM154.9 78.4h1.1v1.1h-1.1zM154.1 77.8h1.1v1.1h-1.1zM147.6 74.7h1.1v1.1h-1.1zM151.1 76.7h1.1v1.1h-1.1zM154.0 86.7h1.1v1.1h-1.1zM147.8 74.6h1.1v1.1h-1.1zM147.7 75.8h1.1v1.1h-1.1zM153.3 78.1h1.1v1.1h-1.1zM144.7 77.6h1.1v1.1h-1.1zM148.5 78.3h1.1v1.1h-1.1zM152.6 73.1h1.1v1.1h-1.1zM144.3 79.1h1.1v1.1h-1.1zM149.6 80.8h1.1v1.1h-1.1zM139.7 81.6h1.1v1.1h-1.1zM139.8 73.3h1.1v1.1h-1.1z" fill="#7070d8" opacity="0.4"/><path d="M143.2 69.1h1.1v1.1h-1.1zM147.8 76.1h1.1v1.1h-1.1zM149.1 79.8h1.1v1.1h-1.1z" fill="#7070d8" opacity="0.4"/></g>
<g filter="url(#soft2)"><ellipse cx="149.00" cy="78.80" rx="3.00" ry="2.60" fill="#3a7aa0" opacity="0.6"/><ellipse cx="149.00" cy="78.80" rx="1.80" ry="1.56" fill="#50906a" opacity="0.7"/></g>
<rect x="70.20" y="33.20" width="46.00" height="40.70" fill="none" stroke="#a8c878" stroke-width="1.2" />
<rect x="47.30" y="33.20" width="22.90" height="40.70" fill="none" stroke="#6a88c8" stroke-width="1.2" />
<rect x="70.20" y="73.90" width="46.00" height="19.60" fill="none" stroke="#7a4a30" stroke-width="1.4" />
<rect x="47.30" y="73.90" width="22.90" height="19.60" fill="none" stroke="#111" stroke-width="1.4" />
<text x="48.90" y="40.60" font-size="7.4" fill="#90a4e0" font-weight="bold" text-anchor="start" >Naive</text>
<text x="114.20" y="40.60" font-size="7.4" fill="#b0d484" font-weight="bold" text-anchor="end" >NSM</text>
<text x="50.10" y="90.50" font-size="7.8" fill="#111" font-weight="bold" text-anchor="start" >DN</text>
<text x="113.90" y="90.50" font-size="7.8" fill="#c03a2a" font-weight="bold" text-anchor="end" >SM</text>
<rect x="159.00" y="33.30" width="37.80" height="39.10" fill="none" stroke="#a8c878" stroke-width="1.2" />
<rect x="131.50" y="33.30" width="27.50" height="39.10" fill="none" stroke="#6a88c8" stroke-width="1.2" />
<rect x="159.00" y="72.40" width="37.80" height="21.00" fill="none" stroke="#7a4a30" stroke-width="1.4" />
<rect x="131.50" y="72.40" width="27.50" height="21.00" fill="none" stroke="#111" stroke-width="1.4" />
<text x="133.10" y="40.70" font-size="7.4" fill="#90a4e0" font-weight="bold" text-anchor="start" >Naive</text>
<text x="194.80" y="40.70" font-size="7.4" fill="#b0d484" font-weight="bold" text-anchor="end" >NSM</text>
<text x="134.30" y="90.40" font-size="7.8" fill="#111" font-weight="bold" text-anchor="start" >DN</text>
<text x="194.50" y="90.40" font-size="7.8" fill="#c03a2a" font-weight="bold" text-anchor="end" >SM</text>
<rect x="88.40" y="104.50" width="25.80" height="19.50" fill="#fbeef6" stroke="none" stroke-width="1" />
<g filter="url(#soft)"><path d="M78.0 144.1h1.0v1.0h-1.0zM70.9 129.9h1.0v1.0h-1.0zM82.2 146.5h1.0v1.0h-1.0zM70.6 117.4h1.0v1.0h-1.0zM79.8 117.9h1.0v1.0h-1.0zM51.5 130.7h1.0v1.0h-1.0zM67.8 150.0h1.0v1.0h-1.0zM54.2 146.7h1.0v1.0h-1.0zM63.2 122.4h1.0v1.0h-1.0zM70.8 139.7h1.0v1.0h-1.0zM86.3 133.4h1.0v1.0h-1.0zM62.8 134.0h1.0v1.0h-1.0zM69.4 127.5h1.0v1.0h-1.0zM53.1 132.8h1.0v1.0h-1.0zM73.6 124.7h1.0v1.0h-1.0zM65.1 137.1h1.0v1.0h-1.0zM83.5 126.7h1.0v1.0h-1.0zM67.1 127.9h1.0v1.0h-1.0zM74.3 139.6h1.0v1.0h-1.0zM75.0 131.3h1.0v1.0h-1.0zM77.5 130.8h1.0v1.0h-1.0zM64.7 114.5h1.0v1.0h-1.0zM59.2 122.7h1.0v1.0h-1.0zM71.0 137.9h1.0v1.0h-1.0zM85.2 128.8h1.0v1.0h-1.0z" fill="#8080e0" opacity="0.22"/><path d="M80.0 128.9h1.0v1.0h-1.0zM72.1 112.6h1.0v1.0h-1.0zM53.5 111.4h1.0v1.0h-1.0zM65.0 153.1h1.0v1.0h-1.0zM60.2 124.5h1.0v1.0h-1.0zM58.6 134.3h1.0v1.0h-1.0zM68.6 140.9h1.0v1.0h-1.0zM67.6 138.3h1.0v1.0h-1.0zM59.9 134.0h1.0v1.0h-1.0zM54.4 136.2h1.0v1.0h-1.0zM106.1 123.3h1.0v1.0h-1.0zM69.4 129.5h1.0v1.0h-1.0zM70.3 121.2h1.0v1.0h-1.0zM65.3 140.7h1.0v1.0h-1.0zM90.8 139.1h1.0v1.0h-1.0zM72.9 139.6h1.0v1.0h-1.0zM44.8 124.0h1.0v1.0h-1.0zM53.6 121.5h1.0v1.0h-1.0zM86.0 141.4h1.0v1.0h-1.0zM86.7 127.2h1.0v1.0h-1.0zM67.0 133.1h1.0v1.0h-1.0zM78.6 123.4h1.0v1.0h-1.0zM46.8 150.0h1.0v1.0h-1.0zM93.4 147.1h1.0v1.0h-1.0zM42.0 141.1h1.0v1.0h-1.0z" fill="#8080e0" opacity="0.22"/><path d="M67.3 128.8h1.0v1.0h-1.0zM79.7 113.2h1.0v1.0h-1.0zM54.6 136.7h1.0v1.0h-1.0zM64.7 136.6h1.0v1.0h-1.0zM78.7 122.8h1.0v1.0h-1.0zM58.5 137.5h1.0v1.0h-1.0zM70.1 121.2h1.0v1.0h-1.0zM80.9 128.4h1.0v1.0h-1.0zM50.3 136.2h1.0v1.0h-1.0zM62.1 142.5h1.0v1.0h-1.0zM61.0 133.7h1.0v1.0h-1.0zM85.9 97.1h1.0v1.0h-1.0zM82.9 110.8h1.0v1.0h-1.0zM50.2 120.4h1.0v1.0h-1.0zM76.2 131.3h1.0v1.0h-1.0zM68.7 142.6h1.0v1.0h-1.0zM79.9 104.4h1.0v1.0h-1.0zM62.8 114.9h1.0v1.0h-1.0zM62.0 143.9h1.0v1.0h-1.0zM86.4 141.3h1.0v1.0h-1.0zM34.1 123.5h1.0v1.0h-1.0zM55.7 130.1h1.0v1.0h-1.0zM55.0 124.4h1.0v1.0h-1.0zM74.6 130.8h1.0v1.0h-1.0zM62.2 138.6h1.0v1.0h-1.0z" fill="#8080e0" opacity="0.22"/><path d="M70.1 132.8h1.0v1.0h-1.0zM87.8 129.0h1.0v1.0h-1.0zM53.0 131.9h1.0v1.0h-1.0zM79.9 142.5h1.0v1.0h-1.0zM101.7 132.2h1.0v1.0h-1.0zM67.9 123.7h1.0v1.0h-1.0zM57.8 140.5h1.0v1.0h-1.0zM69.8 146.7h1.0v1.0h-1.0zM85.9 144.3h1.0v1.0h-1.0zM83.7 133.1h1.0v1.0h-1.0zM72.3 120.5h1.0v1.0h-1.0zM70.6 123.0h1.0v1.0h-1.0zM78.2 123.4h1.0v1.0h-1.0zM73.7 135.1h1.0v1.0h-1.0zM76.5 147.2h1.0v1.0h-1.0zM73.0 132.7h1.0v1.0h-1.0zM66.0 138.2h1.0v1.0h-1.0zM74.1 142.8h1.0v1.0h-1.0zM63.6 136.4h1.0v1.0h-1.0zM65.8 127.6h1.0v1.0h-1.0zM77.6 124.0h1.0v1.0h-1.0z" fill="#8080e0" opacity="0.22"/><path d="M95.2 120.4h1.0v1.0h-1.0zM51.4 155.9h1.0v1.0h-1.0zM82.7 138.7h1.0v1.0h-1.0zM84.1 130.2h1.0v1.0h-1.0zM48.4 129.8h1.0v1.0h-1.0zM79.1 119.6h1.0v1.0h-1.0zM59.4 122.8h1.0v1.0h-1.0zM69.0 140.1h1.0v1.0h-1.0zM58.9 111.5h1.0v1.0h-1.0zM77.3 136.4h1.0v1.0h-1.0zM56.9 133.0h1.0v1.0h-1.0zM68.3 121.7h1.0v1.0h-1.0zM79.6 147.4h1.0v1.0h-1.0zM69.9 138.7h1.0v1.0h-1.0zM61.7 134.7h1.0v1.0h-1.0zM61.6 132.3h1.0v1.0h-1.0zM101.3 139.9h1.0v1.0h-1.0zM56.3 139.4h1.0v1.0h-1.0zM92.7 147.1h1.0v1.0h-1.0zM66.9 127.3h1.0v1.0h-1.0zM83.2 131.3h1.0v1.0h-1.0zM82.0 119.1h1.0v1.0h-1.0zM77.4 145.4h1.0v1.0h-1.0zM74.7 145.3h1.0v1.0h-1.0zM71.2 160.6h1.0v1.0h-1.0z" fill="#9a80e0" opacity="0.22"/><path d="M74.1 135.5h1.0v1.0h-1.0zM72.1 138.0h1.0v1.0h-1.0zM69.0 126.4h1.0v1.0h-1.0zM78.9 133.9h1.0v1.0h-1.0zM81.9 148.7h1.0v1.0h-1.0zM58.1 116.8h1.0v1.0h-1.0zM38.6 133.0h1.0v1.0h-1.0zM65.1 137.1h1.0v1.0h-1.0zM47.2 119.8h1.0v1.0h-1.0zM58.5 138.3h1.0v1.0h-1.0zM72.9 124.3h1.0v1.0h-1.0zM80.2 147.7h1.0v1.0h-1.0zM94.1 127.7h1.0v1.0h-1.0zM63.8 125.9h1.0v1.0h-1.0zM63.0 129.8h1.0v1.0h-1.0zM56.1 125.1h1.0v1.0h-1.0zM76.0 144.5h1.0v1.0h-1.0zM45.5 128.8h1.0v1.0h-1.0zM74.5 123.5h1.0v1.0h-1.0zM87.1 125.4h1.0v1.0h-1.0zM72.1 144.3h1.0v1.0h-1.0zM71.0 134.9h1.0v1.0h-1.0zM56.4 146.5h1.0v1.0h-1.0zM86.3 114.1h1.0v1.0h-1.0zM74.6 137.1h1.0v1.0h-1.0z" fill="#9a80e0" opacity="0.22"/><path d="M83.7 138.9h1.0v1.0h-1.0zM75.2 147.7h1.0v1.0h-1.0zM51.0 148.6h1.0v1.0h-1.0zM44.9 136.1h1.0v1.0h-1.0zM89.7 136.4h1.0v1.0h-1.0zM82.9 129.6h1.0v1.0h-1.0zM70.6 132.7h1.0v1.0h-1.0zM49.9 133.6h1.0v1.0h-1.0zM59.7 148.0h1.0v1.0h-1.0zM79.2 114.6h1.0v1.0h-1.0zM85.9 145.0h1.0v1.0h-1.0zM81.8 110.3h1.0v1.0h-1.0zM43.6 127.9h1.0v1.0h-1.0zM80.4 146.6h1.0v1.0h-1.0zM95.8 132.0h1.0v1.0h-1.0zM70.0 154.9h1.0v1.0h-1.0zM74.8 133.3h1.0v1.0h-1.0zM67.2 148.2h1.0v1.0h-1.0zM77.1 125.7h1.0v1.0h-1.0zM90.1 128.7h1.0v1.0h-1.0zM62.3 159.3h1.0v1.0h-1.0zM70.6 147.8h1.0v1.0h-1.0zM68.6 136.3h1.0v1.0h-1.0zM73.6 131.4h1.0v1.0h-1.0zM70.6 123.5h1.0v1.0h-1.0z" fill="#9a80e0" opacity="0.22"/><path d="M66.3 132.6h1.0v1.0h-1.0zM83.3 125.6h1.0v1.0h-1.0zM55.9 112.8h1.0v1.0h-1.0zM82.4 135.3h1.0v1.0h-1.0zM55.9 136.1h1.0v1.0h-1.0zM77.8 123.0h1.0v1.0h-1.0zM82.9 139.6h1.0v1.0h-1.0zM74.3 133.8h1.0v1.0h-1.0zM75.8 142.4h1.0v1.0h-1.0zM63.0 127.3h1.0v1.0h-1.0zM76.6 136.7h1.0v1.0h-1.0zM66.7 136.5h1.0v1.0h-1.0zM76.5 142.6h1.0v1.0h-1.0zM103.1 133.9h1.0v1.0h-1.0zM93.3 155.4h1.0v1.0h-1.0zM60.2 150.3h1.0v1.0h-1.0z" fill="#9a80e0" opacity="0.22"/><path d="M64.5 140.9h1.0v1.0h-1.0zM68.8 127.6h1.0v1.0h-1.0zM66.3 140.2h1.0v1.0h-1.0zM67.6 123.5h1.0v1.0h-1.0zM78.4 143.4h1.0v1.0h-1.0zM86.5 133.5h1.0v1.0h-1.0zM60.3 135.6h1.0v1.0h-1.0zM44.0 126.3h1.0v1.0h-1.0zM79.6 112.2h1.0v1.0h-1.0zM65.9 116.2h1.0v1.0h-1.0zM78.4 144.3h1.0v1.0h-1.0zM64.5 145.0h1.0v1.0h-1.0zM71.9 121.5h1.0v1.0h-1.0zM62.1 135.2h1.0v1.0h-1.0zM74.2 131.2h1.0v1.0h-1.0zM63.5 123.6h1.0v1.0h-1.0zM70.4 138.1h1.0v1.0h-1.0zM66.7 130.3h1.0v1.0h-1.0zM70.6 136.3h1.0v1.0h-1.0zM90.8 132.1h1.0v1.0h-1.0zM84.6 145.2h1.0v1.0h-1.0zM94.3 130.7h1.0v1.0h-1.0zM97.3 129.0h1.0v1.0h-1.0zM77.8 120.3h1.0v1.0h-1.0zM49.3 114.4h1.0v1.0h-1.0z" fill="#7070d8" opacity="0.22"/><path d="M69.8 136.9h1.0v1.0h-1.0zM74.2 134.3h1.0v1.0h-1.0zM71.3 126.1h1.0v1.0h-1.0zM59.8 133.1h1.0v1.0h-1.0zM72.5 120.0h1.0v1.0h-1.0zM96.5 124.8h1.0v1.0h-1.0zM50.6 132.7h1.0v1.0h-1.0zM47.7 136.7h1.0v1.0h-1.0zM56.0 143.9h1.0v1.0h-1.0zM74.6 148.0h1.0v1.0h-1.0zM66.4 137.5h1.0v1.0h-1.0zM56.5 143.7h1.0v1.0h-1.0zM61.8 108.1h1.0v1.0h-1.0zM79.3 133.6h1.0v1.0h-1.0zM76.0 117.4h1.0v1.0h-1.0zM58.9 123.2h1.0v1.0h-1.0zM75.1 135.4h1.0v1.0h-1.0zM78.0 131.9h1.0v1.0h-1.0zM50.1 119.6h1.0v1.0h-1.0zM61.7 110.5h1.0v1.0h-1.0zM71.8 137.4h1.0v1.0h-1.0zM64.3 149.6h1.0v1.0h-1.0zM62.7 126.0h1.0v1.0h-1.0zM69.5 123.5h1.0v1.0h-1.0zM63.2 139.7h1.0v1.0h-1.0z" fill="#7070d8" opacity="0.22"/><path d="M59.2 123.4h1.0v1.0h-1.0zM68.8 119.1h1.0v1.0h-1.0zM95.6 136.8h1.0v1.0h-1.0zM83.6 126.5h1.0v1.0h-1.0zM75.2 119.8h1.0v1.0h-1.0zM80.8 121.3h1.0v1.0h-1.0zM75.3 128.2h1.0v1.0h-1.0zM76.2 154.7h1.0v1.0h-1.0zM81.1 152.4h1.0v1.0h-1.0zM75.5 142.3h1.0v1.0h-1.0zM67.8 138.1h1.0v1.0h-1.0zM70.5 123.2h1.0v1.0h-1.0zM99.5 103.6h1.0v1.0h-1.0zM73.2 165.2h1.0v1.0h-1.0zM92.8 146.1h1.0v1.0h-1.0zM92.2 128.5h1.0v1.0h-1.0zM66.1 149.0h1.0v1.0h-1.0zM65.4 151.6h1.0v1.0h-1.0zM66.3 133.5h1.0v1.0h-1.0zM69.0 114.3h1.0v1.0h-1.0zM81.1 126.5h1.0v1.0h-1.0zM61.3 124.5h1.0v1.0h-1.0zM80.7 133.0h1.0v1.0h-1.0z" fill="#7070d8" opacity="0.22"/></g>
<g filter="url(#soft3)"><rect x="57" y="123" width="32" height="25" rx="6" fill="#8aa0ec" opacity="0.4"/><rect x="58" y="127" width="30" height="18" rx="4" fill="#4a90e8" opacity="0.6"/><rect x="62" y="130" width="22" height="12" rx="3" fill="#3070d8" opacity="0.35"/></g>
<g filter="url(#soft)"><path d="M68.1 140.7h1.1v1.1h-1.1zM86.8 130.7h1.1v1.1h-1.1zM71.5 128.0h1.1v1.1h-1.1zM84.4 142.1h1.1v1.1h-1.1zM76.0 131.8h1.1v1.1h-1.1zM78.4 142.1h1.1v1.1h-1.1zM75.5 135.5h1.1v1.1h-1.1zM68.9 138.6h1.1v1.1h-1.1zM65.9 139.4h1.1v1.1h-1.1zM77.1 134.8h1.1v1.1h-1.1zM81.6 132.6h1.1v1.1h-1.1zM67.3 128.8h1.1v1.1h-1.1zM69.8 141.9h1.1v1.1h-1.1zM86.1 128.0h1.1v1.1h-1.1zM81.0 134.2h1.1v1.1h-1.1zM73.2 137.5h1.1v1.1h-1.1zM78.6 138.4h1.1v1.1h-1.1zM63.3 130.0h1.1v1.1h-1.1zM73.6 134.6h1.1v1.1h-1.1zM70.9 126.3h1.1v1.1h-1.1zM59.3 133.7h1.1v1.1h-1.1zM77.4 131.0h1.1v1.1h-1.1zM70.0 142.0h1.1v1.1h-1.1zM62.9 138.2h1.1v1.1h-1.1zM81.9 134.0h1.1v1.1h-1.1z" fill="#3060d0" opacity="0.4"/><path d="M81.1 130.5h1.1v1.1h-1.1zM60.8 130.8h1.1v1.1h-1.1zM86.0 126.9h1.1v1.1h-1.1zM74.8 139.7h1.1v1.1h-1.1zM62.2 129.0h1.1v1.1h-1.1zM80.2 142.0h1.1v1.1h-1.1zM74.3 134.9h1.1v1.1h-1.1zM82.0 132.9h1.1v1.1h-1.1zM70.4 136.3h1.1v1.1h-1.1zM56.9 134.2h1.1v1.1h-1.1zM78.0 136.3h1.1v1.1h-1.1zM84.1 136.0h1.1v1.1h-1.1zM60.1 134.9h1.1v1.1h-1.1zM71.7 133.1h1.1v1.1h-1.1zM68.0 128.2h1.1v1.1h-1.1zM79.4 142.6h1.1v1.1h-1.1zM64.7 135.5h1.1v1.1h-1.1zM78.7 131.4h1.1v1.1h-1.1zM83.7 139.6h1.1v1.1h-1.1zM69.5 134.8h1.1v1.1h-1.1zM63.5 131.4h1.1v1.1h-1.1zM85.2 140.7h1.1v1.1h-1.1zM79.4 128.3h1.1v1.1h-1.1zM75.7 139.7h1.1v1.1h-1.1zM61.2 132.4h1.1v1.1h-1.1z" fill="#3060d0" opacity="0.4"/><path d="M71.1 136.0h1.1v1.1h-1.1zM69.1 130.6h1.1v1.1h-1.1zM75.7 140.2h1.1v1.1h-1.1zM79.8 137.4h1.1v1.1h-1.1zM65.4 127.3h1.1v1.1h-1.1zM78.3 129.4h1.1v1.1h-1.1zM77.0 145.1h1.1v1.1h-1.1zM83.5 139.6h1.1v1.1h-1.1zM64.9 128.6h1.1v1.1h-1.1zM80.5 138.8h1.1v1.1h-1.1zM82.4 133.4h1.1v1.1h-1.1zM79.9 144.1h1.1v1.1h-1.1zM69.0 136.8h1.1v1.1h-1.1zM78.4 133.5h1.1v1.1h-1.1zM63.5 138.7h1.1v1.1h-1.1zM78.1 134.8h1.1v1.1h-1.1zM76.2 133.2h1.1v1.1h-1.1zM78.8 133.0h1.1v1.1h-1.1zM70.0 136.5h1.1v1.1h-1.1zM80.5 135.8h1.1v1.1h-1.1zM84.0 141.3h1.1v1.1h-1.1zM80.4 138.6h1.1v1.1h-1.1zM84.2 141.2h1.1v1.1h-1.1zM68.5 136.1h1.1v1.1h-1.1zM58.3 133.6h1.1v1.1h-1.1z" fill="#3060d0" opacity="0.4"/><path d="M61.9 133.1h1.1v1.1h-1.1zM65.4 134.1h1.1v1.1h-1.1zM79.6 130.4h1.1v1.1h-1.1zM62.7 145.0h1.1v1.1h-1.1z" fill="#3060d0" opacity="0.4"/><path d="M73.0 141.1h1.1v1.1h-1.1zM83.2 132.4h1.1v1.1h-1.1zM64.0 138.9h1.1v1.1h-1.1zM72.9 130.4h1.1v1.1h-1.1zM74.1 142.0h1.1v1.1h-1.1zM83.4 139.4h1.1v1.1h-1.1zM85.9 133.2h1.1v1.1h-1.1zM66.2 139.3h1.1v1.1h-1.1zM79.6 136.2h1.1v1.1h-1.1zM84.6 141.8h1.1v1.1h-1.1zM78.0 131.2h1.1v1.1h-1.1zM82.9 128.8h1.1v1.1h-1.1zM71.5 133.6h1.1v1.1h-1.1zM82.1 138.6h1.1v1.1h-1.1zM74.9 142.6h1.1v1.1h-1.1zM83.6 139.7h1.1v1.1h-1.1zM86.1 129.4h1.1v1.1h-1.1zM63.5 140.6h1.1v1.1h-1.1zM67.3 128.2h1.1v1.1h-1.1zM60.3 131.6h1.1v1.1h-1.1zM59.4 137.5h1.1v1.1h-1.1zM71.8 140.8h1.1v1.1h-1.1zM65.0 141.3h1.1v1.1h-1.1zM77.9 140.3h1.1v1.1h-1.1zM75.8 133.1h1.1v1.1h-1.1z" fill="#4a88e8" opacity="0.4"/><path d="M65.8 136.1h1.1v1.1h-1.1zM64.8 141.0h1.1v1.1h-1.1zM80.7 129.9h1.1v1.1h-1.1zM72.9 128.9h1.1v1.1h-1.1zM80.3 128.6h1.1v1.1h-1.1zM79.0 131.8h1.1v1.1h-1.1zM82.0 143.8h1.1v1.1h-1.1zM74.8 143.0h1.1v1.1h-1.1zM80.6 138.5h1.1v1.1h-1.1zM87.7 141.1h1.1v1.1h-1.1zM73.7 128.7h1.1v1.1h-1.1zM70.4 133.3h1.1v1.1h-1.1zM58.4 137.3h1.1v1.1h-1.1zM86.0 127.5h1.1v1.1h-1.1zM76.4 138.2h1.1v1.1h-1.1zM67.9 144.1h1.1v1.1h-1.1zM60.2 141.0h1.1v1.1h-1.1zM71.4 135.5h1.1v1.1h-1.1zM70.7 133.5h1.1v1.1h-1.1zM66.7 140.8h1.1v1.1h-1.1zM76.6 132.4h1.1v1.1h-1.1zM84.3 130.2h1.1v1.1h-1.1zM74.3 130.5h1.1v1.1h-1.1zM72.8 145.7h1.1v1.1h-1.1zM64.9 129.3h1.1v1.1h-1.1z" fill="#4a88e8" opacity="0.4"/><path d="M67.4 128.2h1.1v1.1h-1.1zM60.9 140.4h1.1v1.1h-1.1zM71.2 138.7h1.1v1.1h-1.1zM73.7 127.4h1.1v1.1h-1.1zM72.6 129.6h1.1v1.1h-1.1zM70.4 140.0h1.1v1.1h-1.1zM63.4 134.9h1.1v1.1h-1.1zM62.9 136.8h1.1v1.1h-1.1zM66.1 127.6h1.1v1.1h-1.1zM61.4 139.6h1.1v1.1h-1.1zM83.1 136.0h1.1v1.1h-1.1zM85.7 132.7h1.1v1.1h-1.1zM66.0 130.5h1.1v1.1h-1.1zM64.4 129.1h1.1v1.1h-1.1zM83.4 127.6h1.1v1.1h-1.1zM59.3 131.9h1.1v1.1h-1.1zM86.0 126.3h1.1v1.1h-1.1zM78.7 128.1h1.1v1.1h-1.1zM80.3 134.6h1.1v1.1h-1.1zM58.8 135.8h1.1v1.1h-1.1zM85.2 136.6h1.1v1.1h-1.1zM72.6 133.8h1.1v1.1h-1.1zM84.1 132.4h1.1v1.1h-1.1zM60.7 134.7h1.1v1.1h-1.1zM75.3 135.7h1.1v1.1h-1.1z" fill="#4a88e8" opacity="0.4"/><path d="M65.0 142.2h1.1v1.1h-1.1zM82.9 135.0h1.1v1.1h-1.1zM73.7 142.0h1.1v1.1h-1.1zM76.6 131.3h1.1v1.1h-1.1zM80.5 129.8h1.1v1.1h-1.1zM71.2 139.6h1.1v1.1h-1.1zM75.8 134.2h1.1v1.1h-1.1zM83.0 140.8h1.1v1.1h-1.1zM66.2 142.6h1.1v1.1h-1.1zM65.3 145.0h1.1v1.1h-1.1zM72.3 140.4h1.1v1.1h-1.1z" fill="#4a88e8" opacity="0.4"/><path d="M84.9 144.6h1.1v1.1h-1.1zM72.9 141.6h1.1v1.1h-1.1zM87.3 136.9h1.1v1.1h-1.1zM82.4 134.5h1.1v1.1h-1.1zM84.8 129.5h1.1v1.1h-1.1zM77.9 139.1h1.1v1.1h-1.1zM69.6 128.9h1.1v1.1h-1.1zM56.4 130.4h1.1v1.1h-1.1zM83.5 126.3h1.1v1.1h-1.1zM81.0 135.3h1.1v1.1h-1.1zM69.8 136.2h1.1v1.1h-1.1zM69.1 130.5h1.1v1.1h-1.1zM76.7 132.0h1.1v1.1h-1.1zM69.2 137.1h1.1v1.1h-1.1zM59.2 136.9h1.1v1.1h-1.1zM73.1 134.5h1.1v1.1h-1.1zM58.9 141.5h1.1v1.1h-1.1zM74.5 132.7h1.1v1.1h-1.1zM79.5 139.7h1.1v1.1h-1.1zM82.2 136.1h1.1v1.1h-1.1zM65.7 133.0h1.1v1.1h-1.1zM83.6 140.2h1.1v1.1h-1.1zM85.1 134.1h1.1v1.1h-1.1zM83.0 130.7h1.1v1.1h-1.1zM63.2 130.9h1.1v1.1h-1.1z" fill="#2a50c0" opacity="0.4"/><path d="M69.4 142.3h1.1v1.1h-1.1zM61.8 133.2h1.1v1.1h-1.1zM69.5 143.9h1.1v1.1h-1.1zM61.3 126.6h1.1v1.1h-1.1zM76.8 140.8h1.1v1.1h-1.1zM60.5 138.2h1.1v1.1h-1.1zM78.3 129.8h1.1v1.1h-1.1zM61.9 140.9h1.1v1.1h-1.1zM63.7 132.6h1.1v1.1h-1.1zM79.9 132.9h1.1v1.1h-1.1zM78.7 138.6h1.1v1.1h-1.1zM80.7 131.6h1.1v1.1h-1.1zM81.0 142.7h1.1v1.1h-1.1zM74.4 129.2h1.1v1.1h-1.1zM73.6 139.1h1.1v1.1h-1.1zM73.5 130.2h1.1v1.1h-1.1zM75.6 136.9h1.1v1.1h-1.1zM78.1 142.7h1.1v1.1h-1.1zM79.9 140.8h1.1v1.1h-1.1zM64.8 132.8h1.1v1.1h-1.1zM66.5 134.9h1.1v1.1h-1.1zM84.3 141.2h1.1v1.1h-1.1zM64.7 128.4h1.1v1.1h-1.1zM61.6 129.1h1.1v1.1h-1.1zM74.0 133.1h1.1v1.1h-1.1z" fill="#2a50c0" opacity="0.4"/><path d="M68.4 130.7h1.1v1.1h-1.1zM80.3 127.9h1.1v1.1h-1.1zM71.6 134.4h1.1v1.1h-1.1zM68.3 142.0h1.1v1.1h-1.1zM63.3 129.1h1.1v1.1h-1.1zM85.1 130.4h1.1v1.1h-1.1zM60.3 133.6h1.1v1.1h-1.1zM75.8 138.7h1.1v1.1h-1.1zM73.4 131.7h1.1v1.1h-1.1zM58.3 139.2h1.1v1.1h-1.1zM73.8 133.8h1.1v1.1h-1.1zM73.4 139.4h1.1v1.1h-1.1zM62.1 139.6h1.1v1.1h-1.1zM81.2 139.4h1.1v1.1h-1.1zM60.2 146.6h1.1v1.1h-1.1zM63.9 132.6h1.1v1.1h-1.1zM72.4 133.5h1.1v1.1h-1.1zM60.8 142.7h1.1v1.1h-1.1zM65.7 134.6h1.1v1.1h-1.1zM64.8 129.7h1.1v1.1h-1.1zM79.3 135.8h1.1v1.1h-1.1zM74.3 138.2h1.1v1.1h-1.1zM85.3 129.7h1.1v1.1h-1.1zM81.0 135.3h1.1v1.1h-1.1zM70.3 134.1h1.1v1.1h-1.1z" fill="#2a50c0" opacity="0.4"/><path d="M64.3 132.5h1.1v1.1h-1.1zM81.6 130.5h1.1v1.1h-1.1zM79.0 135.6h1.1v1.1h-1.1zM56.2 130.8h1.1v1.1h-1.1zM70.5 135.5h1.1v1.1h-1.1zM63.1 131.0h1.1v1.1h-1.1zM61.0 134.8h1.1v1.1h-1.1zM64.1 137.2h1.1v1.1h-1.1zM82.8 143.3h1.1v1.1h-1.1zM64.0 129.5h1.1v1.1h-1.1zM74.0 130.9h1.1v1.1h-1.1z" fill="#2a50c0" opacity="0.4"/><path d="M83.8 130.9h1.1v1.1h-1.1zM85.4 133.8h1.1v1.1h-1.1zM72.0 140.1h1.1v1.1h-1.1zM83.6 133.0h1.1v1.1h-1.1zM65.2 131.8h1.1v1.1h-1.1zM80.1 135.4h1.1v1.1h-1.1zM61.4 140.7h1.1v1.1h-1.1zM71.9 133.2h1.1v1.1h-1.1zM77.7 132.4h1.1v1.1h-1.1zM69.9 128.3h1.1v1.1h-1.1zM76.3 135.2h1.1v1.1h-1.1zM79.5 126.9h1.1v1.1h-1.1zM71.6 142.0h1.1v1.1h-1.1zM74.6 129.9h1.1v1.1h-1.1zM71.2 128.3h1.1v1.1h-1.1zM67.4 132.1h1.1v1.1h-1.1zM61.2 139.9h1.1v1.1h-1.1zM64.9 131.6h1.1v1.1h-1.1zM58.9 142.0h1.1v1.1h-1.1zM72.9 129.8h1.1v1.1h-1.1zM60.5 132.8h1.1v1.1h-1.1zM64.2 140.8h1.1v1.1h-1.1zM64.8 134.2h1.1v1.1h-1.1zM75.4 135.0h1.1v1.1h-1.1zM79.9 136.2h1.1v1.1h-1.1z" fill="#40a0e8" opacity="0.4"/><path d="M61.6 127.9h1.1v1.1h-1.1zM87.6 141.0h1.1v1.1h-1.1zM58.9 128.6h1.1v1.1h-1.1zM65.1 142.8h1.1v1.1h-1.1zM87.0 132.7h1.1v1.1h-1.1zM64.4 133.9h1.1v1.1h-1.1zM60.8 132.2h1.1v1.1h-1.1zM74.7 138.6h1.1v1.1h-1.1zM74.0 134.1h1.1v1.1h-1.1zM76.2 142.7h1.1v1.1h-1.1zM75.3 144.1h1.1v1.1h-1.1zM70.8 133.2h1.1v1.1h-1.1zM83.8 140.2h1.1v1.1h-1.1zM63.7 143.4h1.1v1.1h-1.1zM85.0 130.3h1.1v1.1h-1.1zM71.9 129.7h1.1v1.1h-1.1zM76.8 140.4h1.1v1.1h-1.1zM81.2 136.4h1.1v1.1h-1.1zM66.4 138.5h1.1v1.1h-1.1zM74.0 129.5h1.1v1.1h-1.1zM70.0 143.3h1.1v1.1h-1.1zM74.2 132.2h1.1v1.1h-1.1zM61.0 141.1h1.1v1.1h-1.1zM70.8 130.1h1.1v1.1h-1.1zM58.0 131.3h1.1v1.1h-1.1z" fill="#40a0e8" opacity="0.4"/><path d="M72.8 139.8h1.1v1.1h-1.1zM84.5 133.8h1.1v1.1h-1.1zM73.6 125.8h1.1v1.1h-1.1zM61.8 127.4h1.1v1.1h-1.1zM69.1 141.7h1.1v1.1h-1.1zM72.9 132.9h1.1v1.1h-1.1zM63.2 130.7h1.1v1.1h-1.1zM76.3 134.1h1.1v1.1h-1.1zM76.1 137.7h1.1v1.1h-1.1zM60.0 127.8h1.1v1.1h-1.1zM77.8 129.8h1.1v1.1h-1.1zM77.8 142.0h1.1v1.1h-1.1zM84.6 135.0h1.1v1.1h-1.1zM84.9 135.0h1.1v1.1h-1.1zM87.6 129.6h1.1v1.1h-1.1zM77.0 136.6h1.1v1.1h-1.1zM67.3 129.7h1.1v1.1h-1.1zM58.8 144.1h1.1v1.1h-1.1zM82.1 137.1h1.1v1.1h-1.1zM73.7 129.4h1.1v1.1h-1.1zM81.8 141.2h1.1v1.1h-1.1zM86.6 136.4h1.1v1.1h-1.1zM64.5 139.1h1.1v1.1h-1.1zM74.8 141.7h1.1v1.1h-1.1zM65.0 144.6h1.1v1.1h-1.1z" fill="#40a0e8" opacity="0.4"/><path d="M78.6 141.1h1.1v1.1h-1.1zM83.2 137.1h1.1v1.1h-1.1zM77.0 131.2h1.1v1.1h-1.1zM76.3 135.4h1.1v1.1h-1.1zM75.1 134.3h1.1v1.1h-1.1zM85.1 129.2h1.1v1.1h-1.1zM85.9 136.4h1.1v1.1h-1.1zM78.2 137.6h1.1v1.1h-1.1zM78.8 142.0h1.1v1.1h-1.1zM81.9 130.7h1.1v1.1h-1.1zM61.1 134.4h1.1v1.1h-1.1z" fill="#40a0e8" opacity="0.4"/><path d="M62.0 129.5h1.1v1.1h-1.1zM64.0 139.2h1.1v1.1h-1.1zM77.4 134.7h1.1v1.1h-1.1zM58.8 138.0h1.1v1.1h-1.1zM68.4 130.5h1.1v1.1h-1.1zM85.3 144.1h1.1v1.1h-1.1zM73.3 142.3h1.1v1.1h-1.1zM58.9 141.3h1.1v1.1h-1.1zM81.4 142.0h1.1v1.1h-1.1zM71.5 135.8h1.1v1.1h-1.1zM77.3 126.6h1.1v1.1h-1.1zM72.6 130.7h1.1v1.1h-1.1zM83.7 139.9h1.1v1.1h-1.1zM75.5 139.3h1.1v1.1h-1.1zM78.6 139.1h1.1v1.1h-1.1zM62.9 132.8h1.1v1.1h-1.1zM67.8 131.5h1.1v1.1h-1.1zM74.0 135.3h1.1v1.1h-1.1zM72.8 136.2h1.1v1.1h-1.1zM61.8 138.4h1.1v1.1h-1.1zM84.1 129.7h1.1v1.1h-1.1zM64.3 142.2h1.1v1.1h-1.1zM68.5 137.5h1.1v1.1h-1.1zM57.0 134.8h1.1v1.1h-1.1zM76.9 140.3h1.1v1.1h-1.1z" fill="#60b8f0" opacity="0.4"/><path d="M77.6 134.9h1.1v1.1h-1.1zM84.3 139.2h1.1v1.1h-1.1zM73.9 132.4h1.1v1.1h-1.1zM81.5 140.8h1.1v1.1h-1.1zM61.7 130.4h1.1v1.1h-1.1zM68.7 139.5h1.1v1.1h-1.1zM64.0 133.9h1.1v1.1h-1.1zM81.0 139.7h1.1v1.1h-1.1zM65.5 135.6h1.1v1.1h-1.1zM80.3 129.9h1.1v1.1h-1.1zM77.2 141.8h1.1v1.1h-1.1zM79.0 134.7h1.1v1.1h-1.1zM66.4 130.6h1.1v1.1h-1.1zM61.7 130.3h1.1v1.1h-1.1zM84.5 133.0h1.1v1.1h-1.1zM87.0 128.4h1.1v1.1h-1.1zM76.7 144.2h1.1v1.1h-1.1zM84.7 129.8h1.1v1.1h-1.1zM61.8 128.9h1.1v1.1h-1.1zM73.0 136.2h1.1v1.1h-1.1zM77.6 139.2h1.1v1.1h-1.1zM69.0 134.6h1.1v1.1h-1.1zM65.4 141.9h1.1v1.1h-1.1zM77.2 136.3h1.1v1.1h-1.1zM65.6 137.3h1.1v1.1h-1.1z" fill="#60b8f0" opacity="0.4"/><path d="M79.0 139.4h1.1v1.1h-1.1zM69.4 136.6h1.1v1.1h-1.1zM71.0 143.4h1.1v1.1h-1.1zM59.0 133.8h1.1v1.1h-1.1zM68.7 140.6h1.1v1.1h-1.1zM68.6 131.2h1.1v1.1h-1.1zM77.6 130.4h1.1v1.1h-1.1zM68.0 132.0h1.1v1.1h-1.1zM79.8 137.9h1.1v1.1h-1.1zM72.4 135.6h1.1v1.1h-1.1zM78.9 139.1h1.1v1.1h-1.1zM59.2 136.1h1.1v1.1h-1.1zM62.2 142.6h1.1v1.1h-1.1zM69.7 140.9h1.1v1.1h-1.1zM60.5 136.0h1.1v1.1h-1.1zM84.2 129.0h1.1v1.1h-1.1zM70.0 130.3h1.1v1.1h-1.1zM70.8 145.0h1.1v1.1h-1.1zM60.1 126.8h1.1v1.1h-1.1zM71.9 139.9h1.1v1.1h-1.1zM60.0 138.1h1.1v1.1h-1.1zM64.9 134.3h1.1v1.1h-1.1zM61.8 131.0h1.1v1.1h-1.1zM70.2 129.6h1.1v1.1h-1.1zM82.2 129.4h1.1v1.1h-1.1z" fill="#60b8f0" opacity="0.4"/><path d="M68.7 127.9h1.1v1.1h-1.1zM84.0 138.5h1.1v1.1h-1.1zM65.1 131.7h1.1v1.1h-1.1zM79.6 131.7h1.1v1.1h-1.1zM86.5 127.7h1.1v1.1h-1.1zM63.6 130.9h1.1v1.1h-1.1z" fill="#60b8f0" opacity="0.4"/><path d="M69.7 137.6h1.1v1.1h-1.1zM88.2 141.8h1.1v1.1h-1.1zM63.5 137.7h1.1v1.1h-1.1zM73.3 134.3h1.1v1.1h-1.1zM83.8 136.9h1.1v1.1h-1.1zM59.4 136.9h1.1v1.1h-1.1zM62.3 133.8h1.1v1.1h-1.1zM64.3 129.7h1.1v1.1h-1.1zM75.8 141.6h1.1v1.1h-1.1zM65.5 141.8h1.1v1.1h-1.1zM77.7 129.8h1.1v1.1h-1.1zM61.4 141.3h1.1v1.1h-1.1zM86.4 128.3h1.1v1.1h-1.1zM65.1 138.6h1.1v1.1h-1.1zM76.3 135.4h1.1v1.1h-1.1zM69.4 133.3h1.1v1.1h-1.1zM64.3 139.0h1.1v1.1h-1.1zM78.2 128.3h1.1v1.1h-1.1zM82.2 139.0h1.1v1.1h-1.1zM80.3 134.7h1.1v1.1h-1.1zM70.4 127.9h1.1v1.1h-1.1zM82.9 134.6h1.1v1.1h-1.1zM79.7 130.2h1.1v1.1h-1.1zM83.7 136.6h1.1v1.1h-1.1zM65.4 129.0h1.1v1.1h-1.1z" fill="#ffffff" opacity="0.4"/><path d="M63.2 137.5h1.1v1.1h-1.1zM76.5 141.2h1.1v1.1h-1.1zM67.4 140.7h1.1v1.1h-1.1zM78.7 137.4h1.1v1.1h-1.1zM74.5 139.1h1.1v1.1h-1.1zM84.6 130.4h1.1v1.1h-1.1zM76.8 128.4h1.1v1.1h-1.1zM70.4 127.3h1.1v1.1h-1.1zM58.3 137.0h1.1v1.1h-1.1zM67.7 142.4h1.1v1.1h-1.1zM65.9 139.0h1.1v1.1h-1.1zM74.6 138.1h1.1v1.1h-1.1zM88.4 140.3h1.1v1.1h-1.1zM84.2 141.8h1.1v1.1h-1.1zM79.6 132.0h1.1v1.1h-1.1zM61.8 135.8h1.1v1.1h-1.1zM62.3 134.8h1.1v1.1h-1.1zM80.1 143.0h1.1v1.1h-1.1zM70.1 131.3h1.1v1.1h-1.1zM66.0 134.4h1.1v1.1h-1.1zM63.1 136.8h1.1v1.1h-1.1zM76.2 130.4h1.1v1.1h-1.1zM73.2 129.6h1.1v1.1h-1.1zM73.5 140.5h1.1v1.1h-1.1zM80.9 144.2h1.1v1.1h-1.1z" fill="#ffffff" opacity="0.4"/><path d="M79.1 140.8h1.1v1.1h-1.1zM67.5 139.5h1.1v1.1h-1.1zM65.9 133.9h1.1v1.1h-1.1zM62.9 142.0h1.1v1.1h-1.1zM83.7 139.7h1.1v1.1h-1.1zM59.3 136.1h1.1v1.1h-1.1zM81.5 133.9h1.1v1.1h-1.1zM70.3 135.6h1.1v1.1h-1.1zM63.3 137.9h1.1v1.1h-1.1zM69.0 138.9h1.1v1.1h-1.1zM67.4 133.1h1.1v1.1h-1.1zM62.6 129.9h1.1v1.1h-1.1zM86.2 137.8h1.1v1.1h-1.1zM64.3 136.0h1.1v1.1h-1.1zM84.0 137.1h1.1v1.1h-1.1zM63.5 131.7h1.1v1.1h-1.1zM85.7 140.0h1.1v1.1h-1.1zM67.1 127.6h1.1v1.1h-1.1zM80.8 128.3h1.1v1.1h-1.1zM80.7 139.3h1.1v1.1h-1.1zM84.4 138.4h1.1v1.1h-1.1zM80.2 139.1h1.1v1.1h-1.1zM64.5 144.1h1.1v1.1h-1.1zM78.2 137.4h1.1v1.1h-1.1zM83.8 139.2h1.1v1.1h-1.1z" fill="#ffffff" opacity="0.4"/><path d="M77.4 143.6h1.1v1.1h-1.1zM63.8 134.2h1.1v1.1h-1.1zM71.9 144.9h1.1v1.1h-1.1zM71.7 133.5h1.1v1.1h-1.1zM81.0 131.2h1.1v1.1h-1.1zM65.4 128.2h1.1v1.1h-1.1zM77.7 132.2h1.1v1.1h-1.1z" fill="#ffffff" opacity="0.4"/></g>
<ellipse cx="61.5" cy="133.5" rx="6.5" ry="11.0" fill="url(#g10)" opacity="0.8"/>
<g filter="url(#soft)"><path d="M98.5 120.1h1.0v1.0h-1.0zM90.9 110.7h1.0v1.0h-1.0zM93.1 116.8h1.0v1.0h-1.0zM96.1 109.9h1.0v1.0h-1.0zM92.9 111.9h1.0v1.0h-1.0zM92.7 110.6h1.0v1.0h-1.0zM97.2 114.1h1.0v1.0h-1.0zM96.5 115.0h1.0v1.0h-1.0zM98.0 111.6h1.0v1.0h-1.0zM97.2 115.9h1.0v1.0h-1.0zM93.4 104.4h1.0v1.0h-1.0zM89.9 118.4h1.0v1.0h-1.0zM94.3 114.0h1.0v1.0h-1.0zM93.2 113.1h1.0v1.0h-1.0zM88.9 112.3h1.0v1.0h-1.0zM95.0 112.4h1.0v1.0h-1.0zM93.0 114.7h1.0v1.0h-1.0zM90.5 117.0h1.0v1.0h-1.0zM88.5 111.4h1.0v1.0h-1.0zM100.9 111.9h1.0v1.0h-1.0zM91.4 116.2h1.0v1.0h-1.0zM103.6 107.0h1.0v1.0h-1.0zM102.9 112.3h1.0v1.0h-1.0zM91.8 110.9h1.0v1.0h-1.0zM98.1 115.2h1.0v1.0h-1.0z" fill="#f0a0d0" opacity="0.35"/><path d="M94.1 111.2h1.0v1.0h-1.0zM93.3 114.9h1.0v1.0h-1.0zM99.3 112.8h1.0v1.0h-1.0zM94.4 107.0h1.0v1.0h-1.0zM96.1 109.1h1.0v1.0h-1.0z" fill="#f0a0d0" opacity="0.35"/></g>
<g filter="url(#soft2)"><ellipse cx="61.90" cy="133.60" rx="4.00" ry="6.60" fill="#40b0c0" opacity="0.85"/><ellipse cx="61.90" cy="133.60" rx="3.12" ry="5.15" fill="#90d020" opacity="0.95"/><ellipse cx="61.90" cy="133.60" rx="2.00" ry="3.30" fill="#c8e018" opacity="0.95"/><ellipse cx="61.90" cy="133.60" rx="0.88" ry="1.45" fill="#608020" opacity="0.8"/></g>
<rect x="88.40" y="104.50" width="25.80" height="19.50" fill="none" stroke="#9a5a7a" stroke-width="1.3" />
<rect x="48.00" y="104.50" width="66.20" height="61.20" fill="none" stroke="#7a7a7a" stroke-width="1.0" />
<text x="110.60" y="120.80" font-size="7.8" fill="#a05a88" font-weight="bold" text-anchor="end" >PB</text>
<rect x="168.60" y="104.50" width="27.90" height="17.90" fill="#fbeef6" stroke="none" stroke-width="1" />
<ellipse cx="163.0" cy="134.0" rx="14.0" ry="15.0" fill="url(#g5)" opacity="0.3"/>
<g filter="url(#soft)"><path d="M156.6 110.4h1.1v1.1h-1.1zM151.0 150.8h1.1v1.1h-1.1zM160.2 123.3h1.1v1.1h-1.1zM150.0 125.1h1.1v1.1h-1.1zM165.3 143.9h1.1v1.1h-1.1zM153.5 132.9h1.1v1.1h-1.1zM179.2 129.4h1.1v1.1h-1.1zM154.1 124.2h1.1v1.1h-1.1zM167.4 142.5h1.1v1.1h-1.1zM158.2 128.4h1.1v1.1h-1.1zM166.4 141.6h1.1v1.1h-1.1zM176.3 129.9h1.1v1.1h-1.1zM165.3 109.4h1.1v1.1h-1.1zM171.6 124.9h1.1v1.1h-1.1zM161.1 141.0h1.1v1.1h-1.1zM154.8 129.7h1.1v1.1h-1.1zM170.7 147.1h1.1v1.1h-1.1zM156.8 138.6h1.1v1.1h-1.1zM165.0 119.9h1.1v1.1h-1.1zM159.0 128.5h1.1v1.1h-1.1zM159.8 115.0h1.1v1.1h-1.1zM151.3 133.8h1.1v1.1h-1.1zM157.5 132.2h1.1v1.1h-1.1zM161.0 143.0h1.1v1.1h-1.1zM154.1 134.8h1.1v1.1h-1.1z" fill="#8080e0" opacity="0.25"/><path d="M158.6 129.5h1.1v1.1h-1.1zM172.6 141.8h1.1v1.1h-1.1zM150.5 147.6h1.1v1.1h-1.1zM171.9 154.3h1.1v1.1h-1.1zM163.0 133.2h1.1v1.1h-1.1zM160.2 128.7h1.1v1.1h-1.1zM157.3 129.5h1.1v1.1h-1.1zM167.6 117.6h1.1v1.1h-1.1zM154.4 128.1h1.1v1.1h-1.1zM173.0 117.8h1.1v1.1h-1.1zM169.2 143.1h1.1v1.1h-1.1zM155.8 116.5h1.1v1.1h-1.1zM165.6 141.4h1.1v1.1h-1.1zM175.0 137.4h1.1v1.1h-1.1zM166.1 136.1h1.1v1.1h-1.1zM166.1 139.5h1.1v1.1h-1.1zM160.1 110.6h1.1v1.1h-1.1zM157.1 122.5h1.1v1.1h-1.1zM158.0 122.0h1.1v1.1h-1.1zM153.5 148.8h1.1v1.1h-1.1zM158.2 134.1h1.1v1.1h-1.1zM169.8 126.7h1.1v1.1h-1.1zM154.1 119.8h1.1v1.1h-1.1zM160.3 127.4h1.1v1.1h-1.1zM174.2 125.0h1.1v1.1h-1.1z" fill="#8080e0" opacity="0.25"/><path d="M159.5 131.3h1.1v1.1h-1.1zM154.1 135.8h1.1v1.1h-1.1zM166.8 144.6h1.1v1.1h-1.1zM151.4 139.0h1.1v1.1h-1.1zM160.8 127.5h1.1v1.1h-1.1zM148.4 115.3h1.1v1.1h-1.1zM154.9 121.8h1.1v1.1h-1.1zM153.7 132.6h1.1v1.1h-1.1zM156.1 124.6h1.1v1.1h-1.1zM155.3 121.3h1.1v1.1h-1.1zM169.7 143.0h1.1v1.1h-1.1zM178.3 143.9h1.1v1.1h-1.1zM161.8 138.8h1.1v1.1h-1.1zM162.9 123.4h1.1v1.1h-1.1zM175.7 115.1h1.1v1.1h-1.1zM153.3 137.6h1.1v1.1h-1.1zM157.2 137.5h1.1v1.1h-1.1zM168.5 138.0h1.1v1.1h-1.1zM164.2 122.2h1.1v1.1h-1.1zM158.3 129.9h1.1v1.1h-1.1zM168.6 136.1h1.1v1.1h-1.1zM162.6 147.2h1.1v1.1h-1.1zM180.8 117.4h1.1v1.1h-1.1zM164.4 124.2h1.1v1.1h-1.1zM164.9 118.5h1.1v1.1h-1.1z" fill="#8080e0" opacity="0.25"/><path d="M177.6 140.0h1.1v1.1h-1.1zM173.3 129.4h1.1v1.1h-1.1zM153.8 129.3h1.1v1.1h-1.1zM159.8 122.9h1.1v1.1h-1.1zM164.3 137.4h1.1v1.1h-1.1z" fill="#8080e0" opacity="0.25"/><path d="M168.1 140.6h1.1v1.1h-1.1zM144.3 129.2h1.1v1.1h-1.1zM158.3 144.4h1.1v1.1h-1.1zM160.8 111.7h1.1v1.1h-1.1zM155.3 135.3h1.1v1.1h-1.1zM163.4 137.0h1.1v1.1h-1.1zM166.3 140.6h1.1v1.1h-1.1zM162.6 118.3h1.1v1.1h-1.1zM162.1 127.4h1.1v1.1h-1.1zM173.6 145.9h1.1v1.1h-1.1zM164.6 113.7h1.1v1.1h-1.1zM176.0 125.6h1.1v1.1h-1.1zM175.2 127.0h1.1v1.1h-1.1zM164.9 130.9h1.1v1.1h-1.1zM156.6 128.3h1.1v1.1h-1.1zM173.5 129.9h1.1v1.1h-1.1zM159.3 121.4h1.1v1.1h-1.1zM171.9 128.2h1.1v1.1h-1.1zM164.2 131.2h1.1v1.1h-1.1zM162.5 127.4h1.1v1.1h-1.1zM164.2 127.0h1.1v1.1h-1.1zM160.7 148.8h1.1v1.1h-1.1zM184.3 116.7h1.1v1.1h-1.1zM165.1 133.8h1.1v1.1h-1.1zM160.9 126.8h1.1v1.1h-1.1z" fill="#9a80e0" opacity="0.25"/><path d="M157.2 143.6h1.1v1.1h-1.1zM157.8 138.4h1.1v1.1h-1.1zM153.4 128.7h1.1v1.1h-1.1zM154.8 128.4h1.1v1.1h-1.1zM165.4 118.8h1.1v1.1h-1.1zM170.8 137.2h1.1v1.1h-1.1zM164.7 136.5h1.1v1.1h-1.1zM157.2 119.8h1.1v1.1h-1.1zM165.7 130.5h1.1v1.1h-1.1zM162.0 139.0h1.1v1.1h-1.1zM162.6 140.2h1.1v1.1h-1.1zM162.0 124.0h1.1v1.1h-1.1zM157.7 131.8h1.1v1.1h-1.1zM165.7 154.3h1.1v1.1h-1.1zM176.6 144.4h1.1v1.1h-1.1zM168.6 110.8h1.1v1.1h-1.1zM148.3 132.6h1.1v1.1h-1.1zM155.1 121.0h1.1v1.1h-1.1zM149.8 136.0h1.1v1.1h-1.1zM157.2 136.2h1.1v1.1h-1.1zM158.7 135.2h1.1v1.1h-1.1zM170.6 129.3h1.1v1.1h-1.1zM167.1 137.2h1.1v1.1h-1.1zM137.3 139.1h1.1v1.1h-1.1zM166.1 125.0h1.1v1.1h-1.1z" fill="#9a80e0" opacity="0.25"/><path d="M159.1 118.1h1.1v1.1h-1.1zM187.4 135.6h1.1v1.1h-1.1zM174.5 129.6h1.1v1.1h-1.1zM161.7 132.5h1.1v1.1h-1.1zM176.4 126.6h1.1v1.1h-1.1zM169.9 136.8h1.1v1.1h-1.1zM163.6 136.4h1.1v1.1h-1.1zM172.7 151.8h1.1v1.1h-1.1zM165.2 118.7h1.1v1.1h-1.1zM150.8 138.5h1.1v1.1h-1.1zM175.4 132.1h1.1v1.1h-1.1zM170.0 124.3h1.1v1.1h-1.1zM172.4 122.9h1.1v1.1h-1.1zM160.5 129.9h1.1v1.1h-1.1zM154.8 135.8h1.1v1.1h-1.1zM153.3 135.4h1.1v1.1h-1.1zM164.0 144.1h1.1v1.1h-1.1zM147.3 130.3h1.1v1.1h-1.1zM156.9 166.2h1.1v1.1h-1.1zM184.6 119.0h1.1v1.1h-1.1zM145.3 119.3h1.1v1.1h-1.1zM164.3 128.0h1.1v1.1h-1.1zM169.7 140.5h1.1v1.1h-1.1zM155.8 133.1h1.1v1.1h-1.1zM161.4 130.0h1.1v1.1h-1.1z" fill="#9a80e0" opacity="0.25"/><path d="M159.6 121.6h1.1v1.1h-1.1zM158.8 116.7h1.1v1.1h-1.1zM153.3 117.9h1.1v1.1h-1.1zM186.3 134.9h1.1v1.1h-1.1zM151.7 127.1h1.1v1.1h-1.1zM178.5 110.4h1.1v1.1h-1.1zM160.9 144.2h1.1v1.1h-1.1zM178.1 133.8h1.1v1.1h-1.1zM164.4 123.7h1.1v1.1h-1.1zM165.3 129.7h1.1v1.1h-1.1zM174.5 125.1h1.1v1.1h-1.1zM161.7 113.4h1.1v1.1h-1.1zM176.7 142.1h1.1v1.1h-1.1zM164.3 147.6h1.1v1.1h-1.1zM154.3 111.3h1.1v1.1h-1.1zM157.0 134.2h1.1v1.1h-1.1zM181.9 129.3h1.1v1.1h-1.1zM159.1 134.0h1.1v1.1h-1.1zM163.9 138.8h1.1v1.1h-1.1zM147.0 140.3h1.1v1.1h-1.1zM164.2 131.3h1.1v1.1h-1.1zM159.0 116.8h1.1v1.1h-1.1zM159.4 133.5h1.1v1.1h-1.1zM164.3 125.3h1.1v1.1h-1.1zM158.7 131.3h1.1v1.1h-1.1z" fill="#7070d8" opacity="0.25"/><path d="M162.1 132.7h1.1v1.1h-1.1zM162.1 134.0h1.1v1.1h-1.1zM151.1 144.3h1.1v1.1h-1.1zM143.6 139.9h1.1v1.1h-1.1zM161.6 131.7h1.1v1.1h-1.1zM176.7 126.3h1.1v1.1h-1.1zM165.6 130.0h1.1v1.1h-1.1zM155.9 104.9h1.1v1.1h-1.1zM159.2 109.7h1.1v1.1h-1.1zM153.1 141.7h1.1v1.1h-1.1zM163.9 140.7h1.1v1.1h-1.1zM140.5 147.6h1.1v1.1h-1.1zM155.2 126.8h1.1v1.1h-1.1zM149.7 134.8h1.1v1.1h-1.1zM157.5 138.5h1.1v1.1h-1.1zM164.5 131.3h1.1v1.1h-1.1zM169.0 144.2h1.1v1.1h-1.1zM141.4 120.4h1.1v1.1h-1.1zM164.0 120.9h1.1v1.1h-1.1zM157.6 140.0h1.1v1.1h-1.1zM159.2 125.9h1.1v1.1h-1.1zM157.5 138.8h1.1v1.1h-1.1zM194.2 127.4h1.1v1.1h-1.1zM172.6 126.4h1.1v1.1h-1.1zM164.7 132.5h1.1v1.1h-1.1z" fill="#7070d8" opacity="0.25"/><path d="M154.2 131.3h1.1v1.1h-1.1zM166.5 131.1h1.1v1.1h-1.1zM164.4 146.2h1.1v1.1h-1.1zM158.3 123.3h1.1v1.1h-1.1zM160.0 129.7h1.1v1.1h-1.1zM148.4 140.6h1.1v1.1h-1.1zM165.9 137.6h1.1v1.1h-1.1zM158.4 122.3h1.1v1.1h-1.1zM163.1 142.4h1.1v1.1h-1.1zM172.8 137.9h1.1v1.1h-1.1zM154.6 136.3h1.1v1.1h-1.1zM157.5 128.5h1.1v1.1h-1.1zM146.5 142.2h1.1v1.1h-1.1zM163.8 128.0h1.1v1.1h-1.1zM154.9 123.0h1.1v1.1h-1.1zM156.8 140.5h1.1v1.1h-1.1zM150.5 134.3h1.1v1.1h-1.1zM165.7 122.8h1.1v1.1h-1.1zM159.5 136.9h1.1v1.1h-1.1zM156.4 137.9h1.1v1.1h-1.1zM156.4 146.9h1.1v1.1h-1.1zM147.6 126.6h1.1v1.1h-1.1zM174.1 136.8h1.1v1.1h-1.1zM157.1 126.9h1.1v1.1h-1.1zM164.5 145.2h1.1v1.1h-1.1z" fill="#7070d8" opacity="0.25"/><path d="M152.3 135.2h1.1v1.1h-1.1zM162.6 125.8h1.1v1.1h-1.1zM168.1 129.3h1.1v1.1h-1.1zM149.2 124.2h1.1v1.1h-1.1zM173.0 143.2h1.1v1.1h-1.1zM161.3 139.9h1.1v1.1h-1.1zM166.7 124.5h1.1v1.1h-1.1zM180.8 130.3h1.1v1.1h-1.1zM163.6 137.6h1.1v1.1h-1.1zM167.7 134.6h1.1v1.1h-1.1z" fill="#7070d8" opacity="0.25"/></g>
<ellipse cx="146.0" cy="130.0" rx="6.5" ry="13.5" fill="url(#g11)" opacity="0.85"/>
<ellipse cx="146.0" cy="130.0" rx="4.5" ry="9.5" fill="url(#g12)" opacity="0.85"/>
<g filter="url(#soft)"><path d="M144.5 122.7h1.1v1.1h-1.1zM142.6 118.9h1.1v1.1h-1.1zM143.7 132.3h1.1v1.1h-1.1zM145.6 126.3h1.1v1.1h-1.1zM145.5 124.6h1.1v1.1h-1.1zM146.2 123.7h1.1v1.1h-1.1zM144.2 139.3h1.1v1.1h-1.1zM145.3 136.7h1.1v1.1h-1.1zM146.6 126.0h1.1v1.1h-1.1zM140.8 118.3h1.1v1.1h-1.1zM143.4 134.1h1.1v1.1h-1.1zM150.7 124.0h1.1v1.1h-1.1zM149.9 126.7h1.1v1.1h-1.1zM145.8 125.0h1.1v1.1h-1.1zM143.4 144.0h1.1v1.1h-1.1zM146.2 125.1h1.1v1.1h-1.1zM147.4 125.3h1.1v1.1h-1.1zM147.3 135.1h1.1v1.1h-1.1zM140.4 134.7h1.1v1.1h-1.1zM148.5 131.9h1.1v1.1h-1.1zM146.3 132.8h1.1v1.1h-1.1zM145.9 132.0h1.1v1.1h-1.1zM144.3 130.9h1.1v1.1h-1.1zM144.6 123.9h1.1v1.1h-1.1zM145.6 112.3h1.1v1.1h-1.1z" fill="#3060d0" opacity="0.4"/><path d="M141.8 129.9h1.1v1.1h-1.1zM146.5 125.7h1.1v1.1h-1.1zM148.4 120.9h1.1v1.1h-1.1zM141.8 125.1h1.1v1.1h-1.1zM150.6 135.1h1.1v1.1h-1.1zM148.9 124.5h1.1v1.1h-1.1zM145.7 125.9h1.1v1.1h-1.1zM148.0 133.3h1.1v1.1h-1.1zM149.3 124.1h1.1v1.1h-1.1zM142.3 121.9h1.1v1.1h-1.1zM143.5 137.9h1.1v1.1h-1.1zM141.6 125.3h1.1v1.1h-1.1zM146.2 119.0h1.1v1.1h-1.1zM147.0 125.1h1.1v1.1h-1.1zM147.1 134.8h1.1v1.1h-1.1zM143.6 129.1h1.1v1.1h-1.1zM146.4 136.8h1.1v1.1h-1.1zM142.2 131.6h1.1v1.1h-1.1zM143.9 131.7h1.1v1.1h-1.1zM141.5 127.0h1.1v1.1h-1.1zM140.0 133.6h1.1v1.1h-1.1zM140.9 135.1h1.1v1.1h-1.1zM148.0 136.7h1.1v1.1h-1.1zM141.0 133.6h1.1v1.1h-1.1zM142.0 140.8h1.1v1.1h-1.1z" fill="#3060d0" opacity="0.4"/><path d="M144.8 130.2h1.1v1.1h-1.1zM145.0 117.8h1.1v1.1h-1.1zM144.3 141.5h1.1v1.1h-1.1z" fill="#3060d0" opacity="0.4"/><path d="M143.4 130.8h1.1v1.1h-1.1zM140.4 124.3h1.1v1.1h-1.1zM149.3 133.8h1.1v1.1h-1.1zM143.3 129.1h1.1v1.1h-1.1zM146.0 137.6h1.1v1.1h-1.1zM143.3 127.2h1.1v1.1h-1.1zM142.5 133.4h1.1v1.1h-1.1zM144.6 135.5h1.1v1.1h-1.1zM148.5 135.0h1.1v1.1h-1.1zM139.7 140.1h1.1v1.1h-1.1zM147.7 135.2h1.1v1.1h-1.1zM144.0 130.5h1.1v1.1h-1.1zM146.9 129.7h1.1v1.1h-1.1zM142.4 128.4h1.1v1.1h-1.1zM145.9 140.6h1.1v1.1h-1.1zM143.7 122.0h1.1v1.1h-1.1zM145.4 133.8h1.1v1.1h-1.1zM146.3 139.5h1.1v1.1h-1.1zM149.4 132.5h1.1v1.1h-1.1zM147.5 125.0h1.1v1.1h-1.1zM148.5 132.3h1.1v1.1h-1.1zM144.8 123.5h1.1v1.1h-1.1zM152.9 136.3h1.1v1.1h-1.1zM147.9 140.2h1.1v1.1h-1.1zM145.4 130.5h1.1v1.1h-1.1z" fill="#4a88e8" opacity="0.4"/><path d="M146.1 126.9h1.1v1.1h-1.1zM141.1 122.3h1.1v1.1h-1.1zM150.8 122.8h1.1v1.1h-1.1zM145.6 131.8h1.1v1.1h-1.1zM141.8 120.9h1.1v1.1h-1.1zM150.6 123.6h1.1v1.1h-1.1zM145.6 142.7h1.1v1.1h-1.1zM141.8 136.7h1.1v1.1h-1.1zM147.0 134.4h1.1v1.1h-1.1zM143.8 135.5h1.1v1.1h-1.1zM147.2 122.9h1.1v1.1h-1.1zM146.3 123.1h1.1v1.1h-1.1zM144.1 135.4h1.1v1.1h-1.1zM145.7 115.7h1.1v1.1h-1.1zM145.5 133.9h1.1v1.1h-1.1zM145.9 122.8h1.1v1.1h-1.1zM145.0 124.7h1.1v1.1h-1.1zM148.1 134.3h1.1v1.1h-1.1zM145.9 120.2h1.1v1.1h-1.1zM145.7 131.4h1.1v1.1h-1.1zM145.3 137.6h1.1v1.1h-1.1zM144.9 118.8h1.1v1.1h-1.1zM145.1 148.0h1.1v1.1h-1.1zM149.5 125.8h1.1v1.1h-1.1zM143.6 130.7h1.1v1.1h-1.1z" fill="#4a88e8" opacity="0.4"/><path d="M146.4 131.7h1.1v1.1h-1.1z" fill="#4a88e8" opacity="0.4"/><path d="M147.5 124.4h1.1v1.1h-1.1zM149.8 120.6h1.1v1.1h-1.1zM152.2 119.8h1.1v1.1h-1.1zM149.6 136.8h1.1v1.1h-1.1zM144.7 126.3h1.1v1.1h-1.1zM145.1 125.0h1.1v1.1h-1.1zM146.2 142.4h1.1v1.1h-1.1zM149.5 141.7h1.1v1.1h-1.1zM148.4 130.8h1.1v1.1h-1.1zM148.3 139.0h1.1v1.1h-1.1zM145.1 135.6h1.1v1.1h-1.1zM149.6 134.0h1.1v1.1h-1.1zM146.0 126.7h1.1v1.1h-1.1zM146.1 124.8h1.1v1.1h-1.1zM145.4 137.4h1.1v1.1h-1.1zM149.2 130.5h1.1v1.1h-1.1zM147.3 126.4h1.1v1.1h-1.1zM144.8 130.6h1.1v1.1h-1.1zM141.4 133.0h1.1v1.1h-1.1zM147.5 130.4h1.1v1.1h-1.1zM147.7 142.6h1.1v1.1h-1.1zM145.0 137.8h1.1v1.1h-1.1zM145.8 130.8h1.1v1.1h-1.1zM148.1 138.0h1.1v1.1h-1.1zM150.5 121.1h1.1v1.1h-1.1z" fill="#2a50c0" opacity="0.4"/><path d="M146.0 141.8h1.1v1.1h-1.1zM148.4 134.5h1.1v1.1h-1.1zM147.7 126.1h1.1v1.1h-1.1zM139.1 126.0h1.1v1.1h-1.1zM145.5 129.6h1.1v1.1h-1.1zM144.7 115.0h1.1v1.1h-1.1zM146.9 126.4h1.1v1.1h-1.1zM144.7 131.6h1.1v1.1h-1.1zM143.4 129.6h1.1v1.1h-1.1zM146.2 114.7h1.1v1.1h-1.1zM145.0 131.8h1.1v1.1h-1.1zM145.7 123.2h1.1v1.1h-1.1zM149.3 125.8h1.1v1.1h-1.1zM143.1 124.8h1.1v1.1h-1.1zM151.1 132.1h1.1v1.1h-1.1zM146.5 121.0h1.1v1.1h-1.1zM141.7 131.9h1.1v1.1h-1.1zM148.5 130.4h1.1v1.1h-1.1zM144.8 128.3h1.1v1.1h-1.1zM150.6 145.7h1.1v1.1h-1.1zM149.1 131.6h1.1v1.1h-1.1zM143.7 131.5h1.1v1.1h-1.1zM145.1 135.5h1.1v1.1h-1.1zM146.1 120.8h1.1v1.1h-1.1zM149.5 126.6h1.1v1.1h-1.1z" fill="#2a50c0" opacity="0.4"/><path d="M145.8 119.8h1.1v1.1h-1.1zM146.7 132.3h1.1v1.1h-1.1zM140.5 130.0h1.1v1.1h-1.1zM144.4 132.8h1.1v1.1h-1.1zM146.5 129.0h1.1v1.1h-1.1z" fill="#2a50c0" opacity="0.4"/><path d="M151.8 131.6h1.1v1.1h-1.1zM146.2 135.7h1.1v1.1h-1.1zM145.4 142.8h1.1v1.1h-1.1zM145.0 124.8h1.1v1.1h-1.1zM148.2 118.9h1.1v1.1h-1.1zM149.1 129.1h1.1v1.1h-1.1zM141.0 135.1h1.1v1.1h-1.1zM146.0 120.7h1.1v1.1h-1.1zM147.2 132.5h1.1v1.1h-1.1zM144.5 117.7h1.1v1.1h-1.1zM146.4 133.5h1.1v1.1h-1.1zM149.0 136.6h1.1v1.1h-1.1zM147.3 124.6h1.1v1.1h-1.1zM148.2 128.8h1.1v1.1h-1.1zM145.2 134.0h1.1v1.1h-1.1zM146.3 127.8h1.1v1.1h-1.1zM145.6 127.5h1.1v1.1h-1.1zM145.9 122.8h1.1v1.1h-1.1zM140.3 140.7h1.1v1.1h-1.1zM151.6 129.1h1.1v1.1h-1.1zM147.7 129.6h1.1v1.1h-1.1zM147.9 121.5h1.1v1.1h-1.1zM144.7 134.8h1.1v1.1h-1.1zM146.8 130.2h1.1v1.1h-1.1zM143.4 128.9h1.1v1.1h-1.1z" fill="#8080e0" opacity="0.4"/><path d="M145.2 119.7h1.1v1.1h-1.1zM138.4 129.3h1.1v1.1h-1.1zM142.9 134.6h1.1v1.1h-1.1zM148.6 128.9h1.1v1.1h-1.1zM145.7 128.9h1.1v1.1h-1.1zM146.0 117.8h1.1v1.1h-1.1zM144.8 136.3h1.1v1.1h-1.1zM142.8 139.2h1.1v1.1h-1.1zM145.3 126.7h1.1v1.1h-1.1zM148.5 133.3h1.1v1.1h-1.1zM149.8 138.0h1.1v1.1h-1.1zM143.8 136.7h1.1v1.1h-1.1zM146.5 128.6h1.1v1.1h-1.1zM143.5 129.7h1.1v1.1h-1.1zM148.3 133.2h1.1v1.1h-1.1zM148.0 133.8h1.1v1.1h-1.1zM142.0 133.0h1.1v1.1h-1.1zM148.7 127.6h1.1v1.1h-1.1zM153.3 138.5h1.1v1.1h-1.1z" fill="#8080e0" opacity="0.4"/><path d="M144.9 125.4h1.1v1.1h-1.1zM145.9 143.9h1.1v1.1h-1.1zM144.5 129.2h1.1v1.1h-1.1zM147.9 128.9h1.1v1.1h-1.1zM145.2 126.2h1.1v1.1h-1.1zM149.1 131.8h1.1v1.1h-1.1zM147.1 132.2h1.1v1.1h-1.1zM141.0 130.2h1.1v1.1h-1.1zM150.8 127.9h1.1v1.1h-1.1zM149.1 128.9h1.1v1.1h-1.1zM142.2 138.7h1.1v1.1h-1.1zM148.0 121.4h1.1v1.1h-1.1zM143.8 125.6h1.1v1.1h-1.1zM149.8 135.6h1.1v1.1h-1.1zM149.9 128.7h1.1v1.1h-1.1zM147.1 127.5h1.1v1.1h-1.1zM146.2 135.6h1.1v1.1h-1.1zM143.8 117.0h1.1v1.1h-1.1zM149.4 128.7h1.1v1.1h-1.1zM142.0 135.0h1.1v1.1h-1.1zM144.2 133.0h1.1v1.1h-1.1zM142.6 122.3h1.1v1.1h-1.1zM149.5 116.4h1.1v1.1h-1.1zM143.2 135.6h1.1v1.1h-1.1zM141.5 118.5h1.1v1.1h-1.1z" fill="#9a80e0" opacity="0.4"/><path d="M147.2 121.0h1.1v1.1h-1.1zM150.8 129.6h1.1v1.1h-1.1zM145.1 129.1h1.1v1.1h-1.1zM147.7 129.7h1.1v1.1h-1.1zM144.3 131.3h1.1v1.1h-1.1zM146.6 128.3h1.1v1.1h-1.1zM153.1 132.2h1.1v1.1h-1.1zM145.1 130.9h1.1v1.1h-1.1zM145.7 136.5h1.1v1.1h-1.1zM146.5 122.5h1.1v1.1h-1.1zM146.4 122.6h1.1v1.1h-1.1zM144.0 127.1h1.1v1.1h-1.1zM147.9 123.8h1.1v1.1h-1.1zM149.8 130.9h1.1v1.1h-1.1zM151.6 127.7h1.1v1.1h-1.1zM143.7 132.2h1.1v1.1h-1.1zM143.5 126.6h1.1v1.1h-1.1zM144.6 143.6h1.1v1.1h-1.1zM148.5 126.9h1.1v1.1h-1.1zM142.8 145.2h1.1v1.1h-1.1z" fill="#9a80e0" opacity="0.4"/><path d="M144.4 136.9h1.1v1.1h-1.1zM147.4 123.0h1.1v1.1h-1.1zM141.4 118.8h1.1v1.1h-1.1zM146.8 125.7h1.1v1.1h-1.1zM142.5 131.7h1.1v1.1h-1.1zM148.3 122.3h1.1v1.1h-1.1zM141.2 124.5h1.1v1.1h-1.1zM147.6 126.9h1.1v1.1h-1.1zM147.8 123.1h1.1v1.1h-1.1zM144.0 125.8h1.1v1.1h-1.1zM142.9 131.3h1.1v1.1h-1.1zM149.7 122.8h1.1v1.1h-1.1zM143.9 132.1h1.1v1.1h-1.1zM145.2 126.1h1.1v1.1h-1.1zM147.7 122.6h1.1v1.1h-1.1zM147.2 111.1h1.1v1.1h-1.1zM144.6 133.0h1.1v1.1h-1.1zM141.6 128.4h1.1v1.1h-1.1zM148.1 126.9h1.1v1.1h-1.1zM145.7 125.3h1.1v1.1h-1.1zM142.6 131.4h1.1v1.1h-1.1zM153.1 137.0h1.1v1.1h-1.1zM146.4 133.1h1.1v1.1h-1.1zM144.8 130.4h1.1v1.1h-1.1zM142.5 139.1h1.1v1.1h-1.1z" fill="#7070d8" opacity="0.4"/><path d="M144.7 125.5h1.1v1.1h-1.1zM145.5 121.0h1.1v1.1h-1.1zM144.5 128.0h1.1v1.1h-1.1zM139.9 127.0h1.1v1.1h-1.1zM147.6 130.4h1.1v1.1h-1.1zM145.6 135.7h1.1v1.1h-1.1zM145.0 120.7h1.1v1.1h-1.1zM145.1 133.9h1.1v1.1h-1.1zM143.4 136.9h1.1v1.1h-1.1zM144.1 130.4h1.1v1.1h-1.1zM147.7 123.7h1.1v1.1h-1.1zM153.4 130.3h1.1v1.1h-1.1zM145.7 123.5h1.1v1.1h-1.1zM144.8 125.9h1.1v1.1h-1.1zM147.2 129.1h1.1v1.1h-1.1zM143.4 123.7h1.1v1.1h-1.1zM145.3 144.5h1.1v1.1h-1.1zM146.5 125.7h1.1v1.1h-1.1zM149.7 113.1h1.1v1.1h-1.1zM148.6 131.8h1.1v1.1h-1.1zM144.5 127.0h1.1v1.1h-1.1zM146.7 130.5h1.1v1.1h-1.1zM147.5 129.0h1.1v1.1h-1.1zM151.0 130.0h1.1v1.1h-1.1zM146.8 130.6h1.1v1.1h-1.1z" fill="#7070d8" opacity="0.4"/><path d="M148.5 129.9h1.1v1.1h-1.1zM146.0 127.1h1.1v1.1h-1.1z" fill="#7070d8" opacity="0.4"/></g>
<g filter="url(#soft2)"><ellipse cx="145.80" cy="130.50" rx="2.60" ry="4.80" fill="#3080b0" opacity="0.8"/><ellipse cx="145.80" cy="130.50" rx="1.82" ry="3.36" fill="#60b030" opacity="0.9"/><ellipse cx="145.80" cy="130.50" rx="1.04" ry="1.92" fill="#90d020" opacity="0.9"/></g>
<ellipse cx="177.5" cy="114.0" rx="6.5" ry="5.5" fill="url(#g13)" opacity="0.8"/>
<ellipse cx="178.0" cy="113.5" rx="3.5" ry="3.2" fill="url(#g14)" opacity="0.7"/>
<g filter="url(#soft)"><path d="M171.1 114.3h1.1v1.1h-1.1zM178.1 114.6h1.1v1.1h-1.1zM172.4 109.1h1.1v1.1h-1.1zM175.9 115.9h1.1v1.1h-1.1zM178.5 110.7h1.1v1.1h-1.1zM174.4 116.0h1.1v1.1h-1.1zM176.0 113.0h1.1v1.1h-1.1zM174.4 115.2h1.1v1.1h-1.1zM175.9 113.8h1.1v1.1h-1.1zM179.5 115.3h1.1v1.1h-1.1zM178.0 112.8h1.1v1.1h-1.1zM180.1 115.1h1.1v1.1h-1.1zM176.6 111.6h1.1v1.1h-1.1zM176.5 114.9h1.1v1.1h-1.1zM172.2 113.3h1.1v1.1h-1.1zM180.0 109.5h1.1v1.1h-1.1zM176.5 115.4h1.1v1.1h-1.1zM177.0 113.4h1.1v1.1h-1.1zM181.8 111.1h1.1v1.1h-1.1zM176.1 115.3h1.1v1.1h-1.1zM180.6 117.2h1.1v1.1h-1.1zM183.4 115.8h1.1v1.1h-1.1zM175.9 115.9h1.1v1.1h-1.1zM173.9 117.6h1.1v1.1h-1.1zM178.5 114.0h1.1v1.1h-1.1z" fill="#6070d8" opacity="0.4"/><path d="M176.0 113.9h1.1v1.1h-1.1zM177.8 114.9h1.1v1.1h-1.1zM174.2 112.1h1.1v1.1h-1.1zM174.2 112.1h1.1v1.1h-1.1zM177.1 118.5h1.1v1.1h-1.1zM175.9 111.7h1.1v1.1h-1.1zM175.3 113.7h1.1v1.1h-1.1zM177.4 113.5h1.1v1.1h-1.1zM178.0 110.9h1.1v1.1h-1.1zM179.0 112.5h1.1v1.1h-1.1zM176.3 112.7h1.1v1.1h-1.1zM177.0 112.8h1.1v1.1h-1.1zM179.1 114.5h1.1v1.1h-1.1z" fill="#6070d8" opacity="0.4"/><path d="M178.7 110.3h1.1v1.1h-1.1zM174.1 115.9h1.1v1.1h-1.1zM174.4 113.5h1.1v1.1h-1.1zM171.5 112.5h1.1v1.1h-1.1zM178.4 112.6h1.1v1.1h-1.1zM175.3 113.9h1.1v1.1h-1.1zM176.5 111.9h1.1v1.1h-1.1zM183.1 116.2h1.1v1.1h-1.1zM174.1 112.3h1.1v1.1h-1.1zM174.1 112.7h1.1v1.1h-1.1zM172.3 108.2h1.1v1.1h-1.1zM175.3 114.7h1.1v1.1h-1.1zM179.8 110.6h1.1v1.1h-1.1zM174.8 117.7h1.1v1.1h-1.1zM183.2 111.6h1.1v1.1h-1.1zM177.4 116.2h1.1v1.1h-1.1zM177.0 107.5h1.1v1.1h-1.1zM177.2 111.6h1.1v1.1h-1.1zM176.3 114.3h1.1v1.1h-1.1zM172.1 115.1h1.1v1.1h-1.1zM176.9 111.7h1.1v1.1h-1.1zM177.3 116.3h1.1v1.1h-1.1zM178.8 113.6h1.1v1.1h-1.1zM175.3 111.5h1.1v1.1h-1.1zM177.1 115.5h1.1v1.1h-1.1z" fill="#8090e8" opacity="0.4"/><path d="M178.7 115.4h1.1v1.1h-1.1zM177.0 113.1h1.1v1.1h-1.1zM176.6 114.6h1.1v1.1h-1.1zM180.2 115.7h1.1v1.1h-1.1zM176.8 115.5h1.1v1.1h-1.1zM173.8 113.7h1.1v1.1h-1.1zM178.7 113.9h1.1v1.1h-1.1zM174.5 115.6h1.1v1.1h-1.1zM175.7 114.7h1.1v1.1h-1.1zM174.2 118.5h1.1v1.1h-1.1zM174.5 110.7h1.1v1.1h-1.1zM176.0 113.3h1.1v1.1h-1.1zM175.7 112.8h1.1v1.1h-1.1z" fill="#8090e8" opacity="0.4"/><path d="M179.4 108.0h1.1v1.1h-1.1zM176.6 107.2h1.1v1.1h-1.1zM175.8 114.0h1.1v1.1h-1.1zM174.5 111.8h1.1v1.1h-1.1zM176.3 117.3h1.1v1.1h-1.1zM174.0 114.6h1.1v1.1h-1.1zM176.5 114.1h1.1v1.1h-1.1zM177.2 113.6h1.1v1.1h-1.1zM179.5 114.0h1.1v1.1h-1.1zM178.6 115.1h1.1v1.1h-1.1zM169.4 115.0h1.1v1.1h-1.1zM176.0 115.4h1.1v1.1h-1.1zM176.2 112.9h1.1v1.1h-1.1zM177.6 114.9h1.1v1.1h-1.1zM173.9 113.3h1.1v1.1h-1.1zM174.3 113.4h1.1v1.1h-1.1zM181.0 112.4h1.1v1.1h-1.1zM176.5 116.1h1.1v1.1h-1.1zM177.0 116.7h1.1v1.1h-1.1zM176.8 111.5h1.1v1.1h-1.1zM178.5 115.4h1.1v1.1h-1.1zM174.4 112.6h1.1v1.1h-1.1zM175.3 112.7h1.1v1.1h-1.1zM175.2 115.2h1.1v1.1h-1.1zM176.4 111.9h1.1v1.1h-1.1z" fill="#5060c0" opacity="0.4"/><path d="M180.8 111.1h1.1v1.1h-1.1zM177.9 117.0h1.1v1.1h-1.1zM177.5 114.0h1.1v1.1h-1.1zM180.2 113.7h1.1v1.1h-1.1zM177.9 111.0h1.1v1.1h-1.1zM179.9 111.6h1.1v1.1h-1.1zM176.7 116.9h1.1v1.1h-1.1zM177.2 112.3h1.1v1.1h-1.1zM175.5 119.1h1.1v1.1h-1.1z" fill="#5060c0" opacity="0.4"/></g>
<ellipse cx="179" cy="114.5" rx="1.2" ry="1.5" fill="#e8ecff" opacity="0.7"/>
<rect x="168.60" y="104.50" width="27.90" height="17.90" fill="none" stroke="#9a5a7a" stroke-width="1.3" />
<rect x="131.90" y="104.50" width="64.60" height="60.50" fill="none" stroke="#7a7a7a" stroke-width="1.0" />
<text x="194.60" y="121.20" font-size="7.8" fill="#a05a88" font-weight="bold" text-anchor="end" >PB</text>
<text x="44.80" y="37.90" font-size="4.4" fill="#555" font-weight="normal" text-anchor="end" >10<tspan font-size="3.3" dy="-1.6">6</tspan></text>
<text x="44.80" y="47.50" font-size="4.4" fill="#555" font-weight="normal" text-anchor="end" >10<tspan font-size="3.3" dy="-1.6">5</tspan></text>
<text x="44.80" y="61.10" font-size="4.4" fill="#555" font-weight="normal" text-anchor="end" >10<tspan font-size="3.3" dy="-1.6">4</tspan></text>
<text x="44.80" y="77.10" font-size="4.4" fill="#555" font-weight="normal" text-anchor="end" >10<tspan font-size="3.3" dy="-1.6">3</tspan></text>
<text x="44.80" y="88.30" font-size="4.4" fill="#555" font-weight="normal" text-anchor="end" >0</text>
<text x="128.60" y="37.90" font-size="4.4" fill="#555" font-weight="normal" text-anchor="end" >10<tspan font-size="3.3" dy="-1.6">6</tspan></text>
<text x="128.60" y="47.50" font-size="4.4" fill="#555" font-weight="normal" text-anchor="end" >10<tspan font-size="3.3" dy="-1.6">5</tspan></text>
<text x="128.60" y="61.10" font-size="4.4" fill="#555" font-weight="normal" text-anchor="end" >10<tspan font-size="3.3" dy="-1.6">4</tspan></text>
<text x="128.60" y="77.10" font-size="4.4" fill="#555" font-weight="normal" text-anchor="end" >10<tspan font-size="3.3" dy="-1.6">3</tspan></text>
<text x="128.60" y="88.30" font-size="4.4" fill="#555" font-weight="normal" text-anchor="end" >0</text>
<text x="44.80" y="109.50" font-size="4.4" fill="#555" font-weight="normal" text-anchor="end" >10<tspan font-size="3.3" dy="-1.6">6</tspan></text>
<text x="44.80" y="119.50" font-size="4.4" fill="#555" font-weight="normal" text-anchor="end" >10<tspan font-size="3.3" dy="-1.6">5</tspan></text>
<text x="44.80" y="135.10" font-size="4.4" fill="#555" font-weight="normal" text-anchor="end" >10<tspan font-size="3.3" dy="-1.6">4</tspan></text>
<text x="44.80" y="150.50" font-size="4.4" fill="#555" font-weight="normal" text-anchor="end" >10<tspan font-size="3.3" dy="-1.6">3</tspan></text>
<text x="44.80" y="159.50" font-size="4.4" fill="#555" font-weight="normal" text-anchor="end" >0</text>
<text x="128.60" y="109.50" font-size="4.4" fill="#555" font-weight="normal" text-anchor="end" >10<tspan font-size="3.3" dy="-1.6">6</tspan></text>
<text x="128.60" y="119.50" font-size="4.4" fill="#555" font-weight="normal" text-anchor="end" >10<tspan font-size="3.3" dy="-1.6">5</tspan></text>
<text x="128.60" y="135.10" font-size="4.4" fill="#555" font-weight="normal" text-anchor="end" >10<tspan font-size="3.3" dy="-1.6">4</tspan></text>
<text x="128.60" y="150.50" font-size="4.4" fill="#555" font-weight="normal" text-anchor="end" >10<tspan font-size="3.3" dy="-1.6">3</tspan></text>
<text x="128.60" y="159.50" font-size="4.4" fill="#555" font-weight="normal" text-anchor="end" >0</text>
<text x="52.00" y="101.30" font-size="4.4" fill="#555" font-weight="normal" text-anchor="middle" >0</text>
<text x="69.00" y="101.30" font-size="4.4" fill="#555" font-weight="normal" text-anchor="middle" >10<tspan font-size="3.3" dy="-1.6">3</tspan></text>
<text x="85.70" y="101.30" font-size="4.4" fill="#555" font-weight="normal" text-anchor="middle" >10<tspan font-size="3.3" dy="-1.6">4</tspan></text>
<text x="101.80" y="101.30" font-size="4.4" fill="#555" font-weight="normal" text-anchor="middle" >10<tspan font-size="3.3" dy="-1.6">5</tspan></text>
<text x="116.50" y="101.30" font-size="4.4" fill="#555" font-weight="normal" text-anchor="middle" >10<tspan font-size="3.3" dy="-1.6">6</tspan></text>
<text x="136.20" y="101.30" font-size="4.4" fill="#555" font-weight="normal" text-anchor="middle" >0</text>
<text x="153.00" y="101.30" font-size="4.4" fill="#555" font-weight="normal" text-anchor="middle" >10<tspan font-size="3.3" dy="-1.6">3</tspan></text>
<text x="168.80" y="101.30" font-size="4.4" fill="#555" font-weight="normal" text-anchor="middle" >10<tspan font-size="3.3" dy="-1.6">4</tspan></text>
<text x="183.00" y="101.30" font-size="4.4" fill="#555" font-weight="normal" text-anchor="middle" >10<tspan font-size="3.3" dy="-1.6">5</tspan></text>
<text x="197.00" y="101.30" font-size="4.4" fill="#555" font-weight="normal" text-anchor="middle" >10<tspan font-size="3.3" dy="-1.6">6</tspan></text>
<text x="56.00" y="174.80" font-size="4.4" fill="#555" font-weight="normal" text-anchor="middle" >0</text>
<text x="67.50" y="174.80" font-size="4.4" fill="#555" font-weight="normal" text-anchor="middle" >10<tspan font-size="3.3" dy="-1.6">3</tspan></text>
<text x="85.00" y="174.80" font-size="4.4" fill="#555" font-weight="normal" text-anchor="middle" >10<tspan font-size="3.3" dy="-1.6">4</tspan></text>
<text x="101.00" y="174.80" font-size="4.4" fill="#555" font-weight="normal" text-anchor="middle" >10<tspan font-size="3.3" dy="-1.6">5</tspan></text>
<text x="115.00" y="174.80" font-size="4.4" fill="#555" font-weight="normal" text-anchor="middle" >10<tspan font-size="3.3" dy="-1.6">6</tspan></text>
<text x="139.50" y="174.80" font-size="4.4" fill="#555" font-weight="normal" text-anchor="middle" >0</text>
<text x="151.00" y="174.80" font-size="4.4" fill="#555" font-weight="normal" text-anchor="middle" >10<tspan font-size="3.3" dy="-1.6">3</tspan></text>
<text x="168.00" y="174.80" font-size="4.4" fill="#555" font-weight="normal" text-anchor="middle" >10<tspan font-size="3.3" dy="-1.6">4</tspan></text>
<text x="184.00" y="174.80" font-size="4.4" fill="#555" font-weight="normal" text-anchor="middle" >10<tspan font-size="3.3" dy="-1.6">5</tspan></text>
<text x="197.00" y="174.80" font-size="4.4" fill="#555" font-weight="normal" text-anchor="middle" >10<tspan font-size="3.3" dy="-1.6">6</tspan></text>
<line x1="31.30" y1="57.00" x2="31.30" y2="91.00" stroke="#555" stroke-width="1" />
<path d="M28.8,58 L31.3,53 L33.8,58 Z" fill="#111" stroke="none" stroke-width="1" />
<text x="33.40" y="43.20" font-size="9.8" fill="#000" font-weight="normal" text-anchor="middle" transform="rotate(-90 33.4 43.2)" stroke="#000" stroke-width="0.25">IgD</text>
<line x1="32.00" y1="131.00" x2="32.00" y2="180.80" stroke="#555" stroke-width="1" />
<line x1="32.00" y1="180.80" x2="171.00" y2="180.80" stroke="#555" stroke-width="1" />
<path d="M29.5,132 L32,127.5 L34.5,132 Z" fill="#111" stroke="none" stroke-width="1" />
<path d="M170,178.3 L175,180.8 L170,183.3 Z" fill="#111" stroke="none" stroke-width="1" />
<text x="34.00" y="112.30" font-size="9.8" fill="#000" font-weight="normal" text-anchor="middle" transform="rotate(-90 34.0 112.3)" stroke="#000" stroke-width="0.25">CD38</text>
<text x="175.90" y="183.90" font-size="10" fill="#000" font-weight="normal" text-anchor="start" stroke="#000" stroke-width="0.25" transform="translate(8.8 0) scale(0.95 1)">CD27</text>
<text x="224.40" y="13.80" font-size="12" fill="#000" font-weight="bold" text-anchor="start" stroke="#000" stroke-width="0.3">B</text>
<circle cx="432.70" cy="11.30" r="2.60" fill="#fff" stroke="#666" stroke-width="1.1" />
<circle cx="433.00" cy="25.90" r="3.00" fill="#111" stroke="none" stroke-width="1" />
<text x="442.20" y="13.90" font-size="8.4" fill="#2a2a2a" font-weight="normal" text-anchor="start" >HC, n=32 or 23 (PB)</text>
<text x="442.20" y="28.30" font-size="8.4" fill="#2a2a2a" font-weight="normal" text-anchor="start" >SLE, n=48 or 36 (PB)</text>
<line x1="249.50" y1="41.80" x2="249.50" y2="168.60" stroke="#222" stroke-width="1.5" />
<line x1="248.80" y1="167.90" x2="534.00" y2="167.90" stroke="#222" stroke-width="1.6" />
<line x1="246.30" y1="167.90" x2="249.50" y2="167.90" stroke="#222" stroke-width="1.3" />
<text x="244.70" y="170.60" font-size="7.5" fill="#333" font-weight="normal" text-anchor="end" >0</text>
<line x1="246.30" y1="142.73" x2="249.50" y2="142.73" stroke="#222" stroke-width="1.3" />
<text x="244.70" y="145.43" font-size="7.5" fill="#333" font-weight="normal" text-anchor="end" >20</text>
<line x1="246.30" y1="117.56" x2="249.50" y2="117.56" stroke="#222" stroke-width="1.3" />
<text x="244.70" y="120.26" font-size="7.5" fill="#333" font-weight="normal" text-anchor="end" >40</text>
<line x1="246.30" y1="92.39" x2="249.50" y2="92.39" stroke="#222" stroke-width="1.3" />
<text x="244.70" y="95.09" font-size="7.5" fill="#333" font-weight="normal" text-anchor="end" >60</text>
<line x1="246.30" y1="67.22" x2="249.50" y2="67.22" stroke="#222" stroke-width="1.3" />
<text x="244.70" y="69.92" font-size="7.5" fill="#333" font-weight="normal" text-anchor="end" >80</text>
<line x1="246.30" y1="42.05" x2="249.50" y2="42.05" stroke="#222" stroke-width="1.3" />
<text x="244.70" y="44.75" font-size="7.5" fill="#333" font-weight="normal" text-anchor="end" >100</text>
<text x="225.40" y="105.20" font-size="8.55" fill="#222" font-weight="normal" text-anchor="middle" transform="rotate(-90 225.4 105.2)" >B cell subsets (%)</text>
<rect x="383.00" y="181.00" width="15.00" height="10.00" fill="#fde8f4" stroke="none" stroke-width="1" />
<rect x="499.00" y="181.00" width="14.00" height="10.00" fill="#fce6f4" stroke="none" stroke-width="1" />
<text x="275.00" y="188.60" font-size="8.5" fill="#3a3ac8" font-weight="normal" text-anchor="middle" >Naive</text>
<text x="331.70" y="188.60" font-size="8.5" fill="#a0dc60" font-weight="normal" text-anchor="middle" >NSM</text>
<text x="390.20" y="188.60" font-size="8.5" fill="#b05040" font-weight="normal" text-anchor="middle" >SM</text>
<text x="447.70" y="188.60" font-size="8.5" fill="#1a1a1a" font-weight="normal" text-anchor="middle" >DN</text>
<text x="505.60" y="188.60" font-size="8.5" fill="#c070b0" font-weight="normal" text-anchor="middle" >PB</text>
<path d="M319.7,78.8 L319.7,69.3 L348.6,69.3 L348.6,78.8" fill="none" stroke="#555" stroke-width="1.1" />
<circle cx="325.95" cy="62.20" r="1.75" fill="#111" stroke="none" stroke-width="1" />
<circle cx="331.45" cy="62.20" r="1.75" fill="#111" stroke="none" stroke-width="1" />
<circle cx="336.95" cy="62.20" r="1.75" fill="#111" stroke="none" stroke-width="1" />
<circle cx="342.45" cy="62.20" r="1.75" fill="#111" stroke="none" stroke-width="1" />
<path d="M378.6,78.8 L378.6,69.3 L407.3,69.3 L407.3,78.8" fill="none" stroke="#555" stroke-width="1.1" />
<circle cx="392.70" cy="61.80" r="1.75" fill="#111" stroke="none" stroke-width="1" />
<path d="M434.6,78.8 L434.6,69.3 L463.5,69.3 L463.5,78.8" fill="none" stroke="#555" stroke-width="1.1" />
<circle cx="440.75" cy="62.00" r="1.75" fill="#111" stroke="none" stroke-width="1" />
<circle cx="446.25" cy="62.00" r="1.75" fill="#111" stroke="none" stroke-width="1" />
<circle cx="451.75" cy="62.00" r="1.75" fill="#111" stroke="none" stroke-width="1" />
<circle cx="457.25" cy="62.00" r="1.75" fill="#111" stroke="none" stroke-width="1" />
<path d="M484.5,78.8 L484.5,69.3 L513.5,69.3 L513.5,78.8" fill="none" stroke="#555" stroke-width="1.1" />
<text x="498.60" y="64.30" font-size="7.7" fill="#333" font-weight="normal" text-anchor="middle" >0.054</text>
<circle cx="261.75" cy="71.18" r="1.70" fill="#fff" stroke="#1a1ad8" stroke-width="1.2" />
<circle cx="266.25" cy="72.08" r="1.70" fill="#fff" stroke="#1a1ad8" stroke-width="1.2" />
<circle cx="264.00" cy="70.58" r="1.70" fill="#fff" stroke="#1a1ad8" stroke-width="1.2" />
<circle cx="261.75" cy="84.21" r="1.70" fill="#fff" stroke="#1a1ad8" stroke-width="1.2" />
<circle cx="266.25" cy="85.65" r="1.70" fill="#fff" stroke="#1a1ad8" stroke-width="1.2" />
<circle cx="261.75" cy="81.58" r="1.70" fill="#fff" stroke="#1a1ad8" stroke-width="1.2" />
<circle cx="266.25" cy="82.99" r="1.70" fill="#fff" stroke="#1a1ad8" stroke-width="1.2" />
<circle cx="254.00" cy="92.11" r="1.70" fill="#fff" stroke="#1a1ad8" stroke-width="1.2" />
<circle cx="258.00" cy="93.23" r="1.70" fill="#fff" stroke="#1a1ad8" stroke-width="1.2" />
<circle cx="262.00" cy="93.96" r="1.70" fill="#fff" stroke="#1a1ad8" stroke-width="1.2" />
<circle cx="266.00" cy="94.40" r="1.70" fill="#fff" stroke="#1a1ad8" stroke-width="1.2" />
<circle cx="270.00" cy="95.10" r="1.70" fill="#fff" stroke="#1a1ad8" stroke-width="1.2" />
<circle cx="274.00" cy="96.30" r="1.70" fill="#fff" stroke="#1a1ad8" stroke-width="1.2" />
<circle cx="264.00" cy="91.54" r="1.70" fill="#fff" stroke="#1a1ad8" stroke-width="1.2" />
<circle cx="254.98" cy="96.89" r="1.70" fill="#fff" stroke="#1a1ad8" stroke-width="1.2" />
<circle cx="259.49" cy="97.87" r="1.70" fill="#fff" stroke="#1a1ad8" stroke-width="1.2" />
<circle cx="264.00" cy="98.93" r="1.70" fill="#fff" stroke="#1a1ad8" stroke-width="1.2" />
<circle cx="268.51" cy="99.39" r="1.70" fill="#fff" stroke="#1a1ad8" stroke-width="1.2" />
<circle cx="273.02" cy="100.18" r="1.70" fill="#fff" stroke="#1a1ad8" stroke-width="1.2" />
<circle cx="254.98" cy="101.43" r="1.70" fill="#fff" stroke="#1a1ad8" stroke-width="1.2" />
<circle cx="259.49" cy="102.46" r="1.70" fill="#fff" stroke="#1a1ad8" stroke-width="1.2" />
<circle cx="264.00" cy="102.74" r="1.70" fill="#fff" stroke="#1a1ad8" stroke-width="1.2" />
<circle cx="268.51" cy="103.75" r="1.70" fill="#fff" stroke="#1a1ad8" stroke-width="1.2" />
<circle cx="273.02" cy="104.23" r="1.70" fill="#fff" stroke="#1a1ad8" stroke-width="1.2" />
<circle cx="261.75" cy="109.29" r="1.70" fill="#fff" stroke="#1a1ad8" stroke-width="1.2" />
<circle cx="266.25" cy="112.11" r="1.70" fill="#fff" stroke="#1a1ad8" stroke-width="1.2" />
<circle cx="259.49" cy="105.89" r="1.70" fill="#fff" stroke="#1a1ad8" stroke-width="1.2" />
<circle cx="264.00" cy="107.78" r="1.70" fill="#fff" stroke="#1a1ad8" stroke-width="1.2" />
<circle cx="268.51" cy="108.75" r="1.70" fill="#fff" stroke="#1a1ad8" stroke-width="1.2" />
<circle cx="264.00" cy="113.51" r="1.70" fill="#fff" stroke="#1a1ad8" stroke-width="1.2" />
<circle cx="264.00" cy="120.75" r="1.70" fill="#fff" stroke="#1a1ad8" stroke-width="1.2" />
<circle cx="264.00" cy="125.74" r="1.70" fill="#fff" stroke="#1a1ad8" stroke-width="1.2" />
<line x1="254.00" y1="96.17" x2="274.00" y2="96.17" stroke="#111" stroke-width="1.5" />
<circle cx="292.50" cy="55.47" r="2.40" fill="#1a1ad8" stroke="none" stroke-width="0" />
<circle cx="290.20" cy="65.13" r="2.40" fill="#1a1ad8" stroke="none" stroke-width="0" />
<circle cx="294.80" cy="66.69" r="2.40" fill="#1a1ad8" stroke="none" stroke-width="0" />
<circle cx="290.20" cy="61.91" r="2.40" fill="#1a1ad8" stroke="none" stroke-width="0" />
<circle cx="294.80" cy="63.33" r="2.40" fill="#1a1ad8" stroke="none" stroke-width="0" />
<circle cx="287.90" cy="77.48" r="2.40" fill="#1a1ad8" stroke="none" stroke-width="0" />
<circle cx="292.50" cy="78.65" r="2.40" fill="#1a1ad8" stroke="none" stroke-width="0" />
<circle cx="297.10" cy="80.76" r="2.40" fill="#1a1ad8" stroke="none" stroke-width="0" />
<circle cx="287.90" cy="72.86" r="2.40" fill="#1a1ad8" stroke="none" stroke-width="0" />
<circle cx="292.50" cy="74.96" r="2.40" fill="#1a1ad8" stroke="none" stroke-width="0" />
<circle cx="297.10" cy="75.99" r="2.40" fill="#1a1ad8" stroke="none" stroke-width="0" />
<circle cx="290.20" cy="70.77" r="2.40" fill="#1a1ad8" stroke="none" stroke-width="0" />
<circle cx="294.80" cy="71.55" r="2.40" fill="#1a1ad8" stroke="none" stroke-width="0" />
<circle cx="287.90" cy="94.72" r="2.40" fill="#1a1ad8" stroke="none" stroke-width="0" />
<circle cx="292.50" cy="96.22" r="2.40" fill="#1a1ad8" stroke="none" stroke-width="0" />
<circle cx="297.10" cy="98.08" r="2.40" fill="#1a1ad8" stroke="none" stroke-width="0" />
<circle cx="285.60" cy="90.08" r="2.40" fill="#1a1ad8" stroke="none" stroke-width="0" />
<circle cx="290.20" cy="91.96" r="2.40" fill="#1a1ad8" stroke="none" stroke-width="0" />
<circle cx="294.80" cy="92.39" r="2.40" fill="#1a1ad8" stroke="none" stroke-width="0" />
<circle cx="299.40" cy="93.00" r="2.40" fill="#1a1ad8" stroke="none" stroke-width="0" />
<circle cx="287.90" cy="85.77" r="2.40" fill="#1a1ad8" stroke="none" stroke-width="0" />
<circle cx="292.50" cy="87.53" r="2.40" fill="#1a1ad8" stroke="none" stroke-width="0" />
<circle cx="297.10" cy="88.71" r="2.40" fill="#1a1ad8" stroke="none" stroke-width="0" />
<circle cx="292.50" cy="83.99" r="2.40" fill="#1a1ad8" stroke="none" stroke-width="0" />
<circle cx="292.50" cy="116.31" r="2.40" fill="#1a1ad8" stroke="none" stroke-width="0" />
<circle cx="287.90" cy="111.89" r="2.40" fill="#1a1ad8" stroke="none" stroke-width="0" />
<circle cx="292.50" cy="113.06" r="2.40" fill="#1a1ad8" stroke="none" stroke-width="0" />
<circle cx="297.10" cy="114.91" r="2.40" fill="#1a1ad8" stroke="none" stroke-width="0" />
<circle cx="287.90" cy="107.56" r="2.40" fill="#1a1ad8" stroke="none" stroke-width="0" />
<circle cx="292.50" cy="109.90" r="2.40" fill="#1a1ad8" stroke="none" stroke-width="0" />
<circle cx="297.10" cy="111.27" r="2.40" fill="#1a1ad8" stroke="none" stroke-width="0" />
<circle cx="290.20" cy="104.69" r="2.40" fill="#1a1ad8" stroke="none" stroke-width="0" />
<circle cx="294.80" cy="106.20" r="2.40" fill="#1a1ad8" stroke="none" stroke-width="0" />
<circle cx="290.20" cy="100.61" r="2.40" fill="#1a1ad8" stroke="none" stroke-width="0" />
<circle cx="294.80" cy="102.53" r="2.40" fill="#1a1ad8" stroke="none" stroke-width="0" />
<circle cx="285.60" cy="129.51" r="2.40" fill="#1a1ad8" stroke="none" stroke-width="0" />
<circle cx="290.20" cy="130.82" r="2.40" fill="#1a1ad8" stroke="none" stroke-width="0" />
<circle cx="294.80" cy="132.13" r="2.40" fill="#1a1ad8" stroke="none" stroke-width="0" />
<circle cx="299.40" cy="133.16" r="2.40" fill="#1a1ad8" stroke="none" stroke-width="0" />
<circle cx="287.90" cy="125.82" r="2.40" fill="#1a1ad8" stroke="none" stroke-width="0" />
<circle cx="292.50" cy="126.98" r="2.40" fill="#1a1ad8" stroke="none" stroke-width="0" />
<circle cx="297.10" cy="128.05" r="2.40" fill="#1a1ad8" stroke="none" stroke-width="0" />
<circle cx="290.20" cy="123.58" r="2.40" fill="#1a1ad8" stroke="none" stroke-width="0" />
<circle cx="294.80" cy="124.49" r="2.40" fill="#1a1ad8" stroke="none" stroke-width="0" />
<circle cx="290.20" cy="135.65" r="2.40" fill="#1a1ad8" stroke="none" stroke-width="0" />
<circle cx="294.80" cy="137.41" r="2.40" fill="#1a1ad8" stroke="none" stroke-width="0" />
<circle cx="292.50" cy="146.77" r="2.40" fill="#1a1ad8" stroke="none" stroke-width="0" />
<circle cx="292.50" cy="155.87" r="2.40" fill="#1a1ad8" stroke="none" stroke-width="0" />
<line x1="282.50" y1="102.46" x2="302.50" y2="102.46" stroke="#111" stroke-width="1.5" />
<rect x="312.30" y="128.00" width="19.00" height="41.00" fill="#eefcfc" stroke="none" stroke-width="1" />
<rect x="341.00" y="128.00" width="12.00" height="40.00" fill="#f2fcfc" stroke="none" stroke-width="1" />
<circle cx="312.00" cy="135.00" r="1.70" fill="#c8f080" stroke="#a0e020" stroke-width="1.2" />
<circle cx="316.50" cy="136.77" r="1.70" fill="#c8f080" stroke="#a0e020" stroke-width="1.2" />
<circle cx="321.00" cy="137.35" r="1.70" fill="#c8f080" stroke="#a0e020" stroke-width="1.2" />
<circle cx="325.50" cy="137.84" r="1.70" fill="#c8f080" stroke="#a0e020" stroke-width="1.2" />
<circle cx="330.00" cy="138.63" r="1.70" fill="#c8f080" stroke="#a0e020" stroke-width="1.2" />
<circle cx="312.00" cy="132.86" r="1.70" fill="#c8f080" stroke="#a0e020" stroke-width="1.2" />
<circle cx="316.50" cy="133.22" r="1.70" fill="#c8f080" stroke="#a0e020" stroke-width="1.2" />
<circle cx="321.00" cy="133.59" r="1.70" fill="#c8f080" stroke="#a0e020" stroke-width="1.2" />
<circle cx="325.50" cy="134.13" r="1.70" fill="#c8f080" stroke="#a0e020" stroke-width="1.2" />
<circle cx="330.00" cy="134.63" r="1.70" fill="#c8f080" stroke="#a0e020" stroke-width="1.2" />
<circle cx="312.00" cy="139.37" r="1.70" fill="#c8f080" stroke="#a0e020" stroke-width="1.2" />
<circle cx="316.50" cy="139.76" r="1.70" fill="#c8f080" stroke="#a0e020" stroke-width="1.2" />
<circle cx="321.00" cy="141.62" r="1.70" fill="#c8f080" stroke="#a0e020" stroke-width="1.2" />
<circle cx="325.50" cy="142.18" r="1.70" fill="#c8f080" stroke="#a0e020" stroke-width="1.2" />
<circle cx="330.00" cy="142.73" r="1.70" fill="#c8f080" stroke="#a0e020" stroke-width="1.2" />
<circle cx="312.00" cy="143.52" r="1.70" fill="#c8f080" stroke="#a0e020" stroke-width="1.2" />
<circle cx="315.60" cy="143.75" r="1.70" fill="#c8f080" stroke="#a0e020" stroke-width="1.2" />
<circle cx="319.20" cy="144.42" r="1.70" fill="#c8f080" stroke="#a0e020" stroke-width="1.2" />
<circle cx="322.80" cy="145.05" r="1.70" fill="#c8f080" stroke="#a0e020" stroke-width="1.2" />
<circle cx="326.40" cy="146.99" r="1.70" fill="#c8f080" stroke="#a0e020" stroke-width="1.2" />
<circle cx="330.00" cy="147.48" r="1.70" fill="#c8f080" stroke="#a0e020" stroke-width="1.2" />
<circle cx="312.00" cy="148.06" r="1.70" fill="#c8f080" stroke="#a0e020" stroke-width="1.2" />
<circle cx="316.50" cy="148.70" r="1.70" fill="#c8f080" stroke="#a0e020" stroke-width="1.2" />
<circle cx="321.00" cy="149.22" r="1.70" fill="#c8f080" stroke="#a0e020" stroke-width="1.2" />
<circle cx="325.50" cy="149.88" r="1.70" fill="#c8f080" stroke="#a0e020" stroke-width="1.2" />
<circle cx="330.00" cy="151.92" r="1.70" fill="#c8f080" stroke="#a0e020" stroke-width="1.2" />
<circle cx="314.24" cy="152.67" r="1.70" fill="#c8f080" stroke="#a0e020" stroke-width="1.2" />
<circle cx="318.75" cy="153.56" r="1.70" fill="#c8f080" stroke="#a0e020" stroke-width="1.2" />
<circle cx="323.25" cy="154.15" r="1.70" fill="#c8f080" stroke="#a0e020" stroke-width="1.2" />
<circle cx="327.76" cy="154.77" r="1.70" fill="#c8f080" stroke="#a0e020" stroke-width="1.2" />
<circle cx="318.75" cy="157.69" r="1.70" fill="#c8f080" stroke="#a0e020" stroke-width="1.2" />
<circle cx="323.25" cy="159.57" r="1.70" fill="#c8f080" stroke="#a0e020" stroke-width="1.2" />
<line x1="311.00" y1="144.49" x2="331.00" y2="144.49" stroke="#111" stroke-width="1.5" />
<circle cx="349.20" cy="104.32" r="2.40" fill="#9cec18" stroke="none" stroke-width="0" />
<circle cx="349.20" cy="135.72" r="2.40" fill="#9cec18" stroke="none" stroke-width="0" />
<circle cx="347.75" cy="139.95" r="2.40" fill="#9cec18" stroke="none" stroke-width="0" />
<circle cx="350.65" cy="141.66" r="2.40" fill="#9cec18" stroke="none" stroke-width="0" />
<circle cx="346.30" cy="148.75" r="2.40" fill="#9cec18" stroke="none" stroke-width="0" />
<circle cx="349.20" cy="150.57" r="2.40" fill="#9cec18" stroke="none" stroke-width="0" />
<circle cx="352.10" cy="151.21" r="2.40" fill="#9cec18" stroke="none" stroke-width="0" />
<circle cx="347.75" cy="146.12" r="2.40" fill="#9cec18" stroke="none" stroke-width="0" />
<circle cx="350.65" cy="147.34" r="2.40" fill="#9cec18" stroke="none" stroke-width="0" />
<circle cx="349.20" cy="144.55" r="2.40" fill="#9cec18" stroke="none" stroke-width="0" />
<circle cx="346.30" cy="154.80" r="2.40" fill="#9cec18" stroke="none" stroke-width="0" />
<circle cx="349.20" cy="156.87" r="2.40" fill="#9cec18" stroke="none" stroke-width="0" />
<circle cx="352.10" cy="157.20" r="2.40" fill="#9cec18" stroke="none" stroke-width="0" />
<circle cx="344.85" cy="152.18" r="2.40" fill="#9cec18" stroke="none" stroke-width="0" />
<circle cx="347.75" cy="152.66" r="2.40" fill="#9cec18" stroke="none" stroke-width="0" />
<circle cx="350.65" cy="153.39" r="2.40" fill="#9cec18" stroke="none" stroke-width="0" />
<circle cx="353.55" cy="154.11" r="2.40" fill="#9cec18" stroke="none" stroke-width="0" />
<circle cx="341.95" cy="160.68" r="2.40" fill="#9cec18" stroke="none" stroke-width="0" />
<circle cx="344.85" cy="161.10" r="2.40" fill="#9cec18" stroke="none" stroke-width="0" />
<circle cx="347.75" cy="161.50" r="2.40" fill="#9cec18" stroke="none" stroke-width="0" />
<circle cx="350.65" cy="162.96" r="2.40" fill="#9cec18" stroke="none" stroke-width="0" />
<circle cx="353.55" cy="163.27" r="2.40" fill="#9cec18" stroke="none" stroke-width="0" />
<circle cx="356.45" cy="163.43" r="2.40" fill="#9cec18" stroke="none" stroke-width="0" />
<circle cx="340.70" cy="157.71" r="2.40" fill="#9cec18" stroke="none" stroke-width="0" />
<circle cx="343.53" cy="158.15" r="2.40" fill="#9cec18" stroke="none" stroke-width="0" />
<circle cx="346.37" cy="158.50" r="2.40" fill="#9cec18" stroke="none" stroke-width="0" />
<circle cx="349.20" cy="158.85" r="2.40" fill="#9cec18" stroke="none" stroke-width="0" />
<circle cx="352.03" cy="159.40" r="2.40" fill="#9cec18" stroke="none" stroke-width="0" />
<circle cx="354.87" cy="159.78" r="2.40" fill="#9cec18" stroke="none" stroke-width="0" />
<circle cx="357.70" cy="160.07" r="2.40" fill="#9cec18" stroke="none" stroke-width="0" />
<circle cx="341.95" cy="166.65" r="2.40" fill="#9cec18" stroke="none" stroke-width="0" />
<circle cx="344.85" cy="166.83" r="2.40" fill="#9cec18" stroke="none" stroke-width="0" />
<circle cx="347.75" cy="167.09" r="2.40" fill="#9cec18" stroke="none" stroke-width="0" />
<circle cx="350.65" cy="167.31" r="2.40" fill="#9cec18" stroke="none" stroke-width="0" />
<circle cx="353.55" cy="167.51" r="2.40" fill="#9cec18" stroke="none" stroke-width="0" />
<circle cx="356.45" cy="167.81" r="2.40" fill="#9cec18" stroke="none" stroke-width="0" />
<circle cx="340.70" cy="163.76" r="2.40" fill="#9cec18" stroke="none" stroke-width="0" />
<circle cx="342.25" cy="164.01" r="2.40" fill="#9cec18" stroke="none" stroke-width="0" />
<circle cx="343.79" cy="164.25" r="2.40" fill="#9cec18" stroke="none" stroke-width="0" />
<circle cx="345.34" cy="164.38" r="2.40" fill="#9cec18" stroke="none" stroke-width="0" />
<circle cx="346.88" cy="164.65" r="2.40" fill="#9cec18" stroke="none" stroke-width="0" />
<circle cx="348.43" cy="164.95" r="2.40" fill="#9cec18" stroke="none" stroke-width="0" />
<circle cx="349.97" cy="165.14" r="2.40" fill="#9cec18" stroke="none" stroke-width="0" />
<circle cx="351.52" cy="165.33" r="2.40" fill="#9cec18" stroke="none" stroke-width="0" />
<circle cx="353.06" cy="165.68" r="2.40" fill="#9cec18" stroke="none" stroke-width="0" />
<circle cx="354.61" cy="165.91" r="2.40" fill="#9cec18" stroke="none" stroke-width="0" />
<circle cx="356.15" cy="166.11" r="2.40" fill="#9cec18" stroke="none" stroke-width="0" />
<circle cx="357.70" cy="166.36" r="2.40" fill="#9cec18" stroke="none" stroke-width="0" />
<line x1="339.70" y1="155.06" x2="358.70" y2="155.06" stroke="#111" stroke-width="1.5" />
<rect x="368.00" y="121.00" width="17.00" height="40.00" fill="#fadcf0" stroke="none" stroke-width="1" />
<circle cx="377.00" cy="125.61" r="2.00" fill="#f02818" stroke="#a87030" stroke-width="0.8" />
<circle cx="377.00" cy="124.45" r="2.00" fill="#f02818" stroke="#a87030" stroke-width="0.8" />
<circle cx="373.20" cy="132.24" r="2.00" fill="#f02818" stroke="#a87030" stroke-width="0.8" />
<circle cx="377.00" cy="134.26" r="2.00" fill="#f02818" stroke="#a87030" stroke-width="0.8" />
<circle cx="380.80" cy="135.10" r="2.00" fill="#f02818" stroke="#a87030" stroke-width="0.8" />
<circle cx="375.10" cy="129.29" r="2.00" fill="#f02818" stroke="#a87030" stroke-width="0.8" />
<circle cx="378.90" cy="130.42" r="2.00" fill="#f02818" stroke="#a87030" stroke-width="0.8" />
<circle cx="373.20" cy="135.74" r="2.00" fill="#f02818" stroke="#a87030" stroke-width="0.8" />
<circle cx="377.00" cy="136.69" r="2.00" fill="#f02818" stroke="#a87030" stroke-width="0.8" />
<circle cx="380.80" cy="137.31" r="2.00" fill="#f02818" stroke="#a87030" stroke-width="0.8" />
<circle cx="367.50" cy="139.29" r="2.00" fill="#f02818" stroke="#a87030" stroke-width="0.8" />
<circle cx="370.67" cy="139.64" r="2.00" fill="#f02818" stroke="#a87030" stroke-width="0.8" />
<circle cx="373.83" cy="140.15" r="2.00" fill="#f02818" stroke="#a87030" stroke-width="0.8" />
<circle cx="377.00" cy="140.91" r="2.00" fill="#f02818" stroke="#a87030" stroke-width="0.8" />
<circle cx="380.17" cy="141.52" r="2.00" fill="#f02818" stroke="#a87030" stroke-width="0.8" />
<circle cx="383.33" cy="141.88" r="2.00" fill="#f02818" stroke="#a87030" stroke-width="0.8" />
<circle cx="386.50" cy="142.52" r="2.00" fill="#f02818" stroke="#a87030" stroke-width="0.8" />
<circle cx="371.30" cy="146.40" r="2.00" fill="#f02818" stroke="#a87030" stroke-width="0.8" />
<circle cx="375.10" cy="147.04" r="2.00" fill="#f02818" stroke="#a87030" stroke-width="0.8" />
<circle cx="378.90" cy="148.03" r="2.00" fill="#f02818" stroke="#a87030" stroke-width="0.8" />
<circle cx="382.70" cy="148.51" r="2.00" fill="#f02818" stroke="#a87030" stroke-width="0.8" />
<circle cx="373.20" cy="144.56" r="2.00" fill="#f02818" stroke="#a87030" stroke-width="0.8" />
<circle cx="377.00" cy="145.17" r="2.00" fill="#f02818" stroke="#a87030" stroke-width="0.8" />
<circle cx="380.80" cy="145.82" r="2.00" fill="#f02818" stroke="#a87030" stroke-width="0.8" />
<circle cx="375.10" cy="154.29" r="2.00" fill="#f02818" stroke="#a87030" stroke-width="0.8" />
<circle cx="378.90" cy="154.70" r="2.00" fill="#f02818" stroke="#a87030" stroke-width="0.8" />
<circle cx="371.30" cy="150.87" r="2.00" fill="#f02818" stroke="#a87030" stroke-width="0.8" />
<circle cx="375.10" cy="151.50" r="2.00" fill="#f02818" stroke="#a87030" stroke-width="0.8" />
<circle cx="378.90" cy="152.15" r="2.00" fill="#f02818" stroke="#a87030" stroke-width="0.8" />
<circle cx="382.70" cy="153.06" r="2.00" fill="#f02818" stroke="#a87030" stroke-width="0.8" />
<circle cx="375.10" cy="158.10" r="2.00" fill="#f02818" stroke="#a87030" stroke-width="0.8" />
<circle cx="378.90" cy="159.44" r="2.00" fill="#f02818" stroke="#a87030" stroke-width="0.8" />
<circle cx="377.00" cy="125.61" r="0.75" fill="#ffd8c8" stroke="none" stroke-width="1" />
<circle cx="377.00" cy="124.45" r="0.75" fill="#ffd8c8" stroke="none" stroke-width="1" />
<circle cx="373.20" cy="132.24" r="0.75" fill="#ffd8c8" stroke="none" stroke-width="1" />
<circle cx="377.00" cy="134.26" r="0.75" fill="#ffd8c8" stroke="none" stroke-width="1" />
<circle cx="380.80" cy="135.10" r="0.75" fill="#ffd8c8" stroke="none" stroke-width="1" />
<circle cx="375.10" cy="129.29" r="0.75" fill="#ffd8c8" stroke="none" stroke-width="1" />
<circle cx="378.90" cy="130.42" r="0.75" fill="#ffd8c8" stroke="none" stroke-width="1" />
<circle cx="373.20" cy="135.74" r="0.75" fill="#ffd8c8" stroke="none" stroke-width="1" />
<circle cx="377.00" cy="136.69" r="0.75" fill="#ffd8c8" stroke="none" stroke-width="1" />
<circle cx="380.80" cy="137.31" r="0.75" fill="#ffd8c8" stroke="none" stroke-width="1" />
<circle cx="367.50" cy="139.29" r="0.75" fill="#ffd8c8" stroke="none" stroke-width="1" />
<circle cx="370.67" cy="139.64" r="0.75" fill="#ffd8c8" stroke="none" stroke-width="1" />
<circle cx="373.83" cy="140.15" r="0.75" fill="#ffd8c8" stroke="none" stroke-width="1" />
<circle cx="377.00" cy="140.91" r="0.75" fill="#ffd8c8" stroke="none" stroke-width="1" />
<circle cx="380.17" cy="141.52" r="0.75" fill="#ffd8c8" stroke="none" stroke-width="1" />
<circle cx="383.33" cy="141.88" r="0.75" fill="#ffd8c8" stroke="none" stroke-width="1" />
<circle cx="386.50" cy="142.52" r="0.75" fill="#ffd8c8" stroke="none" stroke-width="1" />
<circle cx="371.30" cy="146.40" r="0.75" fill="#ffd8c8" stroke="none" stroke-width="1" />
<circle cx="375.10" cy="147.04" r="0.75" fill="#ffd8c8" stroke="none" stroke-width="1" />
<circle cx="378.90" cy="148.03" r="0.75" fill="#ffd8c8" stroke="none" stroke-width="1" />
<circle cx="382.70" cy="148.51" r="0.75" fill="#ffd8c8" stroke="none" stroke-width="1" />
<circle cx="373.20" cy="144.56" r="0.75" fill="#ffd8c8" stroke="none" stroke-width="1" />
<circle cx="377.00" cy="145.17" r="0.75" fill="#ffd8c8" stroke="none" stroke-width="1" />
<circle cx="380.80" cy="145.82" r="0.75" fill="#ffd8c8" stroke="none" stroke-width="1" />
<circle cx="375.10" cy="154.29" r="0.75" fill="#ffd8c8" stroke="none" stroke-width="1" />
<circle cx="378.90" cy="154.70" r="0.75" fill="#ffd8c8" stroke="none" stroke-width="1" />
<circle cx="371.30" cy="150.87" r="0.75" fill="#ffd8c8" stroke="none" stroke-width="1" />
<circle cx="375.10" cy="151.50" r="0.75" fill="#ffd8c8" stroke="none" stroke-width="1" />
<circle cx="378.90" cy="152.15" r="0.75" fill="#ffd8c8" stroke="none" stroke-width="1" />
<circle cx="382.70" cy="153.06" r="0.75" fill="#ffd8c8" stroke="none" stroke-width="1" />
<circle cx="375.10" cy="158.10" r="0.75" fill="#ffd8c8" stroke="none" stroke-width="1" />
<circle cx="378.90" cy="159.44" r="0.75" fill="#ffd8c8" stroke="none" stroke-width="1" />
<line x1="368.00" y1="142.73" x2="387.00" y2="142.73" stroke="#222" stroke-width="1.4" />
<rect x="400.00" y="79.00" width="15.50" height="88.00" fill="#fadcf0" stroke="none" stroke-width="1" />
<rect x="400.50" y="120.60" width="15.00" height="40.00" fill="#f41010" stroke="none" stroke-width="1" />
<circle cx="407.00" cy="85.12" r="2.20" fill="#8a5a1c" stroke="none" stroke-width="1" />
<circle cx="407.00" cy="93.94" r="2.20" fill="#8a5a1c" stroke="none" stroke-width="1" />
<circle cx="403.00" cy="101.32" r="2.20" fill="#8a5a1c" stroke="none" stroke-width="1" />
<circle cx="407.00" cy="101.93" r="2.20" fill="#8a5a1c" stroke="none" stroke-width="1" />
<circle cx="411.00" cy="102.36" r="2.20" fill="#8a5a1c" stroke="none" stroke-width="1" />
<circle cx="407.00" cy="107.94" r="2.20" fill="#8a5a1c" stroke="none" stroke-width="1" />
<circle cx="401.00" cy="119.90" r="2.20" fill="#8a5a1c" stroke="none" stroke-width="1" />
<circle cx="405.00" cy="120.66" r="2.20" fill="#f41414" stroke="none" stroke-width="1" />
<circle cx="409.00" cy="121.55" r="2.20" fill="#f41414" stroke="none" stroke-width="1" />
<circle cx="413.00" cy="122.14" r="2.20" fill="#8a5a1c" stroke="none" stroke-width="1" />
<circle cx="407.00" cy="119.16" r="2.20" fill="#f41414" stroke="none" stroke-width="1" />
<circle cx="403.00" cy="127.96" r="2.20" fill="#f41414" stroke="none" stroke-width="1" />
<circle cx="407.00" cy="128.83" r="2.20" fill="#f41414" stroke="none" stroke-width="1" />
<circle cx="411.00" cy="129.88" r="2.20" fill="#f41414" stroke="none" stroke-width="1" />
<circle cx="401.00" cy="124.28" r="2.20" fill="#8a5a1c" stroke="none" stroke-width="1" />
<circle cx="405.00" cy="124.96" r="2.20" fill="#f41414" stroke="none" stroke-width="1" />
<circle cx="409.00" cy="125.83" r="2.20" fill="#f41414" stroke="none" stroke-width="1" />
<circle cx="413.00" cy="126.88" r="2.20" fill="#8a5a1c" stroke="none" stroke-width="1" />
<circle cx="401.00" cy="135.04" r="2.20" fill="#8a5a1c" stroke="none" stroke-width="1" />
<circle cx="405.00" cy="135.58" r="2.20" fill="#f41414" stroke="none" stroke-width="1" />
<circle cx="409.00" cy="136.14" r="2.20" fill="#f41414" stroke="none" stroke-width="1" />
<circle cx="413.00" cy="137.85" r="2.20" fill="#8a5a1c" stroke="none" stroke-width="1" />
<circle cx="399.00" cy="131.57" r="2.20" fill="#8a5a1c" stroke="none" stroke-width="1" />
<circle cx="403.00" cy="132.39" r="2.20" fill="#f41414" stroke="none" stroke-width="1" />
<circle cx="407.00" cy="133.05" r="2.20" fill="#f41414" stroke="none" stroke-width="1" />
<circle cx="411.00" cy="133.62" r="2.20" fill="#f41414" stroke="none" stroke-width="1" />
<circle cx="415.00" cy="134.41" r="2.20" fill="#8a5a1c" stroke="none" stroke-width="1" />
<circle cx="403.00" cy="142.78" r="2.20" fill="#f41414" stroke="none" stroke-width="1" />
<circle cx="407.00" cy="143.58" r="2.20" fill="#f41414" stroke="none" stroke-width="1" />
<circle cx="411.00" cy="145.62" r="2.20" fill="#f41414" stroke="none" stroke-width="1" />
<circle cx="399.00" cy="138.87" r="2.20" fill="#8a5a1c" stroke="none" stroke-width="1" />
<circle cx="403.00" cy="139.83" r="2.20" fill="#f41414" stroke="none" stroke-width="1" />
<circle cx="407.00" cy="140.53" r="2.20" fill="#f41414" stroke="none" stroke-width="1" />
<circle cx="411.00" cy="141.46" r="2.20" fill="#f41414" stroke="none" stroke-width="1" />
<circle cx="415.00" cy="142.15" r="2.20" fill="#8a5a1c" stroke="none" stroke-width="1" />
<circle cx="405.00" cy="151.39" r="2.20" fill="#f41414" stroke="none" stroke-width="1" />
<circle cx="409.00" cy="152.15" r="2.20" fill="#f41414" stroke="none" stroke-width="1" />
<circle cx="401.00" cy="146.60" r="2.20" fill="#8a5a1c" stroke="none" stroke-width="1" />
<circle cx="405.00" cy="147.79" r="2.20" fill="#f41414" stroke="none" stroke-width="1" />
<circle cx="409.00" cy="148.83" r="2.20" fill="#f41414" stroke="none" stroke-width="1" />
<circle cx="413.00" cy="149.85" r="2.20" fill="#8a5a1c" stroke="none" stroke-width="1" />
<circle cx="405.00" cy="158.57" r="2.20" fill="#f41414" stroke="none" stroke-width="1" />
<circle cx="409.00" cy="159.50" r="2.20" fill="#f41414" stroke="none" stroke-width="1" />
<circle cx="403.00" cy="154.94" r="2.20" fill="#f41414" stroke="none" stroke-width="1" />
<circle cx="407.00" cy="155.60" r="2.20" fill="#f41414" stroke="none" stroke-width="1" />
<circle cx="411.00" cy="156.84" r="2.20" fill="#f41414" stroke="none" stroke-width="1" />
<circle cx="405.00" cy="162.07" r="2.20" fill="#f41414" stroke="none" stroke-width="1" />
<circle cx="409.00" cy="163.30" r="2.20" fill="#f41414" stroke="none" stroke-width="1" />
<line x1="407.63" y1="155.70" x2="409.63" y2="152.70" stroke="#ff9090" stroke-width="0.8" />
<line x1="408.86" y1="125.64" x2="410.86" y2="122.64" stroke="#ff9090" stroke-width="0.8" />
<line x1="411.02" y1="148.41" x2="413.02" y2="145.41" stroke="#ff9090" stroke-width="0.8" />
<line x1="411.98" y1="129.70" x2="413.98" y2="126.70" stroke="#ff9090" stroke-width="0.8" />
<line x1="410.19" y1="125.06" x2="412.19" y2="122.06" stroke="#ff9090" stroke-width="0.8" />
<line x1="409.18" y1="132.56" x2="411.18" y2="129.56" stroke="#ff9090" stroke-width="0.8" />
<line x1="397.00" y1="135.43" x2="416.50" y2="135.43" stroke="#222" stroke-width="1.4" />
<circle cx="433.50" cy="156.15" r="2.30" fill="#111" stroke="none" stroke-width="0" />
<circle cx="425.00" cy="160.12" r="2.30" fill="#111" stroke="none" stroke-width="0" />
<circle cx="426.89" cy="160.39" r="2.30" fill="#111" stroke="none" stroke-width="0" />
<circle cx="428.78" cy="160.57" r="2.30" fill="#111" stroke="none" stroke-width="0" />
<circle cx="430.67" cy="160.90" r="2.30" fill="#111" stroke="none" stroke-width="0" />
<circle cx="432.56" cy="161.25" r="2.30" fill="#111" stroke="none" stroke-width="0" />
<circle cx="434.44" cy="161.40" r="2.30" fill="#111" stroke="none" stroke-width="0" />
<circle cx="436.33" cy="161.68" r="2.30" fill="#111" stroke="none" stroke-width="0" />
<circle cx="438.22" cy="161.98" r="2.30" fill="#111" stroke="none" stroke-width="0" />
<circle cx="440.11" cy="162.25" r="2.30" fill="#111" stroke="none" stroke-width="0" />
<circle cx="442.00" cy="162.38" r="2.30" fill="#111" stroke="none" stroke-width="0" />
<circle cx="430.50" cy="159.19" r="2.30" fill="#111" stroke="none" stroke-width="0" />
<circle cx="433.50" cy="159.52" r="2.30" fill="#111" stroke="none" stroke-width="0" />
<circle cx="436.50" cy="159.73" r="2.30" fill="#111" stroke="none" stroke-width="0" />
<circle cx="425.00" cy="162.70" r="2.30" fill="#111" stroke="none" stroke-width="0" />
<circle cx="426.70" cy="162.80" r="2.30" fill="#111" stroke="none" stroke-width="0" />
<circle cx="428.40" cy="163.15" r="2.30" fill="#111" stroke="none" stroke-width="0" />
<circle cx="430.10" cy="163.30" r="2.30" fill="#111" stroke="none" stroke-width="0" />
<circle cx="431.80" cy="163.60" r="2.30" fill="#111" stroke="none" stroke-width="0" />
<circle cx="433.50" cy="163.80" r="2.30" fill="#111" stroke="none" stroke-width="0" />
<circle cx="435.20" cy="164.07" r="2.30" fill="#111" stroke="none" stroke-width="0" />
<circle cx="436.90" cy="164.21" r="2.30" fill="#111" stroke="none" stroke-width="0" />
<circle cx="438.60" cy="164.45" r="2.30" fill="#111" stroke="none" stroke-width="0" />
<circle cx="440.30" cy="164.72" r="2.30" fill="#111" stroke="none" stroke-width="0" />
<circle cx="442.00" cy="164.99" r="2.30" fill="#111" stroke="none" stroke-width="0" />
<circle cx="425.00" cy="165.20" r="2.30" fill="#111" stroke="none" stroke-width="0" />
<circle cx="427.83" cy="165.32" r="2.30" fill="#111" stroke="none" stroke-width="0" />
<circle cx="430.67" cy="165.67" r="2.30" fill="#111" stroke="none" stroke-width="0" />
<circle cx="433.50" cy="165.86" r="2.30" fill="#111" stroke="none" stroke-width="0" />
<circle cx="436.33" cy="166.04" r="2.30" fill="#111" stroke="none" stroke-width="0" />
<circle cx="439.17" cy="166.34" r="2.30" fill="#111" stroke="none" stroke-width="0" />
<circle cx="442.00" cy="166.57" r="2.30" fill="#111" stroke="none" stroke-width="0" />
<circle cx="462.50" cy="100.86" r="2.30" fill="#111" stroke="none" stroke-width="0" />
<circle cx="462.50" cy="134.67" r="2.30" fill="#111" stroke="none" stroke-width="0" />
<circle cx="460.90" cy="132.07" r="2.30" fill="#111" stroke="none" stroke-width="0" />
<circle cx="464.10" cy="133.65" r="2.30" fill="#111" stroke="none" stroke-width="0" />
<circle cx="460.90" cy="139.28" r="2.30" fill="#111" stroke="none" stroke-width="0" />
<circle cx="464.10" cy="141.35" r="2.30" fill="#111" stroke="none" stroke-width="0" />
<circle cx="462.50" cy="136.98" r="2.30" fill="#111" stroke="none" stroke-width="0" />
<circle cx="462.50" cy="147.93" r="2.30" fill="#111" stroke="none" stroke-width="0" />
<circle cx="460.90" cy="144.62" r="2.30" fill="#111" stroke="none" stroke-width="0" />
<circle cx="464.10" cy="146.14" r="2.30" fill="#111" stroke="none" stroke-width="0" />
<circle cx="460.90" cy="152.80" r="2.30" fill="#111" stroke="none" stroke-width="0" />
<circle cx="464.10" cy="153.60" r="2.30" fill="#111" stroke="none" stroke-width="0" />
<circle cx="460.90" cy="150.86" r="2.30" fill="#111" stroke="none" stroke-width="0" />
<circle cx="464.10" cy="151.61" r="2.30" fill="#111" stroke="none" stroke-width="0" />
<circle cx="452.50" cy="157.37" r="2.30" fill="#111" stroke="none" stroke-width="0" />
<circle cx="455.36" cy="157.85" r="2.30" fill="#111" stroke="none" stroke-width="0" />
<circle cx="458.21" cy="158.06" r="2.30" fill="#111" stroke="none" stroke-width="0" />
<circle cx="461.07" cy="158.54" r="2.30" fill="#111" stroke="none" stroke-width="0" />
<circle cx="463.93" cy="158.99" r="2.30" fill="#111" stroke="none" stroke-width="0" />
<circle cx="466.79" cy="159.16" r="2.30" fill="#111" stroke="none" stroke-width="0" />
<circle cx="469.64" cy="159.56" r="2.30" fill="#111" stroke="none" stroke-width="0" />
<circle cx="472.50" cy="159.85" r="2.30" fill="#111" stroke="none" stroke-width="0" />
<circle cx="456.10" cy="155.56" r="2.30" fill="#111" stroke="none" stroke-width="0" />
<circle cx="459.30" cy="155.78" r="2.30" fill="#111" stroke="none" stroke-width="0" />
<circle cx="462.50" cy="156.34" r="2.30" fill="#111" stroke="none" stroke-width="0" />
<circle cx="465.70" cy="156.63" r="2.30" fill="#111" stroke="none" stroke-width="0" />
<circle cx="468.90" cy="157.04" r="2.30" fill="#111" stroke="none" stroke-width="0" />
<circle cx="452.50" cy="162.69" r="2.30" fill="#111" stroke="none" stroke-width="0" />
<circle cx="455.36" cy="163.02" r="2.30" fill="#111" stroke="none" stroke-width="0" />
<circle cx="458.21" cy="163.35" r="2.30" fill="#111" stroke="none" stroke-width="0" />
<circle cx="461.07" cy="163.70" r="2.30" fill="#111" stroke="none" stroke-width="0" />
<circle cx="463.93" cy="163.93" r="2.30" fill="#111" stroke="none" stroke-width="0" />
<circle cx="466.79" cy="164.23" r="2.30" fill="#111" stroke="none" stroke-width="0" />
<circle cx="469.64" cy="164.57" r="2.30" fill="#111" stroke="none" stroke-width="0" />
<circle cx="472.50" cy="164.89" r="2.30" fill="#111" stroke="none" stroke-width="0" />
<circle cx="452.50" cy="160.27" r="2.30" fill="#111" stroke="none" stroke-width="0" />
<circle cx="455.36" cy="160.57" r="2.30" fill="#111" stroke="none" stroke-width="0" />
<circle cx="458.21" cy="160.91" r="2.30" fill="#111" stroke="none" stroke-width="0" />
<circle cx="461.07" cy="161.22" r="2.30" fill="#111" stroke="none" stroke-width="0" />
<circle cx="463.93" cy="161.52" r="2.30" fill="#111" stroke="none" stroke-width="0" />
<circle cx="466.79" cy="161.75" r="2.30" fill="#111" stroke="none" stroke-width="0" />
<circle cx="469.64" cy="162.17" r="2.30" fill="#111" stroke="none" stroke-width="0" />
<circle cx="472.50" cy="162.41" r="2.30" fill="#111" stroke="none" stroke-width="0" />
<circle cx="456.10" cy="165.27" r="2.30" fill="#111" stroke="none" stroke-width="0" />
<circle cx="459.30" cy="165.55" r="2.30" fill="#111" stroke="none" stroke-width="0" />
<circle cx="462.50" cy="165.91" r="2.30" fill="#111" stroke="none" stroke-width="0" />
<circle cx="465.70" cy="166.08" r="2.30" fill="#111" stroke="none" stroke-width="0" />
<circle cx="468.90" cy="166.40" r="2.30" fill="#111" stroke="none" stroke-width="0" />
<line x1="456.50" y1="154.06" x2="468.50" y2="154.06" stroke="#e8e8e8" stroke-width="1.5" />
<rect x="480.00" y="152.00" width="16.00" height="21.50" fill="#fadcf0" stroke="none" stroke-width="1" />
<rect x="495.50" y="160.00" width="8.00" height="13.00" fill="#fdeef8" stroke="none" stroke-width="1" />
<circle cx="487.90" cy="160.09" r="1.90" fill="#e040a0" stroke="#801050" stroke-width="1.1" />
<circle cx="491.10" cy="162.07" r="1.90" fill="#e040a0" stroke="#801050" stroke-width="1.1" />
<circle cx="481.50" cy="162.59" r="1.90" fill="#e040a0" stroke="#801050" stroke-width="1.1" />
<circle cx="484.70" cy="163.36" r="1.90" fill="#e040a0" stroke="#801050" stroke-width="1.1" />
<circle cx="487.90" cy="163.67" r="1.90" fill="#e040a0" stroke="#801050" stroke-width="1.1" />
<circle cx="491.10" cy="164.10" r="1.90" fill="#e040a0" stroke="#801050" stroke-width="1.1" />
<circle cx="494.30" cy="164.45" r="1.90" fill="#e040a0" stroke="#801050" stroke-width="1.1" />
<circle cx="497.50" cy="164.82" r="1.90" fill="#e040a0" stroke="#801050" stroke-width="1.1" />
<circle cx="481.50" cy="165.20" r="1.90" fill="#e040a0" stroke="#801050" stroke-width="1.1" />
<circle cx="483.10" cy="165.53" r="1.90" fill="#e040a0" stroke="#801050" stroke-width="1.1" />
<circle cx="484.70" cy="165.78" r="1.90" fill="#e040a0" stroke="#801050" stroke-width="1.1" />
<circle cx="486.30" cy="166.12" r="1.90" fill="#e040a0" stroke="#801050" stroke-width="1.1" />
<circle cx="487.90" cy="166.34" r="1.90" fill="#e040a0" stroke="#801050" stroke-width="1.1" />
<circle cx="489.50" cy="166.51" r="1.90" fill="#e040a0" stroke="#801050" stroke-width="1.1" />
<circle cx="491.10" cy="166.69" r="1.90" fill="#e040a0" stroke="#801050" stroke-width="1.1" />
<circle cx="492.70" cy="166.90" r="1.90" fill="#e040a0" stroke="#801050" stroke-width="1.1" />
<circle cx="494.30" cy="167.20" r="1.90" fill="#e040a0" stroke="#801050" stroke-width="1.1" />
<circle cx="495.90" cy="167.36" r="1.90" fill="#e040a0" stroke="#801050" stroke-width="1.1" />
<circle cx="497.50" cy="167.61" r="1.90" fill="#e040a0" stroke="#801050" stroke-width="1.1" />
<circle cx="489.50" cy="167.80" r="1.90" fill="#e040a0" stroke="#801050" stroke-width="1.1" />
<line x1="481.50" y1="166.01" x2="497.50" y2="166.01" stroke="#801050" stroke-width="1.5" />
<rect x="510.00" y="152.00" width="16.00" height="21.50" fill="#fadcf0" stroke="none" stroke-width="1" />
<circle cx="519.50" cy="154.62" r="2.10" fill="#d8207a" stroke="#901058" stroke-width="0.5" />
<circle cx="519.50" cy="158.80" r="2.10" fill="#d8207a" stroke="#901058" stroke-width="0.5" />
<circle cx="511.00" cy="162.58" r="2.10" fill="#d8207a" stroke="#901058" stroke-width="0.5" />
<circle cx="513.43" cy="163.59" r="2.10" fill="#d8207a" stroke="#901058" stroke-width="0.5" />
<circle cx="515.86" cy="163.95" r="2.10" fill="#d8207a" stroke="#901058" stroke-width="0.5" />
<circle cx="518.29" cy="164.14" r="2.10" fill="#d8207a" stroke="#901058" stroke-width="0.5" />
<circle cx="520.71" cy="164.30" r="2.10" fill="#d8207a" stroke="#901058" stroke-width="0.5" />
<circle cx="523.14" cy="164.66" r="2.10" fill="#d8207a" stroke="#901058" stroke-width="0.5" />
<circle cx="525.57" cy="164.86" r="2.10" fill="#d8207a" stroke="#901058" stroke-width="0.5" />
<circle cx="528.00" cy="165.07" r="2.10" fill="#d8207a" stroke="#901058" stroke-width="0.5" />
<circle cx="516.30" cy="160.82" r="2.10" fill="#d8207a" stroke="#901058" stroke-width="0.5" />
<circle cx="519.50" cy="161.41" r="2.10" fill="#d8207a" stroke="#901058" stroke-width="0.5" />
<circle cx="522.70" cy="161.91" r="2.10" fill="#d8207a" stroke="#901058" stroke-width="0.5" />
<circle cx="511.00" cy="165.38" r="2.10" fill="#d8207a" stroke="#901058" stroke-width="0.5" />
<circle cx="512.21" cy="165.65" r="2.10" fill="#d8207a" stroke="#901058" stroke-width="0.5" />
<circle cx="513.43" cy="165.84" r="2.10" fill="#d8207a" stroke="#901058" stroke-width="0.5" />
<circle cx="514.64" cy="166.04" r="2.10" fill="#d8207a" stroke="#901058" stroke-width="0.5" />
<circle cx="515.86" cy="166.22" r="2.10" fill="#d8207a" stroke="#901058" stroke-width="0.5" />
<circle cx="517.07" cy="166.37" r="2.10" fill="#d8207a" stroke="#901058" stroke-width="0.5" />
<circle cx="518.29" cy="166.52" r="2.10" fill="#d8207a" stroke="#901058" stroke-width="0.5" />
<circle cx="519.50" cy="166.61" r="2.10" fill="#d8207a" stroke="#901058" stroke-width="0.5" />
<circle cx="520.71" cy="166.78" r="2.10" fill="#d8207a" stroke="#901058" stroke-width="0.5" />
<circle cx="521.93" cy="166.89" r="2.10" fill="#d8207a" stroke="#901058" stroke-width="0.5" />
<circle cx="523.14" cy="167.03" r="2.10" fill="#d8207a" stroke="#901058" stroke-width="0.5" />
<circle cx="524.36" cy="167.16" r="2.10" fill="#d8207a" stroke="#901058" stroke-width="0.5" />
<circle cx="525.57" cy="167.33" r="2.10" fill="#d8207a" stroke="#901058" stroke-width="0.5" />
<circle cx="526.79" cy="167.41" r="2.10" fill="#d8207a" stroke="#901058" stroke-width="0.5" />
<circle cx="528.00" cy="167.54" r="2.10" fill="#d8207a" stroke="#901058" stroke-width="0.5" />
<circle cx="517.90" cy="167.71" r="2.10" fill="#d8207a" stroke="#901058" stroke-width="0.5" />
<circle cx="521.10" cy="167.86" r="2.10" fill="#d8207a" stroke="#901058" stroke-width="0.5" />
<line x1="511.00" y1="164.75" x2="528.00" y2="164.75" stroke="#901050" stroke-width="1.5" />
<text x="5.60" y="220.30" font-size="11.5" fill="#000" font-weight="bold" text-anchor="start" stroke="#000" stroke-width="0.3">C</text>
<text x="28.90" y="219.30" font-size="9.4" fill="#1a1a1a" font-weight="normal" text-anchor="start" stroke="#1a1a1a" stroke-width="0.12">Gated on CD19<tspan font-size="5.6" dy="-3.8">+</tspan><tspan dy="3.8"> cells</tspan></text>
<rect x="13.20" y="228.40" width="100.30" height="88.10" fill="none" stroke="#8a8a8a" stroke-width="1.1" />
<path d="M14.00,316.00 L14.00,315.98 L14.47,315.97 L14.93,315.97 L15.40,315.96 L15.87,315.94 L16.33,315.93 L16.80,315.91 L17.27,315.88 L17.73,315.85 L18.20,315.81 L18.67,315.76 L19.13,315.69 L19.60,315.62 L20.07,315.53 L20.53,315.41 L21.00,315.28 L21.47,315.12 L21.93,314.93 L22.40,314.70 L22.87,313.96 L23.33,314.38 L23.80,313.93 L24.27,313.28 L24.73,312.41 L25.20,312.65 L25.67,312.02 L26.13,310.86 L26.60,310.01 L27.07,308.70 L27.53,307.32 L28.00,306.66 L28.47,305.67 L28.93,303.53 L29.40,303.00 L29.87,300.54 L30.33,298.74 L30.80,296.54 L31.27,295.82 L31.73,293.29 L32.20,291.20 L32.67,288.47 L33.13,285.20 L33.60,283.10 L34.07,280.78 L34.53,277.67 L35.00,276.26 L35.47,272.89 L35.93,270.08 L36.40,268.53 L36.87,265.13 L37.33,263.83 L37.80,260.66 L38.27,258.13 L38.73,254.90 L39.20,251.88 L39.67,248.06 L40.13,244.54 L40.60,242.89 L41.07,240.17 L41.53,240.48 L42.00,241.04 L42.47,245.13 L42.93,249.31 L43.40,254.11 L43.87,259.38 L44.33,264.31 L44.80,269.47 L45.27,273.30 L45.73,278.22 L46.20,282.92 L46.67,286.04 L47.13,290.82 L47.60,294.29 L48.07,296.87 L48.53,299.76 L49.00,302.52 L49.47,304.77 L49.93,307.65 L50.40,308.54 L50.87,309.50 L51.33,310.83 L51.80,312.71 L52.27,313.91 L52.73,313.88 L53.20,314.39 L53.67,314.81 L54.13,315.12 L54.60,315.36 L55.07,315.54 L55.53,315.67 L56.00,315.77 L56.47,315.84 L56.93,315.89 L57.40,315.92 L57.87,315.95 L58.33,315.97 L58.80,315.98 L59.27,315.99 L59.73,315.99 L60.20,315.99 L60.67,316.00 L61.13,316.00 L61.60,316.00 L62.07,316.00 L62.53,316.00 L63.00,316.00 L63.47,316.00 L63.93,316.00 L64.40,316.00 L64.87,316.00 L65.33,316.00 L65.80,316.00 L66.27,316.00 L66.73,316.00 L67.20,316.00 L67.67,316.00 L68.13,316.00 L68.60,316.00 L69.07,316.00 L69.53,316.00 L70.00,316.00 L70.00,316.00" fill="#8a8a8a" stroke="#7a7a7a" stroke-width="0.7" stroke-linejoin="round"/>
<path d="M14.00,316.00 L14.82,316.00 L15.63,316.00 L16.45,316.00 L17.27,316.00 L18.08,316.00 L18.90,316.00 L19.72,316.00 L20.53,316.00 L21.35,316.00 L22.17,316.00 L22.98,316.00 L23.80,316.00 L24.62,316.00 L25.43,316.00 L26.25,316.00 L27.07,316.00 L27.88,316.00 L28.70,316.00 L29.52,316.00 L30.33,316.00 L31.15,316.00 L31.97,316.00 L32.78,316.00 L33.60,316.00 L34.42,316.00 L35.23,316.00 L36.05,316.00 L36.87,315.98 L37.68,315.96 L38.50,315.90 L39.32,315.77 L40.13,315.55 L40.95,315.19 L41.77,314.70 L42.58,314.18 L43.40,313.85 L44.22,312.81 L45.03,313.13 L45.85,313.23 L46.67,313.74 L47.48,313.77 L48.30,314.70 L49.12,315.12 L49.93,315.35 L50.75,315.34 L51.57,315.09 L52.38,314.55 L53.20,313.31 L54.02,312.37 L54.83,311.66 L55.65,309.39 L56.47,308.11 L57.28,306.32 L58.10,304.91 L58.92,304.00 L59.73,304.29 L60.55,303.80 L61.37,302.91 L62.18,302.83 L63.00,302.25 L63.82,301.80 L64.63,300.89 L65.45,298.71 L66.27,296.98 L67.08,293.07 L67.90,286.75 L68.72,279.02 L69.53,268.77 L70.35,258.50 L71.17,249.85 L71.98,245.84 L72.80,245.21 L73.62,249.27 L74.43,257.36 L75.25,266.58 L76.07,276.33 L76.88,286.54 L77.70,294.21 L78.52,301.43 L79.33,306.69 L80.15,310.48 L80.97,312.54 L81.78,313.84 L82.60,315.17 L83.42,315.61 L84.23,315.82 L85.05,315.93 L85.87,315.97 L86.68,315.99 L87.50,316.00 L88.32,316.00 L89.13,316.00 L89.95,316.00 L90.77,316.00 L91.58,316.00 L92.40,316.00 L93.22,316.00 L94.03,316.00 L94.85,316.00 L95.67,316.00 L96.48,316.00 L97.30,316.00 L98.12,316.00 L98.93,316.00 L99.75,316.00 L100.57,316.00 L101.38,316.00 L102.20,316.00 L103.02,316.00 L103.83,316.00 L104.65,316.00 L105.47,316.00 L106.28,316.00 L107.10,316.00 L107.92,316.00 L108.73,316.00 L109.55,316.00 L110.37,316.00 L111.18,316.00 L112.00,316.00" fill="none" stroke="#c07060" stroke-width="1.2" stroke-linejoin="round"/>
<path d="M14.00,316.00 L14.82,316.00 L15.63,316.00 L16.45,316.00 L17.27,316.00 L18.08,316.00 L18.90,316.00 L19.72,316.00 L20.53,316.00 L21.35,316.00 L22.17,316.00 L22.98,316.00 L23.80,316.00 L24.62,316.00 L25.43,316.00 L26.25,316.00 L27.07,316.00 L27.88,316.00 L28.70,316.00 L29.52,316.00 L30.33,316.00 L31.15,316.00 L31.97,316.00 L32.78,316.00 L33.60,316.00 L34.42,316.00 L35.23,316.00 L36.05,316.00 L36.87,316.00 L37.68,316.00 L38.50,316.00 L39.32,316.00 L40.13,316.00 L40.95,316.00 L41.77,316.00 L42.58,316.00 L43.40,316.00 L44.22,316.00 L45.03,316.00 L45.85,316.00 L46.67,316.00 L47.48,316.00 L48.30,316.00 L49.12,316.00 L49.93,316.00 L50.75,316.00 L51.57,315.99 L52.38,315.99 L53.20,315.98 L54.02,315.95 L54.83,315.91 L55.65,315.84 L56.47,315.72 L57.28,315.53 L58.10,315.24 L58.92,314.83 L59.73,314.08 L60.55,314.03 L61.37,313.24 L62.18,311.92 L63.00,310.47 L63.82,309.00 L64.63,308.62 L65.45,306.76 L66.27,305.35 L67.08,302.17 L67.90,298.82 L68.72,294.21 L69.53,286.69 L70.35,277.46 L71.17,266.93 L71.98,257.36 L72.80,250.96 L73.62,248.95 L74.43,250.33 L75.25,256.06 L76.07,263.37 L76.88,272.35 L77.70,279.52 L78.52,287.59 L79.33,294.24 L80.15,298.34 L80.97,303.27 L81.78,306.81 L82.60,309.87 L83.42,311.74 L84.23,312.97 L85.05,314.27 L85.87,315.11 L86.68,315.54 L87.50,315.78 L88.32,315.90 L89.13,315.96 L89.95,315.98 L90.77,315.99 L91.58,316.00 L92.40,316.00 L93.22,316.00 L94.03,316.00 L94.85,316.00 L95.67,316.00 L96.48,316.00 L97.30,316.00 L98.12,316.00 L98.93,316.00 L99.75,316.00 L100.57,316.00 L101.38,316.00 L102.20,316.00 L103.02,316.00 L103.83,316.00 L104.65,316.00 L105.47,316.00 L106.28,316.00 L107.10,316.00 L107.92,316.00 L108.73,316.00 L109.55,316.00 L110.37,316.00 L111.18,316.00 L112.00,316.00" fill="none" stroke="#a8c850" stroke-width="1.2" stroke-linejoin="round"/>
<path d="M14.00,316.00 L14.82,316.00 L15.63,316.00 L16.45,316.00 L17.27,316.00 L18.08,316.00 L18.90,316.00 L19.72,316.00 L20.53,316.00 L21.35,316.00 L22.17,316.00 L22.98,316.00 L23.80,316.00 L24.62,316.00 L25.43,316.00 L26.25,316.00 L27.07,316.00 L27.88,316.00 L28.70,316.00 L29.52,316.00 L30.33,316.00 L31.15,316.00 L31.97,316.00 L32.78,316.00 L33.60,316.00 L34.42,316.00 L35.23,316.00 L36.05,316.00 L36.87,316.00 L37.68,316.00 L38.50,315.99 L39.32,315.98 L40.13,315.92 L40.95,315.79 L41.77,315.51 L42.58,314.97 L43.40,314.70 L44.22,313.57 L45.03,311.56 L45.85,310.73 L46.67,310.53 L47.48,310.90 L48.30,312.35 L49.12,313.09 L49.93,314.94 L50.75,315.19 L51.57,315.58 L52.38,315.75 L53.20,315.77 L54.02,315.71 L54.83,315.58 L55.65,315.39 L56.47,315.13 L57.28,314.79 L58.10,314.55 L58.92,313.39 L59.73,313.26 L60.55,312.31 L61.37,311.75 L62.18,310.63 L63.00,309.79 L63.82,309.09 L64.63,308.70 L65.45,308.61 L66.27,308.08 L67.08,307.24 L67.90,307.81 L68.72,307.50 L69.53,305.95 L70.35,302.78 L71.17,296.09 L71.98,287.98 L72.80,276.58 L73.62,266.01 L74.43,255.87 L75.25,251.31 L76.07,250.92 L76.88,256.67 L77.70,265.02 L78.52,275.01 L79.33,285.34 L80.15,293.86 L80.97,301.53 L81.78,306.10 L82.60,310.15 L83.42,312.74 L84.23,314.79 L85.05,315.15 L85.87,315.62 L86.68,315.84 L87.50,315.94 L88.32,315.98 L89.13,315.99 L89.95,316.00 L90.77,316.00 L91.58,316.00 L92.40,316.00 L93.22,316.00 L94.03,316.00 L94.85,316.00 L95.67,316.00 L96.48,316.00 L97.30,316.00 L98.12,316.00 L98.93,316.00 L99.75,316.00 L100.57,316.00 L101.38,316.00 L102.20,316.00 L103.02,316.00 L103.83,316.00 L104.65,316.00 L105.47,316.00 L106.28,316.00 L107.10,316.00 L107.92,316.00 L108.73,316.00 L109.55,316.00 L110.37,316.00 L111.18,316.00 L112.00,316.00" fill="none" stroke="#303030" stroke-width="1.2" stroke-linejoin="round"/>
<path d="M14.00,316.00 L14.82,316.00 L15.63,316.00 L16.45,316.00 L17.27,316.00 L18.08,316.00 L18.90,316.00 L19.72,316.00 L20.53,316.00 L21.35,316.00 L22.17,316.00 L22.98,316.00 L23.80,316.00 L24.62,316.00 L25.43,316.00 L26.25,316.00 L27.07,316.00 L27.88,316.00 L28.70,316.00 L29.52,316.00 L30.33,316.00 L31.15,316.00 L31.97,316.00 L32.78,316.00 L33.60,316.00 L34.42,316.00 L35.23,316.00 L36.05,316.00 L36.87,316.00 L37.68,316.00 L38.50,316.00 L39.32,316.00 L40.13,316.00 L40.95,316.00 L41.77,316.00 L42.58,316.00 L43.40,316.00 L44.22,316.00 L45.03,316.00 L45.85,316.00 L46.67,316.00 L47.48,316.00 L48.30,316.00 L49.12,315.99 L49.93,315.98 L50.75,315.97 L51.57,315.94 L52.38,315.88 L53.20,315.79 L54.02,315.64 L54.83,315.42 L55.65,315.09 L56.47,314.64 L57.28,313.56 L58.10,313.43 L58.92,312.44 L59.73,311.75 L60.55,311.04 L61.37,309.33 L62.18,309.01 L63.00,308.25 L63.82,308.02 L64.63,307.44 L65.45,308.59 L66.27,309.15 L67.08,308.70 L67.90,308.66 L68.72,308.89 L69.53,306.39 L70.35,303.82 L71.17,300.10 L71.98,296.15 L72.80,290.43 L73.62,284.14 L74.43,278.88 L75.25,273.89 L76.07,272.19 L76.88,271.61 L77.70,273.01 L78.52,275.47 L79.33,278.92 L80.15,282.46 L80.97,285.87 L81.78,289.57 L82.60,292.12 L83.42,295.14 L84.23,297.64 L85.05,299.99 L85.87,302.29 L86.68,304.75 L87.50,307.58 L88.32,310.08 L89.13,312.22 L89.95,314.10 L90.77,314.57 L91.58,315.23 L92.40,315.61 L93.22,315.82 L94.03,315.92 L94.85,315.97 L95.67,315.99 L96.48,316.00 L97.30,316.00 L98.12,316.00 L98.93,316.00 L99.75,316.00 L100.57,316.00 L101.38,316.00 L102.20,316.00 L103.02,316.00 L103.83,316.00 L104.65,316.00 L105.47,316.00 L106.28,316.00 L107.10,316.00 L107.92,316.00 L108.73,316.00 L109.55,316.00 L110.37,316.00 L111.18,316.00 L112.00,316.00" fill="none" stroke="#c878b0" stroke-width="1.2" stroke-linejoin="round"/>
<path d="M14.00,316.00 L14.82,316.00 L15.63,316.00 L16.45,316.00 L17.27,316.00 L18.08,316.00 L18.90,316.00 L19.72,316.00 L20.53,316.00 L21.35,316.00 L22.17,316.00 L22.98,316.00 L23.80,316.00 L24.62,316.00 L25.43,316.00 L26.25,316.00 L27.07,316.00 L27.88,316.00 L28.70,316.00 L29.52,316.00 L30.33,316.00 L31.15,316.00 L31.97,316.00 L32.78,316.00 L33.60,316.00 L34.42,316.00 L35.23,316.00 L36.05,316.00 L36.87,316.00 L37.68,316.00 L38.50,316.00 L39.32,316.00 L40.13,316.00 L40.95,316.00 L41.77,316.00 L42.58,316.00 L43.40,316.00 L44.22,316.00 L45.03,316.00 L45.85,316.00 L46.67,316.00 L47.48,316.00 L48.30,316.00 L49.12,316.00 L49.93,316.00 L50.75,316.00 L51.57,316.00 L52.38,316.00 L53.20,316.00 L54.02,316.00 L54.83,316.00 L55.65,316.00 L56.47,316.00 L57.28,316.00 L58.10,316.00 L58.92,316.00 L59.73,315.99 L60.55,315.98 L61.37,315.95 L62.18,315.90 L63.00,315.80 L63.82,315.64 L64.63,315.39 L65.45,315.05 L66.27,314.62 L67.08,313.80 L67.90,313.62 L68.72,313.20 L69.53,313.03 L70.35,312.79 L71.17,311.94 L71.98,310.00 L72.80,306.21 L73.62,299.02 L74.43,288.15 L75.25,273.66 L76.07,258.24 L76.88,245.19 L77.70,239.49 L78.52,241.16 L79.33,250.74 L80.15,264.89 L80.97,280.08 L81.78,293.35 L82.60,302.45 L83.42,309.10 L84.23,312.74 L85.05,314.71 L85.87,315.52 L86.68,315.84 L87.50,315.95 L88.32,315.99 L89.13,316.00 L89.95,316.00 L90.77,316.00 L91.58,316.00 L92.40,316.00 L93.22,316.00 L94.03,316.00 L94.85,316.00 L95.67,316.00 L96.48,316.00 L97.30,316.00 L98.12,316.00 L98.93,316.00 L99.75,316.00 L100.57,316.00 L101.38,316.00 L102.20,316.00 L103.02,316.00 L103.83,316.00 L104.65,316.00 L105.47,316.00 L106.28,316.00 L107.10,316.00 L107.92,316.00 L108.73,316.00 L109.55,316.00 L110.37,316.00 L111.18,316.00 L112.00,316.00" fill="none" stroke="#3030c8" stroke-width="1.3" stroke-linejoin="round"/>
<line x1="13.20" y1="316.50" x2="112.80" y2="316.50" stroke="#333" stroke-width="1.2" />
<line x1="84.00" y1="233.10" x2="92.40" y2="233.10" stroke="#3030c8" stroke-width="1.4" />
<text x="95.40" y="235.60" font-size="7.0" fill="#333" font-weight="normal" text-anchor="start" transform="translate(9.54 0) scale(0.9 1)">Naive</text>
<line x1="84.00" y1="240.38" x2="92.40" y2="240.38" stroke="#c0dc60" stroke-width="1.4" />
<text x="95.40" y="242.88" font-size="7.0" fill="#333" font-weight="normal" text-anchor="start" transform="translate(9.54 0) scale(0.9 1)">NSM</text>
<line x1="84.00" y1="247.66" x2="92.40" y2="247.66" stroke="#7a7a40" stroke-width="1.4" />
<text x="95.40" y="250.16" font-size="7.0" fill="#333" font-weight="normal" text-anchor="start" transform="translate(9.54 0) scale(0.9 1)">SM</text>
<line x1="84.00" y1="254.94" x2="92.40" y2="254.94" stroke="#303030" stroke-width="1.4" />
<text x="95.40" y="257.44" font-size="7.0" fill="#333" font-weight="normal" text-anchor="start" transform="translate(9.54 0) scale(0.9 1)">DN</text>
<line x1="84.00" y1="262.22" x2="92.40" y2="262.22" stroke="#c8a0d0" stroke-width="1.4" />
<text x="95.40" y="264.72" font-size="7.0" fill="#333" font-weight="normal" text-anchor="start" transform="translate(9.54 0) scale(0.9 1)">PB</text>
<rect x="84.00" y="267.90" width="8.40" height="3.20" fill="#888" stroke="none" stroke-width="1" />
<text x="95.40" y="272.00" font-size="7.0" fill="#333" font-weight="normal" text-anchor="start" transform="translate(9.54 0) scale(0.9 1)">FMO</text>
<text x="20.40" y="326.30" font-size="5.0" fill="#555" font-weight="normal" text-anchor="middle" >0</text>
<text x="44.40" y="326.30" font-size="5.0" fill="#555" font-weight="normal" text-anchor="middle" >10<tspan font-size="3.3" dy="-1.6">3</tspan></text>
<text x="68.40" y="326.30" font-size="5.0" fill="#555" font-weight="normal" text-anchor="middle" >10<tspan font-size="3.3" dy="-1.6">4</tspan></text>
<text x="91.20" y="326.30" font-size="5.0" fill="#555" font-weight="normal" text-anchor="middle" >10<tspan font-size="3.3" dy="-1.6">5</tspan></text>
<text x="111.60" y="326.30" font-size="5.0" fill="#555" font-weight="normal" text-anchor="middle" >10<tspan font-size="3.3" dy="-1.6">6</tspan></text>
<line x1="15.60" y1="334.50" x2="60.00" y2="334.50" stroke="#333" stroke-width="1" />
<path d="M59,331.8 L63.5,334.5 L59,337.2 Z" fill="#111" stroke="none" stroke-width="1" />
<text x="68.90" y="337.70" font-size="9.2" fill="#111" font-weight="normal" text-anchor="start" stroke="#111" stroke-width="0.25">BTLA</text>
<rect x="252.40" y="223.00" width="26.00" height="10.00" fill="#e6faf6" stroke="none" stroke-width="1" />
<rect x="339.00" y="223.00" width="19.50" height="10.00" fill="#fdf0f7" stroke="none" stroke-width="1" />
<rect x="510.50" y="224.00" width="16.50" height="9.00" fill="#fcecf6" stroke="none" stroke-width="1" />
<rect x="257.70" y="368.00" width="24.50" height="10.50" fill="#e8fbf6" stroke="none" stroke-width="1" />
<rect x="341.50" y="368.00" width="21.00" height="10.50" fill="#fef6fa" stroke="none" stroke-width="1" />
<line x1="147.70" y1="230.60" x2="147.70" y2="323.10" stroke="#333" stroke-width="1.3" />
<line x1="147.10" y1="322.50" x2="202.60" y2="322.50" stroke="#333" stroke-width="1.3" />
<line x1="145.10" y1="322.50" x2="147.70" y2="322.50" stroke="#333" stroke-width="1.1" />
<text x="144.10" y="324.70" font-size="6.2" fill="#333" font-weight="bold" text-anchor="end" >0</text>
<line x1="145.10" y1="304.24" x2="147.70" y2="304.24" stroke="#333" stroke-width="1.1" />
<text x="144.10" y="306.44" font-size="6.2" fill="#333" font-weight="bold" text-anchor="end" >20</text>
<line x1="145.10" y1="285.98" x2="147.70" y2="285.98" stroke="#333" stroke-width="1.1" />
<text x="144.10" y="288.18" font-size="6.2" fill="#333" font-weight="bold" text-anchor="end" >40</text>
<line x1="145.10" y1="267.72" x2="147.70" y2="267.72" stroke="#333" stroke-width="1.1" />
<text x="144.10" y="269.92" font-size="6.2" fill="#333" font-weight="bold" text-anchor="end" >60</text>
<line x1="145.10" y1="249.46" x2="147.70" y2="249.46" stroke="#333" stroke-width="1.1" />
<text x="144.10" y="251.66" font-size="6.2" fill="#333" font-weight="bold" text-anchor="end" >80</text>
<line x1="145.10" y1="231.20" x2="147.70" y2="231.20" stroke="#333" stroke-width="1.1" />
<text x="144.10" y="233.40" font-size="6.2" fill="#333" font-weight="bold" text-anchor="end" >100</text>
<text x="178.50" y="231.50" font-size="9.3" fill="#3030c0" font-weight="normal" text-anchor="middle" stroke="#3030c0" stroke-width="0.2">Naive</text>
<text x="164.00" y="331.90" font-size="8.2" fill="#222" font-weight="normal" text-anchor="middle" stroke="#222" stroke-width="0.15">HC</text>
<text x="188.00" y="331.90" font-size="8.2" fill="#222" font-weight="normal" text-anchor="middle" stroke="#222" stroke-width="0.15">SLE</text>
<text x="164.00" y="341.70" font-size="8.2" fill="#222" font-weight="normal" text-anchor="middle" stroke="#222" stroke-width="0.15">(32)</text>
<text x="188.00" y="341.70" font-size="8.2" fill="#222" font-weight="normal" text-anchor="middle" stroke="#222" stroke-width="0.15">(48)</text>
<text x="129.2" y="273.0" font-size="7.0" fill="#505050" text-anchor="middle" stroke="#505050" stroke-width="0.12" textLength="58" lengthAdjust="spacingAndGlyphs" transform="rotate(-90 129.2 273.0)">MFI BTLA (x10<tspan font-size="4.76" dy="-2.6">3</tspan><tspan dy="2.6">)</tspan></text>
<line x1="231.50" y1="231.10" x2="231.50" y2="323.30" stroke="#333" stroke-width="1.3" />
<line x1="230.90" y1="322.70" x2="288.00" y2="322.70" stroke="#333" stroke-width="1.3" />
<line x1="228.90" y1="322.70" x2="231.50" y2="322.70" stroke="#333" stroke-width="1.1" />
<text x="227.90" y="324.90" font-size="6.2" fill="#333" font-weight="bold" text-anchor="end" >0</text>
<line x1="228.90" y1="304.50" x2="231.50" y2="304.50" stroke="#333" stroke-width="1.1" />
<text x="227.90" y="306.70" font-size="6.2" fill="#333" font-weight="bold" text-anchor="end" >20</text>
<line x1="228.90" y1="286.30" x2="231.50" y2="286.30" stroke="#333" stroke-width="1.1" />
<text x="227.90" y="288.50" font-size="6.2" fill="#333" font-weight="bold" text-anchor="end" >40</text>
<line x1="228.90" y1="268.10" x2="231.50" y2="268.10" stroke="#333" stroke-width="1.1" />
<text x="227.90" y="270.30" font-size="6.2" fill="#333" font-weight="bold" text-anchor="end" >60</text>
<line x1="228.90" y1="249.90" x2="231.50" y2="249.90" stroke="#333" stroke-width="1.1" />
<text x="227.90" y="252.10" font-size="6.2" fill="#333" font-weight="bold" text-anchor="end" >80</text>
<line x1="228.90" y1="231.70" x2="231.50" y2="231.70" stroke="#333" stroke-width="1.1" />
<text x="227.90" y="233.90" font-size="6.2" fill="#333" font-weight="bold" text-anchor="end" >100</text>
<text x="266.00" y="231.50" font-size="9.3" fill="#80dc40" font-weight="normal" text-anchor="middle" stroke="#80dc40" stroke-width="0.2">NSM</text>
<text x="252.40" y="332.10" font-size="8.2" fill="#222" font-weight="normal" text-anchor="middle" stroke="#222" stroke-width="0.15">HC</text>
<text x="275.50" y="332.10" font-size="8.2" fill="#222" font-weight="normal" text-anchor="middle" stroke="#222" stroke-width="0.15">SLE</text>
<text x="252.40" y="341.90" font-size="8.2" fill="#222" font-weight="normal" text-anchor="middle" stroke="#222" stroke-width="0.15">(32)</text>
<text x="275.50" y="341.90" font-size="8.2" fill="#222" font-weight="normal" text-anchor="middle" stroke="#222" stroke-width="0.15">(48)</text>
<text x="215.0" y="279.1" font-size="7.0" fill="#505050" text-anchor="middle" stroke="#505050" stroke-width="0.12" textLength="61" lengthAdjust="spacingAndGlyphs" transform="rotate(-90 215.0 279.1)">MFI BTLA (x10<tspan font-size="4.76" dy="-2.6">3</tspan><tspan dy="2.6">)</tspan></text>
<line x1="318.80" y1="230.90" x2="318.80" y2="323.10" stroke="#333" stroke-width="1.3" />
<line x1="318.20" y1="322.50" x2="374.70" y2="322.50" stroke="#333" stroke-width="1.3" />
<line x1="316.20" y1="322.50" x2="318.80" y2="322.50" stroke="#333" stroke-width="1.1" />
<text x="315.20" y="324.70" font-size="6.2" fill="#333" font-weight="bold" text-anchor="end" >0</text>
<line x1="316.20" y1="304.30" x2="318.80" y2="304.30" stroke="#333" stroke-width="1.1" />
<text x="315.20" y="306.50" font-size="6.2" fill="#333" font-weight="bold" text-anchor="end" >20</text>
<line x1="316.20" y1="286.10" x2="318.80" y2="286.10" stroke="#333" stroke-width="1.1" />
<text x="315.20" y="288.30" font-size="6.2" fill="#333" font-weight="bold" text-anchor="end" >40</text>
<line x1="316.20" y1="267.90" x2="318.80" y2="267.90" stroke="#333" stroke-width="1.1" />
<text x="315.20" y="270.10" font-size="6.2" fill="#333" font-weight="bold" text-anchor="end" >60</text>
<line x1="316.20" y1="249.70" x2="318.80" y2="249.70" stroke="#333" stroke-width="1.1" />
<text x="315.20" y="251.90" font-size="6.2" fill="#333" font-weight="bold" text-anchor="end" >80</text>
<line x1="316.20" y1="231.50" x2="318.80" y2="231.50" stroke="#333" stroke-width="1.1" />
<text x="315.20" y="233.70" font-size="6.2" fill="#333" font-weight="bold" text-anchor="end" >100</text>
<text x="348.70" y="231.50" font-size="9.3" fill="#d04848" font-weight="normal" text-anchor="middle" stroke="#d04848" stroke-width="0.2">SM</text>
<text x="335.70" y="331.90" font-size="8.2" fill="#222" font-weight="normal" text-anchor="middle" stroke="#222" stroke-width="0.15">HC</text>
<text x="359.50" y="331.90" font-size="8.2" fill="#222" font-weight="normal" text-anchor="middle" stroke="#222" stroke-width="0.15">SLE</text>
<text x="335.70" y="341.70" font-size="8.2" fill="#222" font-weight="normal" text-anchor="middle" stroke="#222" stroke-width="0.15">(32)</text>
<text x="359.50" y="341.70" font-size="8.2" fill="#222" font-weight="normal" text-anchor="middle" stroke="#222" stroke-width="0.15">(48)</text>
<text x="298.0" y="276.0" font-size="7.0" fill="#505050" text-anchor="middle" stroke="#505050" stroke-width="0.12" textLength="60" lengthAdjust="spacingAndGlyphs" transform="rotate(-90 298.0 276.0)">MFI BTLA (x10<tspan font-size="4.76" dy="-2.6">3</tspan><tspan dy="2.6">)</tspan></text>
<line x1="401.20" y1="229.80" x2="401.20" y2="322.60" stroke="#333" stroke-width="1.3" />
<line x1="400.60" y1="322.00" x2="457.00" y2="322.00" stroke="#333" stroke-width="1.3" />
<line x1="398.60" y1="322.00" x2="401.20" y2="322.00" stroke="#333" stroke-width="1.1" />
<text x="397.60" y="324.20" font-size="6.2" fill="#333" font-weight="bold" text-anchor="end" >0</text>
<line x1="398.60" y1="303.68" x2="401.20" y2="303.68" stroke="#333" stroke-width="1.1" />
<text x="397.60" y="305.88" font-size="6.2" fill="#333" font-weight="bold" text-anchor="end" >20</text>
<line x1="398.60" y1="285.36" x2="401.20" y2="285.36" stroke="#333" stroke-width="1.1" />
<text x="397.60" y="287.56" font-size="6.2" fill="#333" font-weight="bold" text-anchor="end" >40</text>
<line x1="398.60" y1="267.04" x2="401.20" y2="267.04" stroke="#333" stroke-width="1.1" />
<text x="397.60" y="269.24" font-size="6.2" fill="#333" font-weight="bold" text-anchor="end" >60</text>
<line x1="398.60" y1="248.72" x2="401.20" y2="248.72" stroke="#333" stroke-width="1.1" />
<text x="397.60" y="250.92" font-size="6.2" fill="#333" font-weight="bold" text-anchor="end" >80</text>
<line x1="398.60" y1="230.40" x2="401.20" y2="230.40" stroke="#333" stroke-width="1.1" />
<text x="397.60" y="232.60" font-size="6.2" fill="#333" font-weight="bold" text-anchor="end" >100</text>
<text x="428.70" y="231.50" font-size="9.3" fill="#111" font-weight="normal" text-anchor="middle" stroke="#111" stroke-width="0.2">DN</text>
<text x="418.00" y="331.40" font-size="8.2" fill="#222" font-weight="normal" text-anchor="middle" stroke="#222" stroke-width="0.15">HC</text>
<text x="444.00" y="331.40" font-size="8.2" fill="#222" font-weight="normal" text-anchor="middle" stroke="#222" stroke-width="0.15">SLE</text>
<text x="418.00" y="341.20" font-size="8.2" fill="#222" font-weight="normal" text-anchor="middle" stroke="#222" stroke-width="0.15">(32)</text>
<text x="444.00" y="341.20" font-size="8.2" fill="#222" font-weight="normal" text-anchor="middle" stroke="#222" stroke-width="0.15">(48)</text>
<text x="382.0" y="274.8" font-size="7.0" fill="#505050" text-anchor="middle" stroke="#505050" stroke-width="0.12" textLength="57" lengthAdjust="spacingAndGlyphs" transform="rotate(-90 382.0 274.8)">MFI BTLA (x10<tspan font-size="4.76" dy="-2.6">3</tspan><tspan dy="2.6">)</tspan></text>
<line x1="483.80" y1="229.30" x2="483.80" y2="322.00" stroke="#333" stroke-width="1.3" />
<line x1="483.20" y1="321.40" x2="539.70" y2="321.40" stroke="#333" stroke-width="1.3" />
<line x1="481.20" y1="321.40" x2="483.80" y2="321.40" stroke="#333" stroke-width="1.1" />
<text x="480.20" y="323.60" font-size="6.2" fill="#333" font-weight="bold" text-anchor="end" >0</text>
<line x1="481.20" y1="303.10" x2="483.80" y2="303.10" stroke="#333" stroke-width="1.1" />
<text x="480.20" y="305.30" font-size="6.2" fill="#333" font-weight="bold" text-anchor="end" >20</text>
<line x1="481.20" y1="284.80" x2="483.80" y2="284.80" stroke="#333" stroke-width="1.1" />
<text x="480.20" y="287.00" font-size="6.2" fill="#333" font-weight="bold" text-anchor="end" >40</text>
<line x1="481.20" y1="266.50" x2="483.80" y2="266.50" stroke="#333" stroke-width="1.1" />
<text x="480.20" y="268.70" font-size="6.2" fill="#333" font-weight="bold" text-anchor="end" >60</text>
<line x1="481.20" y1="248.20" x2="483.80" y2="248.20" stroke="#333" stroke-width="1.1" />
<text x="480.20" y="250.40" font-size="6.2" fill="#333" font-weight="bold" text-anchor="end" >80</text>
<line x1="481.20" y1="229.90" x2="483.80" y2="229.90" stroke="#333" stroke-width="1.1" />
<text x="480.20" y="232.10" font-size="6.2" fill="#333" font-weight="bold" text-anchor="end" >100</text>
<text x="518.00" y="231.50" font-size="9.3" fill="#d060b0" font-weight="normal" text-anchor="middle" stroke="#d060b0" stroke-width="0.2">PB</text>
<text x="504.00" y="330.80" font-size="8.2" fill="#222" font-weight="normal" text-anchor="middle" stroke="#222" stroke-width="0.15">HC</text>
<text x="528.00" y="330.80" font-size="8.2" fill="#222" font-weight="normal" text-anchor="middle" stroke="#222" stroke-width="0.15">SLE</text>
<text x="504.00" y="340.60" font-size="8.2" fill="#222" font-weight="normal" text-anchor="middle" stroke="#222" stroke-width="0.15">(23)</text>
<text x="528.00" y="340.60" font-size="8.2" fill="#222" font-weight="normal" text-anchor="middle" stroke="#222" stroke-width="0.15">(36)</text>
<text x="466.8" y="272.3" font-size="7.0" fill="#505050" text-anchor="middle" stroke="#505050" stroke-width="0.12" textLength="53" lengthAdjust="spacingAndGlyphs" transform="rotate(-90 466.8 272.3)">MFI BTLA (x10<tspan font-size="4.76" dy="-2.6">3</tspan><tspan dy="2.6">)</tspan></text>
<circle cx="164.00" cy="246.41" r="1.60" fill="#fff" stroke="#3434d4" stroke-width="1.0" />
<circle cx="162.25" cy="270.99" r="1.60" fill="#fff" stroke="#3434d4" stroke-width="1.0" />
<circle cx="165.75" cy="271.80" r="1.60" fill="#fff" stroke="#3434d4" stroke-width="1.0" />
<circle cx="158.75" cy="267.53" r="1.60" fill="#fff" stroke="#3434d4" stroke-width="1.0" />
<circle cx="162.25" cy="268.41" r="1.60" fill="#fff" stroke="#3434d4" stroke-width="1.0" />
<circle cx="165.75" cy="269.02" r="1.60" fill="#fff" stroke="#3434d4" stroke-width="1.0" />
<circle cx="169.25" cy="269.95" r="1.60" fill="#fff" stroke="#3434d4" stroke-width="1.0" />
<circle cx="162.25" cy="280.00" r="1.60" fill="#fff" stroke="#3434d4" stroke-width="1.0" />
<circle cx="165.75" cy="280.68" r="1.60" fill="#fff" stroke="#3434d4" stroke-width="1.0" />
<circle cx="162.25" cy="277.45" r="1.60" fill="#fff" stroke="#3434d4" stroke-width="1.0" />
<circle cx="165.75" cy="278.97" r="1.60" fill="#fff" stroke="#3434d4" stroke-width="1.0" />
<circle cx="160.50" cy="274.65" r="1.60" fill="#fff" stroke="#3434d4" stroke-width="1.0" />
<circle cx="164.00" cy="275.47" r="1.60" fill="#fff" stroke="#3434d4" stroke-width="1.0" />
<circle cx="167.50" cy="276.74" r="1.60" fill="#fff" stroke="#3434d4" stroke-width="1.0" />
<circle cx="162.25" cy="287.14" r="1.60" fill="#fff" stroke="#3434d4" stroke-width="1.0" />
<circle cx="165.75" cy="288.92" r="1.60" fill="#fff" stroke="#3434d4" stroke-width="1.0" />
<circle cx="160.50" cy="283.56" r="1.60" fill="#fff" stroke="#3434d4" stroke-width="1.0" />
<circle cx="164.00" cy="284.86" r="1.60" fill="#fff" stroke="#3434d4" stroke-width="1.0" />
<circle cx="167.50" cy="286.33" r="1.60" fill="#fff" stroke="#3434d4" stroke-width="1.0" />
<circle cx="158.75" cy="292.81" r="1.60" fill="#fff" stroke="#3434d4" stroke-width="1.0" />
<circle cx="162.25" cy="293.26" r="1.60" fill="#fff" stroke="#3434d4" stroke-width="1.0" />
<circle cx="165.75" cy="293.94" r="1.60" fill="#fff" stroke="#3434d4" stroke-width="1.0" />
<circle cx="169.25" cy="294.75" r="1.60" fill="#fff" stroke="#3434d4" stroke-width="1.0" />
<circle cx="158.75" cy="289.98" r="1.60" fill="#fff" stroke="#3434d4" stroke-width="1.0" />
<circle cx="162.25" cy="290.58" r="1.60" fill="#fff" stroke="#3434d4" stroke-width="1.0" />
<circle cx="165.75" cy="291.17" r="1.60" fill="#fff" stroke="#3434d4" stroke-width="1.0" />
<circle cx="169.25" cy="291.80" r="1.60" fill="#fff" stroke="#3434d4" stroke-width="1.0" />
<circle cx="164.00" cy="302.62" r="1.60" fill="#fff" stroke="#3434d4" stroke-width="1.0" />
<circle cx="162.25" cy="299.34" r="1.60" fill="#fff" stroke="#3434d4" stroke-width="1.0" />
<circle cx="165.75" cy="300.94" r="1.60" fill="#fff" stroke="#3434d4" stroke-width="1.0" />
<circle cx="162.25" cy="296.38" r="1.60" fill="#fff" stroke="#3434d4" stroke-width="1.0" />
<circle cx="165.75" cy="298.03" r="1.60" fill="#fff" stroke="#3434d4" stroke-width="1.0" />
<line x1="155.50" y1="289.63" x2="172.50" y2="289.63" stroke="#2a2aa0" stroke-width="0.7" />
<circle cx="186.50" cy="248.84" r="1.80" fill="#1c1cd0" stroke="none" stroke-width="0" />
<circle cx="189.50" cy="249.97" r="1.80" fill="#1c1cd0" stroke="none" stroke-width="0" />
<circle cx="188.00" cy="275.08" r="1.80" fill="#1c1cd0" stroke="none" stroke-width="0" />
<circle cx="188.00" cy="272.72" r="1.80" fill="#1c1cd0" stroke="none" stroke-width="0" />
<circle cx="185.00" cy="284.95" r="1.80" fill="#1c1cd0" stroke="none" stroke-width="0" />
<circle cx="188.00" cy="285.38" r="1.80" fill="#1c1cd0" stroke="none" stroke-width="0" />
<circle cx="191.00" cy="287.12" r="1.80" fill="#1c1cd0" stroke="none" stroke-width="0" />
<circle cx="186.50" cy="283.24" r="1.80" fill="#1c1cd0" stroke="none" stroke-width="0" />
<circle cx="189.50" cy="284.11" r="1.80" fill="#1c1cd0" stroke="none" stroke-width="0" />
<circle cx="183.50" cy="279.92" r="1.80" fill="#1c1cd0" stroke="none" stroke-width="0" />
<circle cx="186.50" cy="280.58" r="1.80" fill="#1c1cd0" stroke="none" stroke-width="0" />
<circle cx="189.50" cy="281.49" r="1.80" fill="#1c1cd0" stroke="none" stroke-width="0" />
<circle cx="192.50" cy="282.05" r="1.80" fill="#1c1cd0" stroke="none" stroke-width="0" />
<circle cx="186.50" cy="278.23" r="1.80" fill="#1c1cd0" stroke="none" stroke-width="0" />
<circle cx="189.50" cy="278.99" r="1.80" fill="#1c1cd0" stroke="none" stroke-width="0" />
<circle cx="183.50" cy="295.43" r="1.80" fill="#1c1cd0" stroke="none" stroke-width="0" />
<circle cx="186.50" cy="295.91" r="1.80" fill="#1c1cd0" stroke="none" stroke-width="0" />
<circle cx="189.50" cy="296.31" r="1.80" fill="#1c1cd0" stroke="none" stroke-width="0" />
<circle cx="192.50" cy="296.77" r="1.80" fill="#1c1cd0" stroke="none" stroke-width="0" />
<circle cx="179.50" cy="292.63" r="1.80" fill="#1c1cd0" stroke="none" stroke-width="0" />
<circle cx="182.33" cy="293.20" r="1.80" fill="#1c1cd0" stroke="none" stroke-width="0" />
<circle cx="185.17" cy="293.48" r="1.80" fill="#1c1cd0" stroke="none" stroke-width="0" />
<circle cx="188.00" cy="293.80" r="1.80" fill="#1c1cd0" stroke="none" stroke-width="0" />
<circle cx="190.83" cy="294.24" r="1.80" fill="#1c1cd0" stroke="none" stroke-width="0" />
<circle cx="193.67" cy="294.62" r="1.80" fill="#1c1cd0" stroke="none" stroke-width="0" />
<circle cx="196.50" cy="295.08" r="1.80" fill="#1c1cd0" stroke="none" stroke-width="0" />
<circle cx="180.50" cy="290.23" r="1.80" fill="#1c1cd0" stroke="none" stroke-width="0" />
<circle cx="183.50" cy="290.78" r="1.80" fill="#1c1cd0" stroke="none" stroke-width="0" />
<circle cx="186.50" cy="291.06" r="1.80" fill="#1c1cd0" stroke="none" stroke-width="0" />
<circle cx="189.50" cy="291.50" r="1.80" fill="#1c1cd0" stroke="none" stroke-width="0" />
<circle cx="192.50" cy="291.82" r="1.80" fill="#1c1cd0" stroke="none" stroke-width="0" />
<circle cx="195.50" cy="292.20" r="1.80" fill="#1c1cd0" stroke="none" stroke-width="0" />
<circle cx="179.50" cy="287.42" r="1.80" fill="#1c1cd0" stroke="none" stroke-width="0" />
<circle cx="182.33" cy="288.00" r="1.80" fill="#1c1cd0" stroke="none" stroke-width="0" />
<circle cx="185.17" cy="288.18" r="1.80" fill="#1c1cd0" stroke="none" stroke-width="0" />
<circle cx="188.00" cy="288.62" r="1.80" fill="#1c1cd0" stroke="none" stroke-width="0" />
<circle cx="190.83" cy="289.21" r="1.80" fill="#1c1cd0" stroke="none" stroke-width="0" />
<circle cx="193.67" cy="289.56" r="1.80" fill="#1c1cd0" stroke="none" stroke-width="0" />
<circle cx="196.50" cy="289.89" r="1.80" fill="#1c1cd0" stroke="none" stroke-width="0" />
<circle cx="188.00" cy="303.93" r="1.80" fill="#1c1cd0" stroke="none" stroke-width="0" />
<circle cx="186.50" cy="301.41" r="1.80" fill="#1c1cd0" stroke="none" stroke-width="0" />
<circle cx="189.50" cy="302.77" r="1.80" fill="#1c1cd0" stroke="none" stroke-width="0" />
<circle cx="185.00" cy="298.31" r="1.80" fill="#1c1cd0" stroke="none" stroke-width="0" />
<circle cx="188.00" cy="299.74" r="1.80" fill="#1c1cd0" stroke="none" stroke-width="0" />
<circle cx="191.00" cy="300.27" r="1.80" fill="#1c1cd0" stroke="none" stroke-width="0" />
<circle cx="188.00" cy="309.44" r="1.80" fill="#1c1cd0" stroke="none" stroke-width="0" />
<circle cx="186.50" cy="306.80" r="1.80" fill="#1c1cd0" stroke="none" stroke-width="0" />
<circle cx="189.50" cy="307.73" r="1.80" fill="#1c1cd0" stroke="none" stroke-width="0" />
<line x1="179.50" y1="290.55" x2="196.50" y2="290.55" stroke="#2a2aa0" stroke-width="0.7" />
<rect x="244.50" y="280.00" width="18.00" height="32.00" fill="#dcf8f8" stroke="none" stroke-width="1" />
<rect x="248.00" y="262.00" width="11.00" height="20.00" fill="#eafcfc" stroke="none" stroke-width="1" />
<rect x="267.00" y="279.00" width="17.00" height="33.00" fill="#dcf8f8" stroke="none" stroke-width="1" />
<rect x="243.00" y="246.00" width="12.00" height="12.00" fill="#f0fbfb" stroke="none" stroke-width="1" />
<rect x="271.00" y="248.00" width="8.00" height="10.00" fill="#f0fbfb" stroke="none" stroke-width="1" />
<circle cx="253.50" cy="260.16" r="1.60" fill="#e8fbc8" stroke="#78c028" stroke-width="1.0" />
<circle cx="253.50" cy="279.21" r="1.60" fill="#e8fbc8" stroke="#78c028" stroke-width="1.0" />
<circle cx="253.50" cy="287.48" r="1.60" fill="#e8fbc8" stroke="#78c028" stroke-width="1.0" />
<circle cx="250.10" cy="283.98" r="1.60" fill="#e8fbc8" stroke="#78c028" stroke-width="1.0" />
<circle cx="253.50" cy="285.08" r="1.60" fill="#e8fbc8" stroke="#78c028" stroke-width="1.0" />
<circle cx="256.90" cy="285.83" r="1.60" fill="#e8fbc8" stroke="#78c028" stroke-width="1.0" />
<circle cx="253.50" cy="282.31" r="1.60" fill="#e8fbc8" stroke="#78c028" stroke-width="1.0" />
<circle cx="251.80" cy="293.72" r="1.60" fill="#e8fbc8" stroke="#78c028" stroke-width="1.0" />
<circle cx="255.20" cy="295.12" r="1.60" fill="#e8fbc8" stroke="#78c028" stroke-width="1.0" />
<circle cx="250.10" cy="289.93" r="1.60" fill="#e8fbc8" stroke="#78c028" stroke-width="1.0" />
<circle cx="253.50" cy="290.86" r="1.60" fill="#e8fbc8" stroke="#78c028" stroke-width="1.0" />
<circle cx="256.90" cy="292.29" r="1.60" fill="#e8fbc8" stroke="#78c028" stroke-width="1.0" />
<circle cx="248.40" cy="301.59" r="1.60" fill="#e8fbc8" stroke="#78c028" stroke-width="1.0" />
<circle cx="251.80" cy="301.90" r="1.60" fill="#e8fbc8" stroke="#78c028" stroke-width="1.0" />
<circle cx="255.20" cy="302.58" r="1.60" fill="#e8fbc8" stroke="#78c028" stroke-width="1.0" />
<circle cx="258.60" cy="304.03" r="1.60" fill="#e8fbc8" stroke="#78c028" stroke-width="1.0" />
<circle cx="245.00" cy="298.77" r="1.60" fill="#e8fbc8" stroke="#78c028" stroke-width="1.0" />
<circle cx="248.40" cy="299.26" r="1.60" fill="#e8fbc8" stroke="#78c028" stroke-width="1.0" />
<circle cx="251.80" cy="299.73" r="1.60" fill="#e8fbc8" stroke="#78c028" stroke-width="1.0" />
<circle cx="255.20" cy="300.21" r="1.60" fill="#e8fbc8" stroke="#78c028" stroke-width="1.0" />
<circle cx="258.60" cy="300.52" r="1.60" fill="#e8fbc8" stroke="#78c028" stroke-width="1.0" />
<circle cx="262.00" cy="300.96" r="1.60" fill="#e8fbc8" stroke="#78c028" stroke-width="1.0" />
<circle cx="246.70" cy="296.54" r="1.60" fill="#e8fbc8" stroke="#78c028" stroke-width="1.0" />
<circle cx="250.10" cy="296.87" r="1.60" fill="#e8fbc8" stroke="#78c028" stroke-width="1.0" />
<circle cx="253.50" cy="297.41" r="1.60" fill="#e8fbc8" stroke="#78c028" stroke-width="1.0" />
<circle cx="256.90" cy="297.89" r="1.60" fill="#e8fbc8" stroke="#78c028" stroke-width="1.0" />
<circle cx="260.30" cy="298.33" r="1.60" fill="#e8fbc8" stroke="#78c028" stroke-width="1.0" />
<circle cx="251.80" cy="307.56" r="1.60" fill="#e8fbc8" stroke="#78c028" stroke-width="1.0" />
<circle cx="255.20" cy="308.63" r="1.60" fill="#e8fbc8" stroke="#78c028" stroke-width="1.0" />
<circle cx="250.10" cy="304.69" r="1.60" fill="#e8fbc8" stroke="#78c028" stroke-width="1.0" />
<circle cx="253.50" cy="305.97" r="1.60" fill="#e8fbc8" stroke="#78c028" stroke-width="1.0" />
<circle cx="256.90" cy="306.92" r="1.60" fill="#e8fbc8" stroke="#78c028" stroke-width="1.0" />
<line x1="245.00" y1="298.13" x2="262.00" y2="298.13" stroke="#333" stroke-width="0.8" />
<circle cx="275.00" cy="253.23" r="1.80" fill="#88b020" stroke="none" stroke-width="0" />
<circle cx="275.00" cy="275.14" r="1.80" fill="#30dc30" stroke="none" stroke-width="0" />
<circle cx="273.50" cy="282.91" r="1.80" fill="#88b020" stroke="none" stroke-width="0" />
<circle cx="276.50" cy="283.95" r="1.80" fill="#30dc30" stroke="none" stroke-width="0" />
<circle cx="275.00" cy="281.76" r="1.80" fill="#30dc30" stroke="none" stroke-width="0" />
<circle cx="272.00" cy="290.23" r="1.80" fill="#30dc30" stroke="none" stroke-width="0" />
<circle cx="275.00" cy="291.08" r="1.80" fill="#30dc30" stroke="none" stroke-width="0" />
<circle cx="278.00" cy="292.27" r="1.80" fill="#88b020" stroke="none" stroke-width="0" />
<circle cx="272.00" cy="287.64" r="1.80" fill="#30dc30" stroke="none" stroke-width="0" />
<circle cx="275.00" cy="288.73" r="1.80" fill="#88b020" stroke="none" stroke-width="0" />
<circle cx="278.00" cy="289.34" r="1.80" fill="#30dc30" stroke="none" stroke-width="0" />
<circle cx="273.50" cy="286.02" r="1.80" fill="#88b020" stroke="none" stroke-width="0" />
<circle cx="276.50" cy="286.88" r="1.80" fill="#30dc30" stroke="none" stroke-width="0" />
<circle cx="270.50" cy="300.38" r="1.80" fill="#30dc30" stroke="none" stroke-width="0" />
<circle cx="273.50" cy="300.76" r="1.80" fill="#30dc30" stroke="none" stroke-width="0" />
<circle cx="276.50" cy="302.19" r="1.80" fill="#30dc30" stroke="none" stroke-width="0" />
<circle cx="279.50" cy="302.49" r="1.80" fill="#30dc30" stroke="none" stroke-width="0" />
<circle cx="266.50" cy="297.74" r="1.80" fill="#88b020" stroke="none" stroke-width="0" />
<circle cx="269.33" cy="298.17" r="1.80" fill="#88b020" stroke="none" stroke-width="0" />
<circle cx="272.17" cy="298.56" r="1.80" fill="#88b020" stroke="none" stroke-width="0" />
<circle cx="275.00" cy="298.79" r="1.80" fill="#30dc30" stroke="none" stroke-width="0" />
<circle cx="277.83" cy="299.16" r="1.80" fill="#30dc30" stroke="none" stroke-width="0" />
<circle cx="280.67" cy="299.51" r="1.80" fill="#88b020" stroke="none" stroke-width="0" />
<circle cx="283.50" cy="299.86" r="1.80" fill="#30dc30" stroke="none" stroke-width="0" />
<circle cx="266.50" cy="295.22" r="1.80" fill="#88b020" stroke="none" stroke-width="0" />
<circle cx="269.33" cy="295.54" r="1.80" fill="#30dc30" stroke="none" stroke-width="0" />
<circle cx="272.17" cy="295.92" r="1.80" fill="#88b020" stroke="none" stroke-width="0" />
<circle cx="275.00" cy="296.40" r="1.80" fill="#30dc30" stroke="none" stroke-width="0" />
<circle cx="277.83" cy="296.59" r="1.80" fill="#30dc30" stroke="none" stroke-width="0" />
<circle cx="280.67" cy="296.96" r="1.80" fill="#30dc30" stroke="none" stroke-width="0" />
<circle cx="283.50" cy="297.35" r="1.80" fill="#30dc30" stroke="none" stroke-width="0" />
<circle cx="270.50" cy="293.67" r="1.80" fill="#30dc30" stroke="none" stroke-width="0" />
<circle cx="273.50" cy="294.22" r="1.80" fill="#88b020" stroke="none" stroke-width="0" />
<circle cx="276.50" cy="294.50" r="1.80" fill="#88b020" stroke="none" stroke-width="0" />
<circle cx="279.50" cy="294.92" r="1.80" fill="#30dc30" stroke="none" stroke-width="0" />
<circle cx="272.00" cy="308.66" r="1.80" fill="#30dc30" stroke="none" stroke-width="0" />
<circle cx="275.00" cy="309.13" r="1.80" fill="#30dc30" stroke="none" stroke-width="0" />
<circle cx="278.00" cy="309.57" r="1.80" fill="#30dc30" stroke="none" stroke-width="0" />
<circle cx="269.00" cy="305.86" r="1.80" fill="#30dc30" stroke="none" stroke-width="0" />
<circle cx="272.00" cy="306.30" r="1.80" fill="#30dc30" stroke="none" stroke-width="0" />
<circle cx="275.00" cy="306.83" r="1.80" fill="#88b020" stroke="none" stroke-width="0" />
<circle cx="278.00" cy="307.48" r="1.80" fill="#88b020" stroke="none" stroke-width="0" />
<circle cx="281.00" cy="307.92" r="1.80" fill="#30dc30" stroke="none" stroke-width="0" />
<circle cx="269.00" cy="303.20" r="1.80" fill="#88b020" stroke="none" stroke-width="0" />
<circle cx="272.00" cy="303.79" r="1.80" fill="#30dc30" stroke="none" stroke-width="0" />
<circle cx="275.00" cy="304.25" r="1.80" fill="#30dc30" stroke="none" stroke-width="0" />
<circle cx="278.00" cy="304.74" r="1.80" fill="#30dc30" stroke="none" stroke-width="0" />
<circle cx="281.00" cy="305.35" r="1.80" fill="#88b020" stroke="none" stroke-width="0" />
<line x1="266.50" y1="298.13" x2="283.50" y2="298.13" stroke="#333" stroke-width="0.8" />
<rect x="328.00" y="281.00" width="15.50" height="31.00" fill="#fbe0f0" stroke="none" stroke-width="1" />
<rect x="352.00" y="281.00" width="15.70" height="31.00" fill="#fbe0f0" stroke="none" stroke-width="1" />
<circle cx="335.70" cy="284.07" r="1.60" fill="#f02818" stroke="#a07030" stroke-width="0.7" />
<circle cx="332.50" cy="290.27" r="1.60" fill="#f02818" stroke="#a07030" stroke-width="0.7" />
<circle cx="335.70" cy="290.95" r="1.60" fill="#f02818" stroke="#a07030" stroke-width="0.7" />
<circle cx="338.90" cy="292.20" r="1.60" fill="#f02818" stroke="#a07030" stroke-width="0.7" />
<circle cx="332.50" cy="298.50" r="1.60" fill="#f02818" stroke="#a07030" stroke-width="0.7" />
<circle cx="335.70" cy="300.12" r="1.60" fill="#f02818" stroke="#a07030" stroke-width="0.7" />
<circle cx="338.90" cy="300.36" r="1.60" fill="#f02818" stroke="#a07030" stroke-width="0.7" />
<circle cx="332.50" cy="295.70" r="1.60" fill="#f02818" stroke="#a07030" stroke-width="0.7" />
<circle cx="335.70" cy="296.30" r="1.60" fill="#f02818" stroke="#a07030" stroke-width="0.7" />
<circle cx="338.90" cy="297.69" r="1.60" fill="#f02818" stroke="#a07030" stroke-width="0.7" />
<circle cx="334.10" cy="294.08" r="1.60" fill="#f02818" stroke="#a07030" stroke-width="0.7" />
<circle cx="337.30" cy="294.90" r="1.60" fill="#f02818" stroke="#a07030" stroke-width="0.7" />
<circle cx="330.90" cy="304.18" r="1.60" fill="#f02818" stroke="#a07030" stroke-width="0.7" />
<circle cx="334.10" cy="305.43" r="1.60" fill="#f02818" stroke="#a07030" stroke-width="0.7" />
<circle cx="337.30" cy="305.93" r="1.60" fill="#f02818" stroke="#a07030" stroke-width="0.7" />
<circle cx="340.50" cy="306.24" r="1.60" fill="#f02818" stroke="#a07030" stroke-width="0.7" />
<circle cx="327.70" cy="301.09" r="1.60" fill="#f02818" stroke="#a07030" stroke-width="0.7" />
<circle cx="330.90" cy="301.52" r="1.60" fill="#f02818" stroke="#a07030" stroke-width="0.7" />
<circle cx="334.10" cy="302.16" r="1.60" fill="#f02818" stroke="#a07030" stroke-width="0.7" />
<circle cx="337.30" cy="302.64" r="1.60" fill="#f02818" stroke="#a07030" stroke-width="0.7" />
<circle cx="340.50" cy="302.98" r="1.60" fill="#f02818" stroke="#a07030" stroke-width="0.7" />
<circle cx="343.70" cy="303.64" r="1.60" fill="#f02818" stroke="#a07030" stroke-width="0.7" />
<circle cx="327.70" cy="306.69" r="1.60" fill="#f02818" stroke="#a07030" stroke-width="0.7" />
<circle cx="330.90" cy="307.04" r="1.60" fill="#f02818" stroke="#a07030" stroke-width="0.7" />
<circle cx="334.10" cy="307.32" r="1.60" fill="#f02818" stroke="#a07030" stroke-width="0.7" />
<circle cx="337.30" cy="307.86" r="1.60" fill="#f02818" stroke="#a07030" stroke-width="0.7" />
<circle cx="340.50" cy="308.18" r="1.60" fill="#f02818" stroke="#a07030" stroke-width="0.7" />
<circle cx="343.70" cy="308.64" r="1.60" fill="#f02818" stroke="#a07030" stroke-width="0.7" />
<circle cx="335.70" cy="312.25" r="1.60" fill="#f02818" stroke="#a07030" stroke-width="0.7" />
<circle cx="332.50" cy="310.10" r="1.60" fill="#f02818" stroke="#a07030" stroke-width="0.7" />
<circle cx="335.70" cy="310.65" r="1.60" fill="#f02818" stroke="#a07030" stroke-width="0.7" />
<circle cx="338.90" cy="311.31" r="1.60" fill="#f02818" stroke="#a07030" stroke-width="0.7" />
<circle cx="335.70" cy="284.07" r="0.60" fill="#ffd0c8" stroke="none" stroke-width="1" />
<circle cx="332.50" cy="290.27" r="0.60" fill="#ffd0c8" stroke="none" stroke-width="1" />
<circle cx="335.70" cy="290.95" r="0.60" fill="#ffd0c8" stroke="none" stroke-width="1" />
<circle cx="338.90" cy="292.20" r="0.60" fill="#ffd0c8" stroke="none" stroke-width="1" />
<circle cx="332.50" cy="298.50" r="0.60" fill="#ffd0c8" stroke="none" stroke-width="1" />
<circle cx="335.70" cy="300.12" r="0.60" fill="#ffd0c8" stroke="none" stroke-width="1" />
<circle cx="338.90" cy="300.36" r="0.60" fill="#ffd0c8" stroke="none" stroke-width="1" />
<circle cx="332.50" cy="295.70" r="0.60" fill="#ffd0c8" stroke="none" stroke-width="1" />
<circle cx="335.70" cy="296.30" r="0.60" fill="#ffd0c8" stroke="none" stroke-width="1" />
<circle cx="338.90" cy="297.69" r="0.60" fill="#ffd0c8" stroke="none" stroke-width="1" />
<circle cx="334.10" cy="294.08" r="0.60" fill="#ffd0c8" stroke="none" stroke-width="1" />
<circle cx="337.30" cy="294.90" r="0.60" fill="#ffd0c8" stroke="none" stroke-width="1" />
<circle cx="330.90" cy="304.18" r="0.60" fill="#ffd0c8" stroke="none" stroke-width="1" />
<circle cx="334.10" cy="305.43" r="0.60" fill="#ffd0c8" stroke="none" stroke-width="1" />
<circle cx="337.30" cy="305.93" r="0.60" fill="#ffd0c8" stroke="none" stroke-width="1" />
<circle cx="340.50" cy="306.24" r="0.60" fill="#ffd0c8" stroke="none" stroke-width="1" />
<circle cx="327.70" cy="301.09" r="0.60" fill="#ffd0c8" stroke="none" stroke-width="1" />
<circle cx="330.90" cy="301.52" r="0.60" fill="#ffd0c8" stroke="none" stroke-width="1" />
<circle cx="334.10" cy="302.16" r="0.60" fill="#ffd0c8" stroke="none" stroke-width="1" />
<circle cx="337.30" cy="302.64" r="0.60" fill="#ffd0c8" stroke="none" stroke-width="1" />
<circle cx="340.50" cy="302.98" r="0.60" fill="#ffd0c8" stroke="none" stroke-width="1" />
<circle cx="343.70" cy="303.64" r="0.60" fill="#ffd0c8" stroke="none" stroke-width="1" />
<circle cx="327.70" cy="306.69" r="0.60" fill="#ffd0c8" stroke="none" stroke-width="1" />
<circle cx="330.90" cy="307.04" r="0.60" fill="#ffd0c8" stroke="none" stroke-width="1" />
<circle cx="334.10" cy="307.32" r="0.60" fill="#ffd0c8" stroke="none" stroke-width="1" />
<circle cx="337.30" cy="307.86" r="0.60" fill="#ffd0c8" stroke="none" stroke-width="1" />
<circle cx="340.50" cy="308.18" r="0.60" fill="#ffd0c8" stroke="none" stroke-width="1" />
<circle cx="343.70" cy="308.64" r="0.60" fill="#ffd0c8" stroke="none" stroke-width="1" />
<circle cx="335.70" cy="312.25" r="0.60" fill="#ffd0c8" stroke="none" stroke-width="1" />
<circle cx="332.50" cy="310.10" r="0.60" fill="#ffd0c8" stroke="none" stroke-width="1" />
<circle cx="335.70" cy="310.65" r="0.60" fill="#ffd0c8" stroke="none" stroke-width="1" />
<circle cx="338.90" cy="311.31" r="0.60" fill="#ffd0c8" stroke="none" stroke-width="1" />
<line x1="327.00" y1="304.30" x2="345.00" y2="304.30" stroke="#552" stroke-width="1.2" />
<circle cx="359.50" cy="285.48" r="1.90" fill="#f41414" stroke="none" stroke-width="0" />
<circle cx="359.50" cy="284.56" r="1.90" fill="#907020" stroke="none" stroke-width="0" />
<circle cx="356.50" cy="292.53" r="1.90" fill="#f41414" stroke="none" stroke-width="0" />
<circle cx="359.50" cy="293.55" r="1.90" fill="#f41414" stroke="none" stroke-width="0" />
<circle cx="362.50" cy="294.60" r="1.90" fill="#907020" stroke="none" stroke-width="0" />
<circle cx="359.50" cy="290.83" r="1.90" fill="#f41414" stroke="none" stroke-width="0" />
<circle cx="358.00" cy="288.34" r="1.90" fill="#f41414" stroke="none" stroke-width="0" />
<circle cx="361.00" cy="289.76" r="1.90" fill="#907020" stroke="none" stroke-width="0" />
<circle cx="352.00" cy="300.44" r="1.90" fill="#f41414" stroke="none" stroke-width="0" />
<circle cx="355.00" cy="300.74" r="1.90" fill="#907020" stroke="none" stroke-width="0" />
<circle cx="358.00" cy="301.10" r="1.90" fill="#907020" stroke="none" stroke-width="0" />
<circle cx="361.00" cy="301.59" r="1.90" fill="#f41414" stroke="none" stroke-width="0" />
<circle cx="364.00" cy="301.86" r="1.90" fill="#f41414" stroke="none" stroke-width="0" />
<circle cx="367.00" cy="302.32" r="1.90" fill="#907020" stroke="none" stroke-width="0" />
<circle cx="351.50" cy="297.73" r="1.90" fill="#f41414" stroke="none" stroke-width="0" />
<circle cx="354.17" cy="298.22" r="1.90" fill="#907020" stroke="none" stroke-width="0" />
<circle cx="356.83" cy="298.48" r="1.90" fill="#f41414" stroke="none" stroke-width="0" />
<circle cx="359.50" cy="298.91" r="1.90" fill="#f41414" stroke="none" stroke-width="0" />
<circle cx="362.17" cy="299.36" r="1.90" fill="#f41414" stroke="none" stroke-width="0" />
<circle cx="364.83" cy="299.63" r="1.90" fill="#f41414" stroke="none" stroke-width="0" />
<circle cx="367.50" cy="300.04" r="1.90" fill="#f41414" stroke="none" stroke-width="0" />
<circle cx="355.00" cy="296.39" r="1.90" fill="#f41414" stroke="none" stroke-width="0" />
<circle cx="358.00" cy="296.71" r="1.90" fill="#907020" stroke="none" stroke-width="0" />
<circle cx="361.00" cy="296.97" r="1.90" fill="#f41414" stroke="none" stroke-width="0" />
<circle cx="364.00" cy="297.38" r="1.90" fill="#907020" stroke="none" stroke-width="0" />
<circle cx="355.00" cy="308.28" r="1.90" fill="#f41414" stroke="none" stroke-width="0" />
<circle cx="358.00" cy="308.62" r="1.90" fill="#f41414" stroke="none" stroke-width="0" />
<circle cx="361.00" cy="310.00" r="1.90" fill="#f41414" stroke="none" stroke-width="0" />
<circle cx="364.00" cy="310.32" r="1.90" fill="#f41414" stroke="none" stroke-width="0" />
<circle cx="351.50" cy="305.67" r="1.90" fill="#907020" stroke="none" stroke-width="0" />
<circle cx="353.79" cy="305.93" r="1.90" fill="#f41414" stroke="none" stroke-width="0" />
<circle cx="356.07" cy="306.20" r="1.90" fill="#f41414" stroke="none" stroke-width="0" />
<circle cx="358.36" cy="306.67" r="1.90" fill="#f41414" stroke="none" stroke-width="0" />
<circle cx="360.64" cy="306.95" r="1.90" fill="#f41414" stroke="none" stroke-width="0" />
<circle cx="362.93" cy="307.38" r="1.90" fill="#f41414" stroke="none" stroke-width="0" />
<circle cx="365.21" cy="307.74" r="1.90" fill="#f41414" stroke="none" stroke-width="0" />
<circle cx="367.50" cy="308.01" r="1.90" fill="#f41414" stroke="none" stroke-width="0" />
<circle cx="352.00" cy="303.53" r="1.90" fill="#f41414" stroke="none" stroke-width="0" />
<circle cx="355.00" cy="303.90" r="1.90" fill="#f41414" stroke="none" stroke-width="0" />
<circle cx="358.00" cy="304.16" r="1.90" fill="#f41414" stroke="none" stroke-width="0" />
<circle cx="361.00" cy="304.50" r="1.90" fill="#f41414" stroke="none" stroke-width="0" />
<circle cx="364.00" cy="304.95" r="1.90" fill="#907020" stroke="none" stroke-width="0" />
<circle cx="367.00" cy="305.24" r="1.90" fill="#f41414" stroke="none" stroke-width="0" />
<circle cx="353.50" cy="310.77" r="1.90" fill="#907020" stroke="none" stroke-width="0" />
<circle cx="356.50" cy="311.24" r="1.90" fill="#f41414" stroke="none" stroke-width="0" />
<circle cx="359.50" cy="311.40" r="1.90" fill="#f41414" stroke="none" stroke-width="0" />
<circle cx="362.50" cy="311.83" r="1.90" fill="#907020" stroke="none" stroke-width="0" />
<circle cx="365.50" cy="312.25" r="1.90" fill="#907020" stroke="none" stroke-width="0" />
<path d="M418,253.3 L418,247.3 L445,247.3 L445,253.3" fill="none" stroke="#555" stroke-width="1.1" />
<circle cx="429.00" cy="242.00" r="1.45" fill="#111" stroke="none" stroke-width="1" />
<circle cx="433.60" cy="242.00" r="1.45" fill="#111" stroke="none" stroke-width="1" />
<circle cx="418.00" cy="270.45" r="1.75" fill="#111" stroke="none" stroke-width="0" />
<circle cx="416.40" cy="282.23" r="1.75" fill="#111" stroke="none" stroke-width="0" />
<circle cx="419.60" cy="283.02" r="1.75" fill="#111" stroke="none" stroke-width="0" />
<circle cx="416.40" cy="292.95" r="1.75" fill="#111" stroke="none" stroke-width="0" />
<circle cx="419.60" cy="294.14" r="1.75" fill="#111" stroke="none" stroke-width="0" />
<circle cx="416.40" cy="290.94" r="1.75" fill="#111" stroke="none" stroke-width="0" />
<circle cx="419.60" cy="291.57" r="1.75" fill="#111" stroke="none" stroke-width="0" />
<circle cx="416.40" cy="288.40" r="1.75" fill="#111" stroke="none" stroke-width="0" />
<circle cx="419.60" cy="289.77" r="1.75" fill="#111" stroke="none" stroke-width="0" />
<circle cx="414.80" cy="301.44" r="1.75" fill="#111" stroke="none" stroke-width="0" />
<circle cx="418.00" cy="302.89" r="1.75" fill="#111" stroke="none" stroke-width="0" />
<circle cx="421.20" cy="303.49" r="1.75" fill="#111" stroke="none" stroke-width="0" />
<circle cx="413.20" cy="298.79" r="1.75" fill="#111" stroke="none" stroke-width="0" />
<circle cx="416.40" cy="299.36" r="1.75" fill="#111" stroke="none" stroke-width="0" />
<circle cx="419.60" cy="300.08" r="1.75" fill="#111" stroke="none" stroke-width="0" />
<circle cx="422.80" cy="300.88" r="1.75" fill="#111" stroke="none" stroke-width="0" />
<circle cx="413.20" cy="295.87" r="1.75" fill="#111" stroke="none" stroke-width="0" />
<circle cx="416.40" cy="296.37" r="1.75" fill="#111" stroke="none" stroke-width="0" />
<circle cx="419.60" cy="297.30" r="1.75" fill="#111" stroke="none" stroke-width="0" />
<circle cx="422.80" cy="297.98" r="1.75" fill="#111" stroke="none" stroke-width="0" />
<circle cx="414.80" cy="306.75" r="1.75" fill="#111" stroke="none" stroke-width="0" />
<circle cx="418.00" cy="307.28" r="1.75" fill="#111" stroke="none" stroke-width="0" />
<circle cx="421.20" cy="307.93" r="1.75" fill="#111" stroke="none" stroke-width="0" />
<circle cx="411.60" cy="304.14" r="1.75" fill="#111" stroke="none" stroke-width="0" />
<circle cx="414.80" cy="304.72" r="1.75" fill="#111" stroke="none" stroke-width="0" />
<circle cx="418.00" cy="305.30" r="1.75" fill="#111" stroke="none" stroke-width="0" />
<circle cx="421.20" cy="305.75" r="1.75" fill="#111" stroke="none" stroke-width="0" />
<circle cx="424.40" cy="306.38" r="1.75" fill="#111" stroke="none" stroke-width="0" />
<circle cx="413.20" cy="309.70" r="1.75" fill="#111" stroke="none" stroke-width="0" />
<circle cx="416.40" cy="310.23" r="1.75" fill="#111" stroke="none" stroke-width="0" />
<circle cx="419.60" cy="311.10" r="1.75" fill="#111" stroke="none" stroke-width="0" />
<circle cx="422.80" cy="311.67" r="1.75" fill="#111" stroke="none" stroke-width="0" />
<line x1="410.00" y1="301.85" x2="426.00" y2="301.85" stroke="#111" stroke-width="0.6" />
<circle cx="442.50" cy="290.66" r="1.80" fill="#111" stroke="none" stroke-width="0" />
<circle cx="445.50" cy="292.47" r="1.80" fill="#111" stroke="none" stroke-width="0" />
<circle cx="444.00" cy="289.33" r="1.80" fill="#111" stroke="none" stroke-width="0" />
<circle cx="442.50" cy="295.77" r="1.80" fill="#111" stroke="none" stroke-width="0" />
<circle cx="445.50" cy="297.02" r="1.80" fill="#111" stroke="none" stroke-width="0" />
<circle cx="441.00" cy="292.95" r="1.80" fill="#111" stroke="none" stroke-width="0" />
<circle cx="444.00" cy="293.82" r="1.80" fill="#111" stroke="none" stroke-width="0" />
<circle cx="447.00" cy="295.05" r="1.80" fill="#111" stroke="none" stroke-width="0" />
<circle cx="439.50" cy="303.54" r="1.80" fill="#111" stroke="none" stroke-width="0" />
<circle cx="442.50" cy="304.68" r="1.80" fill="#111" stroke="none" stroke-width="0" />
<circle cx="445.50" cy="305.03" r="1.80" fill="#111" stroke="none" stroke-width="0" />
<circle cx="448.50" cy="305.43" r="1.80" fill="#111" stroke="none" stroke-width="0" />
<circle cx="436.50" cy="300.71" r="1.80" fill="#111" stroke="none" stroke-width="0" />
<circle cx="439.50" cy="301.07" r="1.80" fill="#111" stroke="none" stroke-width="0" />
<circle cx="442.50" cy="301.54" r="1.80" fill="#111" stroke="none" stroke-width="0" />
<circle cx="445.50" cy="302.10" r="1.80" fill="#111" stroke="none" stroke-width="0" />
<circle cx="448.50" cy="302.50" r="1.80" fill="#111" stroke="none" stroke-width="0" />
<circle cx="451.50" cy="302.87" r="1.80" fill="#111" stroke="none" stroke-width="0" />
<circle cx="438.00" cy="298.38" r="1.80" fill="#111" stroke="none" stroke-width="0" />
<circle cx="441.00" cy="298.97" r="1.80" fill="#111" stroke="none" stroke-width="0" />
<circle cx="444.00" cy="299.37" r="1.80" fill="#111" stroke="none" stroke-width="0" />
<circle cx="447.00" cy="299.90" r="1.80" fill="#111" stroke="none" stroke-width="0" />
<circle cx="450.00" cy="300.25" r="1.80" fill="#111" stroke="none" stroke-width="0" />
<circle cx="436.50" cy="308.17" r="1.80" fill="#111" stroke="none" stroke-width="0" />
<circle cx="439.50" cy="308.63" r="1.80" fill="#111" stroke="none" stroke-width="0" />
<circle cx="442.50" cy="308.97" r="1.80" fill="#111" stroke="none" stroke-width="0" />
<circle cx="445.50" cy="309.21" r="1.80" fill="#111" stroke="none" stroke-width="0" />
<circle cx="448.50" cy="309.65" r="1.80" fill="#111" stroke="none" stroke-width="0" />
<circle cx="451.50" cy="309.90" r="1.80" fill="#111" stroke="none" stroke-width="0" />
<circle cx="436.00" cy="305.88" r="1.80" fill="#111" stroke="none" stroke-width="0" />
<circle cx="438.67" cy="306.07" r="1.80" fill="#111" stroke="none" stroke-width="0" />
<circle cx="441.33" cy="306.56" r="1.80" fill="#111" stroke="none" stroke-width="0" />
<circle cx="444.00" cy="306.79" r="1.80" fill="#111" stroke="none" stroke-width="0" />
<circle cx="446.67" cy="307.15" r="1.80" fill="#111" stroke="none" stroke-width="0" />
<circle cx="449.33" cy="307.43" r="1.80" fill="#111" stroke="none" stroke-width="0" />
<circle cx="452.00" cy="307.87" r="1.80" fill="#111" stroke="none" stroke-width="0" />
<circle cx="439.50" cy="313.48" r="1.80" fill="#111" stroke="none" stroke-width="0" />
<circle cx="442.50" cy="314.09" r="1.80" fill="#111" stroke="none" stroke-width="0" />
<circle cx="445.50" cy="314.75" r="1.80" fill="#111" stroke="none" stroke-width="0" />
<circle cx="448.50" cy="315.17" r="1.80" fill="#111" stroke="none" stroke-width="0" />
<circle cx="439.50" cy="311.31" r="1.80" fill="#111" stroke="none" stroke-width="0" />
<circle cx="442.50" cy="311.73" r="1.80" fill="#111" stroke="none" stroke-width="0" />
<circle cx="445.50" cy="312.29" r="1.80" fill="#111" stroke="none" stroke-width="0" />
<circle cx="448.50" cy="313.14" r="1.80" fill="#111" stroke="none" stroke-width="0" />
<circle cx="444.00" cy="318.79" r="1.80" fill="#111" stroke="none" stroke-width="0" />
<circle cx="441.00" cy="316.76" r="1.80" fill="#111" stroke="none" stroke-width="0" />
<circle cx="444.00" cy="317.63" r="1.80" fill="#111" stroke="none" stroke-width="0" />
<circle cx="447.00" cy="318.24" r="1.80" fill="#111" stroke="none" stroke-width="0" />
<line x1="436.00" y1="305.51" x2="452.00" y2="305.51" stroke="#111" stroke-width="0.6" />
<rect x="496.00" y="280.00" width="16.40" height="31.50" fill="#fad8f0" stroke="none" stroke-width="1" />
<rect x="520.00" y="280.00" width="16.30" height="31.50" fill="#fad8f0" stroke="none" stroke-width="1" />
<circle cx="502.25" cy="284.48" r="1.60" fill="#fbe0f0" stroke="#903070" stroke-width="1.0" />
<circle cx="505.75" cy="286.32" r="1.60" fill="#fbe0f0" stroke="#903070" stroke-width="1.0" />
<circle cx="500.50" cy="280.53" r="1.60" fill="#fbe0f0" stroke="#903070" stroke-width="1.0" />
<circle cx="504.00" cy="282.31" r="1.60" fill="#fbe0f0" stroke="#903070" stroke-width="1.0" />
<circle cx="507.50" cy="283.06" r="1.60" fill="#fbe0f0" stroke="#903070" stroke-width="1.0" />
<circle cx="504.00" cy="294.46" r="1.60" fill="#fbe0f0" stroke="#903070" stroke-width="1.0" />
<circle cx="502.25" cy="291.07" r="1.60" fill="#fbe0f0" stroke="#903070" stroke-width="1.0" />
<circle cx="505.75" cy="292.12" r="1.60" fill="#fbe0f0" stroke="#903070" stroke-width="1.0" />
<circle cx="504.00" cy="288.81" r="1.60" fill="#fbe0f0" stroke="#903070" stroke-width="1.0" />
<circle cx="496.50" cy="298.62" r="1.60" fill="#fbe0f0" stroke="#903070" stroke-width="1.0" />
<circle cx="499.00" cy="299.00" r="1.60" fill="#fbe0f0" stroke="#903070" stroke-width="1.0" />
<circle cx="501.50" cy="299.36" r="1.60" fill="#fbe0f0" stroke="#903070" stroke-width="1.0" />
<circle cx="504.00" cy="299.95" r="1.60" fill="#fbe0f0" stroke="#903070" stroke-width="1.0" />
<circle cx="506.50" cy="300.37" r="1.60" fill="#fbe0f0" stroke="#903070" stroke-width="1.0" />
<circle cx="509.00" cy="300.56" r="1.60" fill="#fbe0f0" stroke="#903070" stroke-width="1.0" />
<circle cx="511.50" cy="301.08" r="1.60" fill="#fbe0f0" stroke="#903070" stroke-width="1.0" />
<circle cx="502.25" cy="297.89" r="1.60" fill="#fbe0f0" stroke="#903070" stroke-width="1.0" />
<circle cx="505.75" cy="298.33" r="1.60" fill="#fbe0f0" stroke="#903070" stroke-width="1.0" />
<circle cx="502.25" cy="305.26" r="1.60" fill="#fbe0f0" stroke="#903070" stroke-width="1.0" />
<circle cx="505.75" cy="306.24" r="1.60" fill="#fbe0f0" stroke="#903070" stroke-width="1.0" />
<circle cx="504.00" cy="303.35" r="1.60" fill="#fbe0f0" stroke="#903070" stroke-width="1.0" />
<circle cx="502.25" cy="307.99" r="1.60" fill="#fbe0f0" stroke="#903070" stroke-width="1.0" />
<circle cx="505.75" cy="309.52" r="1.60" fill="#fbe0f0" stroke="#903070" stroke-width="1.0" />
<line x1="495.50" y1="300.35" x2="512.50" y2="300.35" stroke="#c02080" stroke-width="1.6" />
<circle cx="528.00" cy="270.77" r="1.70" fill="#d02888" stroke="#902060" stroke-width="0.4" />
<circle cx="524.70" cy="283.83" r="1.70" fill="#d02888" stroke="#902060" stroke-width="0.4" />
<circle cx="528.00" cy="285.27" r="1.70" fill="#d02888" stroke="#902060" stroke-width="0.4" />
<circle cx="531.30" cy="285.80" r="1.70" fill="#d02888" stroke="#902060" stroke-width="0.4" />
<circle cx="526.35" cy="281.99" r="1.70" fill="#d02888" stroke="#902060" stroke-width="0.4" />
<circle cx="529.65" cy="283.16" r="1.70" fill="#d02888" stroke="#902060" stroke-width="0.4" />
<circle cx="528.00" cy="280.44" r="1.70" fill="#d02888" stroke="#902060" stroke-width="0.4" />
<circle cx="524.70" cy="292.68" r="1.70" fill="#d02888" stroke="#902060" stroke-width="0.4" />
<circle cx="528.00" cy="293.69" r="1.70" fill="#d02888" stroke="#902060" stroke-width="0.4" />
<circle cx="531.30" cy="295.17" r="1.70" fill="#d02888" stroke="#902060" stroke-width="0.4" />
<circle cx="523.05" cy="289.69" r="1.70" fill="#d02888" stroke="#902060" stroke-width="0.4" />
<circle cx="526.35" cy="290.35" r="1.70" fill="#d02888" stroke="#902060" stroke-width="0.4" />
<circle cx="529.65" cy="291.17" r="1.70" fill="#d02888" stroke="#902060" stroke-width="0.4" />
<circle cx="532.95" cy="291.97" r="1.70" fill="#d02888" stroke="#902060" stroke-width="0.4" />
<circle cx="526.35" cy="288.14" r="1.70" fill="#d02888" stroke="#902060" stroke-width="0.4" />
<circle cx="529.65" cy="288.59" r="1.70" fill="#d02888" stroke="#902060" stroke-width="0.4" />
<circle cx="521.40" cy="298.74" r="1.70" fill="#d02888" stroke="#902060" stroke-width="0.4" />
<circle cx="524.70" cy="299.43" r="1.70" fill="#d02888" stroke="#902060" stroke-width="0.4" />
<circle cx="528.00" cy="300.01" r="1.70" fill="#d02888" stroke="#902060" stroke-width="0.4" />
<circle cx="531.30" cy="300.62" r="1.70" fill="#d02888" stroke="#902060" stroke-width="0.4" />
<circle cx="534.60" cy="301.09" r="1.70" fill="#d02888" stroke="#902060" stroke-width="0.4" />
<circle cx="519.75" cy="295.63" r="1.70" fill="#d02888" stroke="#902060" stroke-width="0.4" />
<circle cx="523.05" cy="296.34" r="1.70" fill="#d02888" stroke="#902060" stroke-width="0.4" />
<circle cx="526.35" cy="296.58" r="1.70" fill="#d02888" stroke="#902060" stroke-width="0.4" />
<circle cx="529.65" cy="297.34" r="1.70" fill="#d02888" stroke="#902060" stroke-width="0.4" />
<circle cx="532.95" cy="297.92" r="1.70" fill="#d02888" stroke="#902060" stroke-width="0.4" />
<circle cx="536.25" cy="298.37" r="1.70" fill="#d02888" stroke="#902060" stroke-width="0.4" />
<circle cx="523.05" cy="304.93" r="1.70" fill="#d02888" stroke="#902060" stroke-width="0.4" />
<circle cx="526.35" cy="305.62" r="1.70" fill="#d02888" stroke="#902060" stroke-width="0.4" />
<circle cx="529.65" cy="306.57" r="1.70" fill="#d02888" stroke="#902060" stroke-width="0.4" />
<circle cx="532.95" cy="307.21" r="1.70" fill="#d02888" stroke="#902060" stroke-width="0.4" />
<circle cx="524.70" cy="302.54" r="1.70" fill="#d02888" stroke="#902060" stroke-width="0.4" />
<circle cx="528.00" cy="303.17" r="1.70" fill="#d02888" stroke="#902060" stroke-width="0.4" />
<circle cx="531.30" cy="304.08" r="1.70" fill="#d02888" stroke="#902060" stroke-width="0.4" />
<circle cx="526.35" cy="309.29" r="1.70" fill="#d02888" stroke="#902060" stroke-width="0.4" />
<circle cx="529.65" cy="310.16" r="1.70" fill="#d02888" stroke="#902060" stroke-width="0.4" />
<line x1="519.50" y1="296.69" x2="536.50" y2="296.69" stroke="#c02080" stroke-width="1.6" />
<text x="5.80" y="374.90" font-size="11.8" fill="#000" font-weight="bold" text-anchor="start" stroke="#000" stroke-width="0.3">D</text>
<text x="27.40" y="373.30" font-size="9.5" fill="#1a1a1a" font-weight="normal" text-anchor="start" stroke="#1a1a1a" stroke-width="0.12">Gated on CD19<tspan font-size="5.6" dy="-3.8">+</tspan><tspan dy="3.8"> cells</tspan></text>
<rect x="13.50" y="380.80" width="100.00" height="88.50" fill="none" stroke="#8a8a8a" stroke-width="1.1" />
<path d="M14.00,469.00 L14.00,469.00 L14.38,469.00 L14.77,469.00 L15.15,469.00 L15.53,469.00 L15.92,469.00 L16.30,469.00 L16.68,469.00 L17.07,469.00 L17.45,469.00 L17.83,469.00 L18.22,469.00 L18.60,469.00 L18.98,469.00 L19.37,469.00 L19.75,469.00 L20.13,469.00 L20.52,469.00 L20.90,469.00 L21.28,469.00 L21.67,469.00 L22.05,469.00 L22.43,468.99 L22.82,468.98 L23.20,468.96 L23.58,468.92 L23.97,468.84 L24.35,468.69 L24.73,468.42 L25.12,467.96 L25.50,467.65 L25.88,465.99 L26.27,463.89 L26.65,462.03 L27.03,458.03 L27.42,453.36 L27.80,447.42 L28.18,439.48 L28.57,431.17 L28.95,422.66 L29.33,412.81 L29.72,404.96 L30.10,397.20 L30.48,392.78 L30.87,390.38 L31.25,390.64 L31.63,391.56 L32.02,393.09 L32.40,395.45 L32.78,398.77 L33.17,403.12 L33.55,407.54 L33.93,411.89 L34.32,417.72 L34.70,422.42 L35.08,427.68 L35.47,432.13 L35.85,436.86 L36.23,441.05 L36.62,445.45 L37.00,449.07 L37.38,452.52 L37.77,455.37 L38.15,458.34 L38.53,460.55 L38.92,461.64 L39.30,463.36 L39.68,464.36 L40.07,465.85 L40.45,466.96 L40.83,466.81 L41.22,467.59 L41.60,467.96 L41.98,468.25 L42.37,468.46 L42.75,468.62 L43.13,468.73 L43.52,468.81 L43.90,468.87 L44.28,468.91 L44.67,468.94 L45.05,468.96 L45.43,468.97 L45.82,468.98 L46.20,468.99 L46.58,468.99 L46.97,469.00 L47.35,469.00 L47.73,469.00 L48.12,469.00 L48.50,469.00 L48.88,469.00 L49.27,469.00 L49.65,469.00 L50.03,469.00 L50.42,469.00 L50.80,469.00 L51.18,469.00 L51.57,469.00 L51.95,469.00 L52.33,469.00 L52.72,469.00 L53.10,469.00 L53.48,469.00 L53.87,469.00 L54.25,469.00 L54.63,469.00 L55.02,469.00 L55.40,469.00 L55.78,469.00 L56.17,469.00 L56.55,469.00 L56.93,469.00 L57.32,469.00 L57.70,469.00 L58.08,469.00 L58.47,469.00 L58.85,469.00 L59.23,469.00 L59.62,469.00 L60.00,469.00 L60.00,469.00" fill="#8a8a8a" stroke="#7a7a7a" stroke-width="0.7" stroke-linejoin="round"/>
<path d="M14.00,469.00 L14.82,469.00 L15.63,469.00 L16.45,469.00 L17.27,469.00 L18.08,469.00 L18.90,469.00 L19.72,469.00 L20.53,469.00 L21.35,469.00 L22.17,469.00 L22.98,469.00 L23.80,469.00 L24.62,469.00 L25.43,469.00 L26.25,469.00 L27.07,469.00 L27.88,469.00 L28.70,469.00 L29.52,469.00 L30.33,469.00 L31.15,469.00 L31.97,469.00 L32.78,469.00 L33.60,469.00 L34.42,469.00 L35.23,469.00 L36.05,469.00 L36.87,469.00 L37.68,469.00 L38.50,469.00 L39.32,469.00 L40.13,468.99 L40.95,468.98 L41.77,468.97 L42.58,468.94 L43.40,468.88 L44.22,468.79 L45.03,468.64 L45.85,468.41 L46.67,468.08 L47.48,467.61 L48.30,467.25 L49.12,465.98 L49.93,464.71 L50.75,464.31 L51.57,462.56 L52.38,460.89 L53.20,459.45 L54.02,457.28 L54.83,455.08 L55.65,452.18 L56.47,448.44 L57.28,443.96 L58.10,437.97 L58.92,431.10 L59.73,423.64 L60.55,415.88 L61.37,408.78 L62.18,402.09 L63.00,397.69 L63.82,394.79 L64.63,395.17 L65.45,399.84 L66.27,407.15 L67.08,417.74 L67.90,429.30 L68.72,440.32 L69.53,449.63 L70.35,456.85 L71.17,461.45 L71.98,465.32 L72.80,466.33 L73.62,467.93 L74.43,468.51 L75.25,468.79 L76.07,468.91 L76.88,468.97 L77.70,468.99 L78.52,469.00 L79.33,469.00 L80.15,469.00 L80.97,469.00 L81.78,469.00 L82.60,469.00 L83.42,469.00 L84.23,469.00 L85.05,469.00 L85.87,469.00 L86.68,469.00 L87.50,469.00 L88.32,469.00 L89.13,469.00 L89.95,469.00 L90.77,469.00 L91.58,469.00 L92.40,469.00 L93.22,469.00 L94.03,469.00 L94.85,469.00 L95.67,469.00 L96.48,469.00 L97.30,469.00 L98.12,469.00 L98.93,469.00 L99.75,469.00 L100.57,469.00 L101.38,469.00 L102.20,469.00 L103.02,469.00 L103.83,469.00 L104.65,469.00 L105.47,469.00 L106.28,469.00 L107.10,469.00 L107.92,469.00 L108.73,469.00 L109.55,469.00 L110.37,469.00 L111.18,469.00 L112.00,469.00" fill="none" stroke="#b87850" stroke-width="1.4" stroke-linejoin="round"/>
<path d="M14.00,469.00 L14.82,469.00 L15.63,469.00 L16.45,469.00 L17.27,469.00 L18.08,469.00 L18.90,469.00 L19.72,469.00 L20.53,469.00 L21.35,469.00 L22.17,469.00 L22.98,469.00 L23.80,469.00 L24.62,469.00 L25.43,469.00 L26.25,469.00 L27.07,469.00 L27.88,469.00 L28.70,469.00 L29.52,469.00 L30.33,469.00 L31.15,469.00 L31.97,469.00 L32.78,469.00 L33.60,469.00 L34.42,469.00 L35.23,469.00 L36.05,469.00 L36.87,469.00 L37.68,469.00 L38.50,469.00 L39.32,469.00 L40.13,469.00 L40.95,469.00 L41.77,468.99 L42.58,468.98 L43.40,468.96 L44.22,468.93 L45.03,468.88 L45.85,468.80 L46.67,468.67 L47.48,468.48 L48.30,468.22 L49.12,467.86 L49.93,467.75 L50.75,466.59 L51.57,466.66 L52.38,465.18 L53.20,465.49 L54.02,464.70 L54.83,464.39 L55.65,463.47 L56.47,462.49 L57.28,462.47 L58.10,460.67 L58.92,458.29 L59.73,455.79 L60.55,451.48 L61.37,446.07 L62.18,439.45 L63.00,432.73 L63.82,426.87 L64.63,421.62 L65.45,418.12 L66.27,417.61 L67.08,418.75 L67.90,420.92 L68.72,423.92 L69.53,427.85 L70.35,432.24 L71.17,436.63 L71.98,440.99 L72.80,445.33 L73.62,448.71 L74.43,452.64 L75.25,455.54 L76.07,458.02 L76.88,459.67 L77.70,461.95 L78.52,463.66 L79.33,464.68 L80.15,466.66 L80.97,467.30 L81.78,467.69 L82.60,468.15 L83.42,468.47 L84.23,468.68 L85.05,468.82 L85.87,468.90 L86.68,468.95 L87.50,468.97 L88.32,468.99 L89.13,468.99 L89.95,469.00 L90.77,469.00 L91.58,469.00 L92.40,469.00 L93.22,469.00 L94.03,469.00 L94.85,469.00 L95.67,469.00 L96.48,469.00 L97.30,469.00 L98.12,469.00 L98.93,469.00 L99.75,469.00 L100.57,469.00 L101.38,469.00 L102.20,469.00 L103.02,469.00 L103.83,469.00 L104.65,469.00 L105.47,469.00 L106.28,469.00 L107.10,469.00 L107.92,469.00 L108.73,469.00 L109.55,469.00 L110.37,469.00 L111.18,469.00 L112.00,469.00" fill="none" stroke="#98c848" stroke-width="1.4" stroke-linejoin="round"/>
<path d="M14.00,469.00 L14.82,469.00 L15.63,469.00 L16.45,469.00 L17.27,469.00 L18.08,469.00 L18.90,469.00 L19.72,469.00 L20.53,469.00 L21.35,469.00 L22.17,469.00 L22.98,469.00 L23.80,469.00 L24.62,469.00 L25.43,469.00 L26.25,469.00 L27.07,469.00 L27.88,469.00 L28.70,469.00 L29.52,469.00 L30.33,469.00 L31.15,469.00 L31.97,469.00 L32.78,469.00 L33.60,469.00 L34.42,469.00 L35.23,469.00 L36.05,469.00 L36.87,469.00 L37.68,469.00 L38.50,469.00 L39.32,469.00 L40.13,469.00 L40.95,469.00 L41.77,469.00 L42.58,468.99 L43.40,468.98 L44.22,468.97 L45.03,468.94 L45.85,468.90 L46.67,468.82 L47.48,468.70 L48.30,468.53 L49.12,468.28 L49.93,467.94 L50.75,467.50 L51.57,466.96 L52.38,466.51 L53.20,465.25 L54.02,464.39 L54.83,463.62 L55.65,462.48 L56.47,460.55 L57.28,457.37 L58.10,454.43 L58.92,449.91 L59.73,443.50 L60.55,436.09 L61.37,427.58 L62.18,417.99 L63.00,409.93 L63.82,403.79 L64.63,400.52 L65.45,399.57 L66.27,404.33 L67.08,412.48 L67.90,422.87 L68.72,434.35 L69.53,445.11 L70.35,453.45 L71.17,459.24 L71.98,463.99 L72.80,465.91 L73.62,467.65 L74.43,468.39 L75.25,468.75 L76.07,468.90 L76.88,468.96 L77.70,468.99 L78.52,469.00 L79.33,469.00 L80.15,469.00 L80.97,469.00 L81.78,469.00 L82.60,469.00 L83.42,469.00 L84.23,469.00 L85.05,469.00 L85.87,469.00 L86.68,469.00 L87.50,469.00 L88.32,469.00 L89.13,469.00 L89.95,469.00 L90.77,469.00 L91.58,469.00 L92.40,469.00 L93.22,469.00 L94.03,469.00 L94.85,469.00 L95.67,469.00 L96.48,469.00 L97.30,469.00 L98.12,469.00 L98.93,469.00 L99.75,469.00 L100.57,469.00 L101.38,469.00 L102.20,469.00 L103.02,469.00 L103.83,469.00 L104.65,469.00 L105.47,469.00 L106.28,469.00 L107.10,469.00 L107.92,469.00 L108.73,469.00 L109.55,469.00 L110.37,469.00 L111.18,469.00 L112.00,469.00" fill="none" stroke="#222" stroke-width="1.4" stroke-linejoin="round"/>
<path d="M14.00,469.00 L14.82,469.00 L15.63,469.00 L16.45,469.00 L17.27,469.00 L18.08,469.00 L18.90,469.00 L19.72,469.00 L20.53,469.00 L21.35,469.00 L22.17,469.00 L22.98,469.00 L23.80,469.00 L24.62,469.00 L25.43,469.00 L26.25,469.00 L27.07,469.00 L27.88,469.00 L28.70,469.00 L29.52,469.00 L30.33,469.00 L31.15,469.00 L31.97,469.00 L32.78,469.00 L33.60,469.00 L34.42,469.00 L35.23,469.00 L36.05,469.00 L36.87,469.00 L37.68,469.00 L38.50,469.00 L39.32,469.00 L40.13,469.00 L40.95,469.00 L41.77,469.00 L42.58,469.00 L43.40,469.00 L44.22,469.00 L45.03,469.00 L45.85,469.00 L46.67,469.00 L47.48,469.00 L48.30,469.00 L49.12,469.00 L49.93,469.00 L50.75,469.00 L51.57,469.00 L52.38,469.00 L53.20,469.00 L54.02,468.99 L54.83,468.98 L55.65,468.94 L56.47,468.85 L57.28,468.61 L58.10,468.09 L58.92,466.91 L59.73,465.34 L60.55,461.71 L61.37,455.65 L62.18,447.42 L63.00,436.86 L63.82,424.22 L64.63,410.67 L65.45,398.86 L66.27,390.29 L67.08,387.26 L67.90,390.36 L68.72,399.48 L69.53,412.73 L70.35,427.18 L71.17,440.46 L71.98,451.35 L72.80,458.49 L73.62,463.19 L74.43,466.53 L75.25,467.81 L76.07,468.51 L76.88,468.82 L77.70,468.94 L78.52,468.98 L79.33,468.99 L80.15,469.00 L80.97,469.00 L81.78,469.00 L82.60,469.00 L83.42,469.00 L84.23,469.00 L85.05,469.00 L85.87,469.00 L86.68,469.00 L87.50,469.00 L88.32,469.00 L89.13,469.00 L89.95,469.00 L90.77,469.00 L91.58,469.00 L92.40,469.00 L93.22,469.00 L94.03,469.00 L94.85,469.00 L95.67,469.00 L96.48,469.00 L97.30,469.00 L98.12,469.00 L98.93,469.00 L99.75,469.00 L100.57,469.00 L101.38,469.00 L102.20,469.00 L103.02,469.00 L103.83,469.00 L104.65,469.00 L105.47,469.00 L106.28,469.00 L107.10,469.00 L107.92,469.00 L108.73,469.00 L109.55,469.00 L110.37,469.00 L111.18,469.00 L112.00,469.00" fill="none" stroke="#4444d8" stroke-width="1.5" stroke-linejoin="round"/>
<line x1="13.50" y1="469.30" x2="112.80" y2="469.30" stroke="#333" stroke-width="1.2" />
<line x1="81.60" y1="387.40" x2="91.20" y2="387.40" stroke="#4444d8" stroke-width="1.4" />
<text x="92.80" y="390.00" font-size="7.4" fill="#333" font-weight="normal" text-anchor="start" transform="translate(13.92 0) scale(0.85 1)">Naive</text>
<line x1="81.60" y1="394.70" x2="91.20" y2="394.70" stroke="#98c848" stroke-width="1.4" />
<text x="92.80" y="397.30" font-size="7.4" fill="#333" font-weight="normal" text-anchor="start" transform="translate(13.92 0) scale(0.85 1)">NS</text>
<line x1="81.60" y1="402.00" x2="91.20" y2="402.00" stroke="#b87850" stroke-width="1.4" />
<text x="92.80" y="404.60" font-size="7.4" fill="#333" font-weight="normal" text-anchor="start" transform="translate(13.92 0) scale(0.85 1)">SM</text>
<line x1="81.60" y1="409.30" x2="91.20" y2="409.30" stroke="#222" stroke-width="1.4" />
<text x="92.80" y="411.90" font-size="7.4" fill="#333" font-weight="normal" text-anchor="start" transform="translate(13.92 0) scale(0.85 1)">DN</text>
<rect x="81.60" y="415.00" width="9.60" height="3.20" fill="#888" stroke="none" stroke-width="1" />
<text x="92.80" y="419.20" font-size="7.4" fill="#333" font-weight="normal" text-anchor="start" transform="translate(13.92 0) scale(0.85 1)">FMO</text>
<text x="25.20" y="479.50" font-size="5.0" fill="#555" font-weight="normal" text-anchor="middle" >0</text>
<text x="42.70" y="479.50" font-size="5.0" fill="#555" font-weight="normal" text-anchor="middle" >10<tspan font-size="3.3" dy="-1.6">3</tspan></text>
<text x="67.20" y="479.50" font-size="5.0" fill="#555" font-weight="normal" text-anchor="middle" >10<tspan font-size="3.3" dy="-1.6">4</tspan></text>
<text x="90.00" y="479.50" font-size="5.0" fill="#555" font-weight="normal" text-anchor="middle" >10<tspan font-size="3.3" dy="-1.6">5</tspan></text>
<text x="111.60" y="479.50" font-size="5.0" fill="#555" font-weight="normal" text-anchor="middle" >10<tspan font-size="3.3" dy="-1.6">6</tspan></text>
<line x1="12.00" y1="489.20" x2="57.00" y2="489.20" stroke="#333" stroke-width="1" />
<path d="M56.5,486.5 L61.5,489.2 L56.5,491.9 Z" fill="#111" stroke="none" stroke-width="1" />
<text x="65.90" y="492.60" font-size="9.3" fill="#111" font-weight="normal" text-anchor="start" stroke="#111" stroke-width="0.25">HVEM</text>
<line x1="150.50" y1="383.10" x2="150.50" y2="475.10" stroke="#222" stroke-width="1.3" />
<line x1="149.90" y1="474.50" x2="207.00" y2="474.50" stroke="#222" stroke-width="1.3" />
<line x1="147.90" y1="474.50" x2="150.50" y2="474.50" stroke="#222" stroke-width="1.1" />
<text x="146.90" y="476.70" font-size="6.2" fill="#333" font-weight="bold" text-anchor="end" >0</text>
<line x1="147.90" y1="456.34" x2="150.50" y2="456.34" stroke="#222" stroke-width="1.1" />
<text x="146.90" y="458.54" font-size="6.2" fill="#333" font-weight="bold" text-anchor="end" >5</text>
<line x1="147.90" y1="438.18" x2="150.50" y2="438.18" stroke="#222" stroke-width="1.1" />
<text x="146.90" y="440.38" font-size="6.2" fill="#333" font-weight="bold" text-anchor="end" >10</text>
<line x1="147.90" y1="420.02" x2="150.50" y2="420.02" stroke="#222" stroke-width="1.1" />
<text x="146.90" y="422.22" font-size="6.2" fill="#333" font-weight="bold" text-anchor="end" >15</text>
<line x1="147.90" y1="401.86" x2="150.50" y2="401.86" stroke="#222" stroke-width="1.1" />
<text x="146.90" y="404.06" font-size="6.2" fill="#333" font-weight="bold" text-anchor="end" >20</text>
<line x1="147.90" y1="383.70" x2="150.50" y2="383.70" stroke="#222" stroke-width="1.1" />
<text x="146.90" y="385.90" font-size="6.2" fill="#333" font-weight="bold" text-anchor="end" >25</text>
<text x="184.20" y="377.60" font-size="9.3" fill="#3030c0" font-weight="normal" text-anchor="middle" stroke="#3030c0" stroke-width="0.2">Naive</text>
<text x="166.30" y="487.00" font-size="8.2" fill="#222" font-weight="normal" text-anchor="middle" stroke="#222" stroke-width="0.15">HC</text>
<text x="191.50" y="487.00" font-size="8.2" fill="#222" font-weight="normal" text-anchor="middle" stroke="#222" stroke-width="0.15">SLE</text>
<text x="166.30" y="497.40" font-size="8.2" fill="#222" font-weight="normal" text-anchor="middle" stroke="#222" stroke-width="0.15">(16)</text>
<text x="191.50" y="497.40" font-size="8.2" fill="#222" font-weight="normal" text-anchor="middle" stroke="#222" stroke-width="0.15">(24)</text>
<text x="131.2" y="425.9" font-size="7.2" fill="#505050" text-anchor="middle" stroke="#505050" stroke-width="0.12" textLength="64.5" lengthAdjust="spacingAndGlyphs" transform="rotate(-90 131.2 425.9)">MFI HVEM (x10<tspan font-size="4.90" dy="-2.6">3</tspan><tspan dy="2.6">)</tspan></text>
<line x1="236.20" y1="381.30" x2="236.20" y2="474.10" stroke="#333" stroke-width="1.3" />
<line x1="235.60" y1="473.50" x2="290.80" y2="473.50" stroke="#333" stroke-width="1.3" />
<line x1="233.60" y1="473.50" x2="236.20" y2="473.50" stroke="#333" stroke-width="1.1" />
<text x="232.60" y="475.70" font-size="6.2" fill="#333" font-weight="bold" text-anchor="end" >0</text>
<line x1="233.60" y1="455.18" x2="236.20" y2="455.18" stroke="#333" stroke-width="1.1" />
<text x="232.60" y="457.38" font-size="6.2" fill="#333" font-weight="bold" text-anchor="end" >5</text>
<line x1="233.60" y1="436.86" x2="236.20" y2="436.86" stroke="#333" stroke-width="1.1" />
<text x="232.60" y="439.06" font-size="6.2" fill="#333" font-weight="bold" text-anchor="end" >10</text>
<line x1="233.60" y1="418.54" x2="236.20" y2="418.54" stroke="#333" stroke-width="1.1" />
<text x="232.60" y="420.74" font-size="6.2" fill="#333" font-weight="bold" text-anchor="end" >15</text>
<line x1="233.60" y1="400.22" x2="236.20" y2="400.22" stroke="#333" stroke-width="1.1" />
<text x="232.60" y="402.42" font-size="6.2" fill="#333" font-weight="bold" text-anchor="end" >20</text>
<line x1="233.60" y1="381.90" x2="236.20" y2="381.90" stroke="#333" stroke-width="1.1" />
<text x="232.60" y="384.10" font-size="6.2" fill="#333" font-weight="bold" text-anchor="end" >25</text>
<text x="271.30" y="377.60" font-size="9.3" fill="#80dc40" font-weight="normal" text-anchor="middle" stroke="#80dc40" stroke-width="0.2">NSM</text>
<text x="251.80" y="487.00" font-size="8.2" fill="#222" font-weight="normal" text-anchor="middle" stroke="#222" stroke-width="0.15">HC</text>
<text x="275.50" y="487.00" font-size="8.2" fill="#222" font-weight="normal" text-anchor="middle" stroke="#222" stroke-width="0.15">SLE</text>
<text x="251.80" y="497.40" font-size="8.2" fill="#222" font-weight="normal" text-anchor="middle" stroke="#222" stroke-width="0.15">(16)</text>
<text x="275.50" y="497.40" font-size="8.2" fill="#222" font-weight="normal" text-anchor="middle" stroke="#222" stroke-width="0.15">(24)</text>
<text x="219.5" y="422.3" font-size="7.2" fill="#505050" text-anchor="middle" stroke="#505050" stroke-width="0.12" textLength="54" lengthAdjust="spacingAndGlyphs" transform="rotate(-90 219.5 422.3)">MFI HVEM (x10<tspan font-size="4.90" dy="-2.6">3</tspan><tspan dy="2.6">)</tspan></text>
<line x1="318.00" y1="381.90" x2="318.00" y2="473.30" stroke="#333" stroke-width="1.3" />
<line x1="317.40" y1="472.70" x2="375.80" y2="472.70" stroke="#333" stroke-width="1.3" />
<line x1="315.40" y1="472.70" x2="318.00" y2="472.70" stroke="#333" stroke-width="1.1" />
<text x="314.40" y="474.90" font-size="6.2" fill="#333" font-weight="bold" text-anchor="end" >0</text>
<line x1="315.40" y1="454.66" x2="318.00" y2="454.66" stroke="#333" stroke-width="1.1" />
<text x="314.40" y="456.86" font-size="6.2" fill="#333" font-weight="bold" text-anchor="end" >5</text>
<line x1="315.40" y1="436.62" x2="318.00" y2="436.62" stroke="#333" stroke-width="1.1" />
<text x="314.40" y="438.82" font-size="6.2" fill="#333" font-weight="bold" text-anchor="end" >10</text>
<line x1="315.40" y1="418.58" x2="318.00" y2="418.58" stroke="#333" stroke-width="1.1" />
<text x="314.40" y="420.78" font-size="6.2" fill="#333" font-weight="bold" text-anchor="end" >15</text>
<line x1="315.40" y1="400.54" x2="318.00" y2="400.54" stroke="#333" stroke-width="1.1" />
<text x="314.40" y="402.74" font-size="6.2" fill="#333" font-weight="bold" text-anchor="end" >20</text>
<line x1="315.40" y1="382.50" x2="318.00" y2="382.50" stroke="#333" stroke-width="1.1" />
<text x="314.40" y="384.70" font-size="6.2" fill="#333" font-weight="bold" text-anchor="end" >25</text>
<text x="352.40" y="377.60" font-size="9.3" fill="#d04848" font-weight="normal" text-anchor="middle" stroke="#d04848" stroke-width="0.2">SM</text>
<text x="336.30" y="487.00" font-size="8.2" fill="#222" font-weight="normal" text-anchor="middle" stroke="#222" stroke-width="0.15">HC</text>
<text x="360.70" y="487.00" font-size="8.2" fill="#222" font-weight="normal" text-anchor="middle" stroke="#222" stroke-width="0.15">SLE</text>
<text x="336.30" y="497.40" font-size="8.2" fill="#222" font-weight="normal" text-anchor="middle" stroke="#222" stroke-width="0.15">(16)</text>
<text x="360.70" y="497.40" font-size="8.2" fill="#222" font-weight="normal" text-anchor="middle" stroke="#222" stroke-width="0.15">(24)</text>
<text x="304.5" y="424.0" font-size="7.2" fill="#505050" text-anchor="middle" stroke="#505050" stroke-width="0.12" textLength="59" lengthAdjust="spacingAndGlyphs" transform="rotate(-90 304.5 424.0)">MFI HVEM (x10<tspan font-size="4.90" dy="-2.6">3</tspan><tspan dy="2.6">)</tspan></text>
<line x1="406.70" y1="382.40" x2="406.70" y2="472.00" stroke="#666" stroke-width="1.3" />
<line x1="406.10" y1="471.40" x2="458.20" y2="471.40" stroke="#666" stroke-width="1.3" />
<line x1="404.10" y1="471.40" x2="406.70" y2="471.40" stroke="#666" stroke-width="1.1" />
<text x="403.10" y="473.60" font-size="6.2" fill="#333" font-weight="bold" text-anchor="end" >0</text>
<line x1="404.10" y1="453.72" x2="406.70" y2="453.72" stroke="#666" stroke-width="1.1" />
<text x="403.10" y="455.92" font-size="6.2" fill="#333" font-weight="bold" text-anchor="end" >5</text>
<line x1="404.10" y1="436.04" x2="406.70" y2="436.04" stroke="#666" stroke-width="1.1" />
<text x="403.10" y="438.24" font-size="6.2" fill="#333" font-weight="bold" text-anchor="end" >10</text>
<line x1="404.10" y1="418.36" x2="406.70" y2="418.36" stroke="#666" stroke-width="1.1" />
<text x="403.10" y="420.56" font-size="6.2" fill="#333" font-weight="bold" text-anchor="end" >15</text>
<line x1="404.10" y1="400.68" x2="406.70" y2="400.68" stroke="#666" stroke-width="1.1" />
<text x="403.10" y="402.88" font-size="6.2" fill="#333" font-weight="bold" text-anchor="end" >20</text>
<line x1="404.10" y1="383.00" x2="406.70" y2="383.00" stroke="#666" stroke-width="1.1" />
<text x="403.10" y="385.20" font-size="6.2" fill="#333" font-weight="bold" text-anchor="end" >25</text>
<text x="432.70" y="377.60" font-size="9.3" fill="#111" font-weight="normal" text-anchor="middle" stroke="#111" stroke-width="0.2">DN</text>
<text x="423.00" y="487.00" font-size="8.2" fill="#222" font-weight="normal" text-anchor="middle" stroke="#222" stroke-width="0.15">HC</text>
<text x="446.50" y="487.00" font-size="8.2" fill="#222" font-weight="normal" text-anchor="middle" stroke="#222" stroke-width="0.15">SLE</text>
<text x="423.00" y="497.40" font-size="8.2" fill="#222" font-weight="normal" text-anchor="middle" stroke="#222" stroke-width="0.15">(16)</text>
<text x="446.50" y="497.40" font-size="8.2" fill="#222" font-weight="normal" text-anchor="middle" stroke="#222" stroke-width="0.15">(24)</text>
<text x="389.5" y="422.3" font-size="7.2" fill="#505050" text-anchor="middle" stroke="#505050" stroke-width="0.12" textLength="52" lengthAdjust="spacingAndGlyphs" transform="rotate(-90 389.5 422.3)">MFI HVEM (x10<tspan font-size="4.90" dy="-2.6">3</tspan><tspan dy="2.6">)</tspan></text>
<circle cx="165.60" cy="411.67" r="1.60" fill="#fff" stroke="#3434d4" stroke-width="1.0" />
<circle cx="165.60" cy="415.30" r="1.60" fill="#fff" stroke="#3434d4" stroke-width="1.0" />
<circle cx="165.60" cy="421.47" r="1.60" fill="#fff" stroke="#3434d4" stroke-width="1.0" />
<circle cx="165.60" cy="433.46" r="1.60" fill="#fff" stroke="#3434d4" stroke-width="1.0" />
<circle cx="157.80" cy="435.64" r="1.60" fill="#fff" stroke="#3434d4" stroke-width="1.0" />
<circle cx="165.60" cy="436.00" r="1.60" fill="#fff" stroke="#3434d4" stroke-width="1.0" />
<circle cx="169.80" cy="436.73" r="1.60" fill="#fff" stroke="#3434d4" stroke-width="1.0" />
<circle cx="174.00" cy="437.45" r="1.60" fill="#fff" stroke="#3434d4" stroke-width="1.0" />
<circle cx="165.60" cy="438.54" r="1.60" fill="#fff" stroke="#3434d4" stroke-width="1.0" />
<circle cx="169.80" cy="439.63" r="1.60" fill="#fff" stroke="#3434d4" stroke-width="1.0" />
<circle cx="165.60" cy="441.09" r="1.60" fill="#fff" stroke="#3434d4" stroke-width="1.0" />
<circle cx="174.00" cy="441.81" r="1.60" fill="#fff" stroke="#3434d4" stroke-width="1.0" />
<circle cx="157.80" cy="444.72" r="1.60" fill="#fff" stroke="#3434d4" stroke-width="1.0" />
<circle cx="161.40" cy="444.72" r="1.60" fill="#fff" stroke="#3434d4" stroke-width="1.0" />
<circle cx="165.60" cy="444.72" r="1.60" fill="#fff" stroke="#3434d4" stroke-width="1.0" />
<circle cx="169.80" cy="444.72" r="1.60" fill="#fff" stroke="#3434d4" stroke-width="1.0" />
<circle cx="174.00" cy="446.53" r="1.60" fill="#fff" stroke="#3434d4" stroke-width="1.0" />
<line x1="160.80" y1="436.00" x2="175.80" y2="436.00" stroke="#555" stroke-width="0.9" />
<circle cx="194.40" cy="410.21" r="1.90" fill="#1c1cd0" stroke="none" stroke-width="1" />
<circle cx="192.60" cy="415.30" r="1.90" fill="#1c1cd0" stroke="none" stroke-width="1" />
<circle cx="196.20" cy="415.30" r="1.90" fill="#1c1cd0" stroke="none" stroke-width="1" />
<circle cx="196.20" cy="418.20" r="1.90" fill="#1c1cd0" stroke="none" stroke-width="1" />
<circle cx="192.60" cy="420.75" r="1.90" fill="#1c1cd0" stroke="none" stroke-width="1" />
<circle cx="194.40" cy="429.10" r="1.90" fill="#1c1cd0" stroke="none" stroke-width="1" />
<circle cx="192.60" cy="431.64" r="1.90" fill="#1c1cd0" stroke="none" stroke-width="1" />
<circle cx="196.20" cy="431.64" r="1.90" fill="#1c1cd0" stroke="none" stroke-width="1" />
<circle cx="186.00" cy="436.73" r="1.90" fill="#1c1cd0" stroke="none" stroke-width="1" />
<circle cx="189.60" cy="437.45" r="1.90" fill="#1c1cd0" stroke="none" stroke-width="1" />
<circle cx="192.60" cy="438.18" r="1.90" fill="#1c1cd0" stroke="none" stroke-width="1" />
<circle cx="196.20" cy="438.18" r="1.90" fill="#1c1cd0" stroke="none" stroke-width="1" />
<circle cx="199.20" cy="438.54" r="1.90" fill="#1c1cd0" stroke="none" stroke-width="1" />
<circle cx="202.20" cy="436.36" r="1.90" fill="#1c1cd0" stroke="none" stroke-width="1" />
<circle cx="189.60" cy="440.36" r="1.90" fill="#1c1cd0" stroke="none" stroke-width="1" />
<circle cx="194.40" cy="440.36" r="1.90" fill="#1c1cd0" stroke="none" stroke-width="1" />
<circle cx="199.40" cy="440.36" r="1.90" fill="#1c1cd0" stroke="none" stroke-width="1" />
<circle cx="192.60" cy="442.18" r="1.90" fill="#1c1cd0" stroke="none" stroke-width="1" />
<circle cx="196.20" cy="442.18" r="1.90" fill="#1c1cd0" stroke="none" stroke-width="1" />
<circle cx="189.60" cy="445.81" r="1.90" fill="#1c1cd0" stroke="none" stroke-width="1" />
<circle cx="192.60" cy="446.90" r="1.90" fill="#1c1cd0" stroke="none" stroke-width="1" />
<circle cx="195.60" cy="448.35" r="1.90" fill="#1c1cd0" stroke="none" stroke-width="1" />
<circle cx="199.20" cy="446.53" r="1.90" fill="#1c1cd0" stroke="none" stroke-width="1" />
<circle cx="194.40" cy="458.16" r="1.90" fill="#1c1cd0" stroke="none" stroke-width="1" />
<line x1="186.00" y1="436.00" x2="200.00" y2="436.00" stroke="#555" stroke-width="0.9" />
<rect x="241.50" y="400.00" width="20.30" height="47.00" fill="#e4fafa" stroke="none" stroke-width="1" />
<rect x="272.00" y="384.00" width="14.00" height="24.00" fill="#eafbfb" stroke="none" stroke-width="1" />
<rect x="266.00" y="420.00" width="20.00" height="42.00" fill="#e4fafa" stroke="none" stroke-width="1" />
<circle cx="251.80" cy="442.36" r="1.60" fill="#f2fce0" stroke="#80d030" stroke-width="1.0" />
<circle cx="257.00" cy="442.36" r="1.60" fill="#f2fce0" stroke="#80d030" stroke-width="1.0" />
<circle cx="246.60" cy="440.52" r="1.60" fill="#f2fce0" stroke="#80d030" stroke-width="1.0" />
<circle cx="259.60" cy="440.52" r="1.60" fill="#f2fce0" stroke="#80d030" stroke-width="1.0" />
<circle cx="244.00" cy="440.52" r="1.60" fill="#f2fce0" stroke="#80d030" stroke-width="1.0" />
<circle cx="254.40" cy="438.69" r="1.60" fill="#f2fce0" stroke="#80d030" stroke-width="1.0" />
<circle cx="249.20" cy="438.69" r="1.60" fill="#f2fce0" stroke="#80d030" stroke-width="1.0" />
<circle cx="259.60" cy="436.86" r="1.60" fill="#f2fce0" stroke="#80d030" stroke-width="1.0" />
<circle cx="244.00" cy="436.86" r="1.60" fill="#f2fce0" stroke="#80d030" stroke-width="1.0" />
<circle cx="254.40" cy="436.86" r="1.60" fill="#f2fce0" stroke="#80d030" stroke-width="1.0" />
<circle cx="249.20" cy="435.03" r="1.60" fill="#f2fce0" stroke="#80d030" stroke-width="1.0" />
<circle cx="257.00" cy="432.46" r="1.60" fill="#f2fce0" stroke="#80d030" stroke-width="1.0" />
<circle cx="244.00" cy="432.46" r="1.60" fill="#f2fce0" stroke="#80d030" stroke-width="1.0" />
<circle cx="251.80" cy="428.80" r="1.60" fill="#f2fce0" stroke="#80d030" stroke-width="1.0" />
<circle cx="251.80" cy="414.14" r="1.60" fill="#f2fce0" stroke="#80d030" stroke-width="1.0" />
<circle cx="254.40" cy="409.38" r="1.60" fill="#f2fce0" stroke="#80d030" stroke-width="1.0" />
<circle cx="249.20" cy="406.82" r="1.60" fill="#f2fce0" stroke="#80d030" stroke-width="1.0" />
<line x1="242.80" y1="437.59" x2="260.80" y2="437.59" stroke="#333" stroke-width="1.0" />
<circle cx="275.50" cy="459.58" r="1.80" fill="#48c820" stroke="none" stroke-width="0" />
<circle cx="275.50" cy="450.78" r="1.80" fill="#48c820" stroke="none" stroke-width="0" />
<circle cx="280.50" cy="448.58" r="1.80" fill="#48c820" stroke="none" stroke-width="0" />
<circle cx="275.50" cy="446.02" r="1.80" fill="#48c820" stroke="none" stroke-width="0" />
<circle cx="270.50" cy="446.02" r="1.80" fill="#48c820" stroke="none" stroke-width="0" />
<circle cx="280.50" cy="443.46" r="1.80" fill="#48c820" stroke="none" stroke-width="0" />
<circle cx="268.00" cy="443.46" r="1.80" fill="#48c820" stroke="none" stroke-width="0" />
<circle cx="275.50" cy="440.52" r="1.80" fill="#48c820" stroke="none" stroke-width="0" />
<circle cx="270.50" cy="440.52" r="1.80" fill="#48c820" stroke="none" stroke-width="0" />
<circle cx="280.50" cy="438.69" r="1.80" fill="#48c820" stroke="none" stroke-width="0" />
<circle cx="268.00" cy="438.69" r="1.80" fill="#48c820" stroke="none" stroke-width="0" />
<circle cx="283.00" cy="438.69" r="1.80" fill="#48c820" stroke="none" stroke-width="0" />
<circle cx="275.50" cy="435.03" r="1.80" fill="#48c820" stroke="none" stroke-width="0" />
<circle cx="280.50" cy="431.36" r="1.80" fill="#48c820" stroke="none" stroke-width="0" />
<circle cx="275.50" cy="428.80" r="1.80" fill="#48c820" stroke="none" stroke-width="0" />
<circle cx="270.50" cy="428.80" r="1.80" fill="#48c820" stroke="none" stroke-width="0" />
<circle cx="280.50" cy="425.87" r="1.80" fill="#48c820" stroke="none" stroke-width="0" />
<circle cx="275.50" cy="424.04" r="1.80" fill="#48c820" stroke="none" stroke-width="0" />
<circle cx="270.50" cy="424.04" r="1.80" fill="#48c820" stroke="none" stroke-width="0" />
<circle cx="275.50" cy="399.49" r="1.80" fill="#48c820" stroke="none" stroke-width="0" />
<circle cx="280.50" cy="397.66" r="1.80" fill="#48c820" stroke="none" stroke-width="0" />
<circle cx="275.50" cy="386.30" r="1.80" fill="#48c820" stroke="none" stroke-width="0" />
<line x1="266.50" y1="439.42" x2="284.50" y2="439.42" stroke="#333" stroke-width="1.0" />
<rect x="329.00" y="420.00" width="15.00" height="35.00" fill="#fbe8f4" stroke="none" stroke-width="1" />
<rect x="352.00" y="418.00" width="17.00" height="45.00" fill="#fbe8f4" stroke="none" stroke-width="1" />
<circle cx="336.30" cy="456.10" r="1.60" fill="#fff" stroke="#b87050" stroke-width="1.0" />
<circle cx="341.30" cy="452.86" r="1.60" fill="#fff" stroke="#b87050" stroke-width="1.0" />
<circle cx="336.30" cy="450.33" r="1.60" fill="#fff" stroke="#b87050" stroke-width="1.0" />
<circle cx="331.30" cy="450.33" r="1.60" fill="#fff" stroke="#b87050" stroke-width="1.0" />
<circle cx="341.30" cy="448.17" r="1.60" fill="#fff" stroke="#b87050" stroke-width="1.0" />
<circle cx="346.30" cy="448.17" r="1.60" fill="#fff" stroke="#b87050" stroke-width="1.0" />
<circle cx="336.30" cy="445.64" r="1.60" fill="#fff" stroke="#b87050" stroke-width="1.0" />
<circle cx="331.30" cy="445.64" r="1.60" fill="#fff" stroke="#b87050" stroke-width="1.0" />
<circle cx="326.30" cy="445.64" r="1.60" fill="#fff" stroke="#b87050" stroke-width="1.0" />
<circle cx="341.30" cy="445.64" r="1.60" fill="#fff" stroke="#b87050" stroke-width="1.0" />
<circle cx="346.30" cy="445.64" r="1.60" fill="#fff" stroke="#b87050" stroke-width="1.0" />
<circle cx="336.30" cy="443.84" r="1.60" fill="#fff" stroke="#b87050" stroke-width="1.0" />
<circle cx="331.30" cy="443.84" r="1.60" fill="#fff" stroke="#b87050" stroke-width="1.0" />
<circle cx="341.30" cy="440.23" r="1.60" fill="#fff" stroke="#b87050" stroke-width="1.0" />
<circle cx="336.30" cy="427.60" r="1.60" fill="#fff" stroke="#b87050" stroke-width="1.0" />
<circle cx="336.30" cy="421.47" r="1.60" fill="#fff" stroke="#b87050" stroke-width="1.0" />
<circle cx="341.30" cy="420.38" r="1.60" fill="#fff" stroke="#b87050" stroke-width="1.0" />
<line x1="326.80" y1="446.00" x2="345.80" y2="446.00" stroke="#333" stroke-width="1.0" />
<circle cx="360.70" cy="460.07" r="1.80" fill="#a06a20" stroke="none" stroke-width="0" />
<circle cx="360.70" cy="452.86" r="1.80" fill="#a06a20" stroke="none" stroke-width="0" />
<circle cx="365.30" cy="451.05" r="1.80" fill="#a06a20" stroke="none" stroke-width="0" />
<circle cx="356.10" cy="451.05" r="1.80" fill="#a06a20" stroke="none" stroke-width="0" />
<circle cx="360.70" cy="447.44" r="1.80" fill="#a06a20" stroke="none" stroke-width="0" />
<circle cx="367.60" cy="447.44" r="1.80" fill="#a06a20" stroke="none" stroke-width="0" />
<circle cx="363.00" cy="443.84" r="1.80" fill="#a06a20" stroke="none" stroke-width="0" />
<circle cx="358.40" cy="443.84" r="1.80" fill="#a06a20" stroke="none" stroke-width="0" />
<circle cx="353.80" cy="443.84" r="1.80" fill="#a06a20" stroke="none" stroke-width="0" />
<circle cx="369.90" cy="443.84" r="1.80" fill="#a06a20" stroke="none" stroke-width="0" />
<circle cx="365.30" cy="442.03" r="1.80" fill="#a06a20" stroke="none" stroke-width="0" />
<circle cx="351.50" cy="442.03" r="1.80" fill="#a06a20" stroke="none" stroke-width="0" />
<circle cx="358.40" cy="442.03" r="1.80" fill="#a06a20" stroke="none" stroke-width="0" />
<circle cx="369.90" cy="442.03" r="1.80" fill="#a06a20" stroke="none" stroke-width="0" />
<circle cx="363.00" cy="442.03" r="1.80" fill="#a06a20" stroke="none" stroke-width="0" />
<circle cx="356.10" cy="440.23" r="1.80" fill="#a06a20" stroke="none" stroke-width="0" />
<circle cx="360.70" cy="435.90" r="1.80" fill="#a06a20" stroke="none" stroke-width="0" />
<circle cx="365.30" cy="435.90" r="1.80" fill="#a06a20" stroke="none" stroke-width="0" />
<circle cx="360.70" cy="431.21" r="1.80" fill="#a06a20" stroke="none" stroke-width="0" />
<circle cx="360.70" cy="422.91" r="1.80" fill="#a06a20" stroke="none" stroke-width="0" />
<line x1="351.20" y1="443.48" x2="370.20" y2="443.48" stroke="#e02020" stroke-width="1.4" />
<circle cx="423.00" cy="450.18" r="1.60" fill="#fff" stroke="#333" stroke-width="1.0" />
<circle cx="428.00" cy="450.18" r="1.60" fill="#fff" stroke="#333" stroke-width="1.0" />
<circle cx="418.00" cy="448.42" r="1.60" fill="#fff" stroke="#333" stroke-width="1.0" />
<circle cx="430.50" cy="448.42" r="1.60" fill="#fff" stroke="#333" stroke-width="1.0" />
<circle cx="425.50" cy="445.94" r="1.60" fill="#fff" stroke="#333" stroke-width="1.0" />
<circle cx="420.50" cy="445.94" r="1.60" fill="#fff" stroke="#333" stroke-width="1.0" />
<circle cx="415.50" cy="445.94" r="1.60" fill="#fff" stroke="#333" stroke-width="1.0" />
<circle cx="430.50" cy="443.82" r="1.60" fill="#fff" stroke="#333" stroke-width="1.0" />
<circle cx="425.50" cy="443.82" r="1.60" fill="#fff" stroke="#333" stroke-width="1.0" />
<circle cx="420.50" cy="443.82" r="1.60" fill="#fff" stroke="#333" stroke-width="1.0" />
<circle cx="415.50" cy="443.82" r="1.60" fill="#fff" stroke="#333" stroke-width="1.0" />
<circle cx="430.50" cy="443.82" r="1.60" fill="#fff" stroke="#333" stroke-width="1.0" />
<circle cx="423.00" cy="437.81" r="1.60" fill="#fff" stroke="#333" stroke-width="1.0" />
<circle cx="423.00" cy="428.97" r="1.60" fill="#fff" stroke="#333" stroke-width="1.0" />
<circle cx="423.00" cy="421.90" r="1.60" fill="#fff" stroke="#333" stroke-width="1.0" />
<circle cx="423.00" cy="416.59" r="1.60" fill="#fff" stroke="#333" stroke-width="1.0" />
<line x1="415.00" y1="445.23" x2="431.00" y2="445.23" stroke="#555" stroke-width="1.0" />
<circle cx="446.50" cy="457.96" r="1.75" fill="#111" stroke="none" stroke-width="0" />
<circle cx="451.10" cy="455.49" r="1.75" fill="#111" stroke="none" stroke-width="0" />
<circle cx="446.50" cy="451.95" r="1.75" fill="#111" stroke="none" stroke-width="0" />
<circle cx="451.10" cy="450.18" r="1.75" fill="#111" stroke="none" stroke-width="0" />
<circle cx="441.90" cy="450.18" r="1.75" fill="#111" stroke="none" stroke-width="0" />
<circle cx="446.50" cy="447.36" r="1.75" fill="#111" stroke="none" stroke-width="0" />
<circle cx="455.70" cy="447.36" r="1.75" fill="#111" stroke="none" stroke-width="0" />
<circle cx="437.30" cy="447.36" r="1.75" fill="#111" stroke="none" stroke-width="0" />
<circle cx="451.10" cy="447.36" r="1.75" fill="#111" stroke="none" stroke-width="0" />
<circle cx="441.90" cy="445.94" r="1.75" fill="#111" stroke="none" stroke-width="0" />
<circle cx="446.50" cy="445.94" r="1.75" fill="#111" stroke="none" stroke-width="0" />
<circle cx="451.10" cy="445.94" r="1.75" fill="#111" stroke="none" stroke-width="0" />
<circle cx="455.70" cy="445.94" r="1.75" fill="#111" stroke="none" stroke-width="0" />
<circle cx="437.30" cy="445.94" r="1.75" fill="#111" stroke="none" stroke-width="0" />
<circle cx="448.80" cy="443.11" r="1.75" fill="#111" stroke="none" stroke-width="0" />
<circle cx="444.20" cy="443.11" r="1.75" fill="#111" stroke="none" stroke-width="0" />
<circle cx="453.40" cy="439.58" r="1.75" fill="#111" stroke="none" stroke-width="0" />
<circle cx="439.60" cy="439.58" r="1.75" fill="#111" stroke="none" stroke-width="0" />
<circle cx="446.50" cy="436.04" r="1.75" fill="#111" stroke="none" stroke-width="0" />
<circle cx="451.10" cy="432.50" r="1.75" fill="#111" stroke="none" stroke-width="0" />
<circle cx="446.50" cy="428.26" r="1.75" fill="#111" stroke="none" stroke-width="0" />
<circle cx="451.10" cy="427.20" r="1.75" fill="#111" stroke="none" stroke-width="0" />
<circle cx="446.50" cy="421.19" r="1.75" fill="#111" stroke="none" stroke-width="0" />
<circle cx="451.10" cy="420.13" r="1.75" fill="#111" stroke="none" stroke-width="0" />
<line x1="437.50" y1="445.94" x2="455.50" y2="445.94" stroke="#555" stroke-width="1.0" /></svg></body></html>
